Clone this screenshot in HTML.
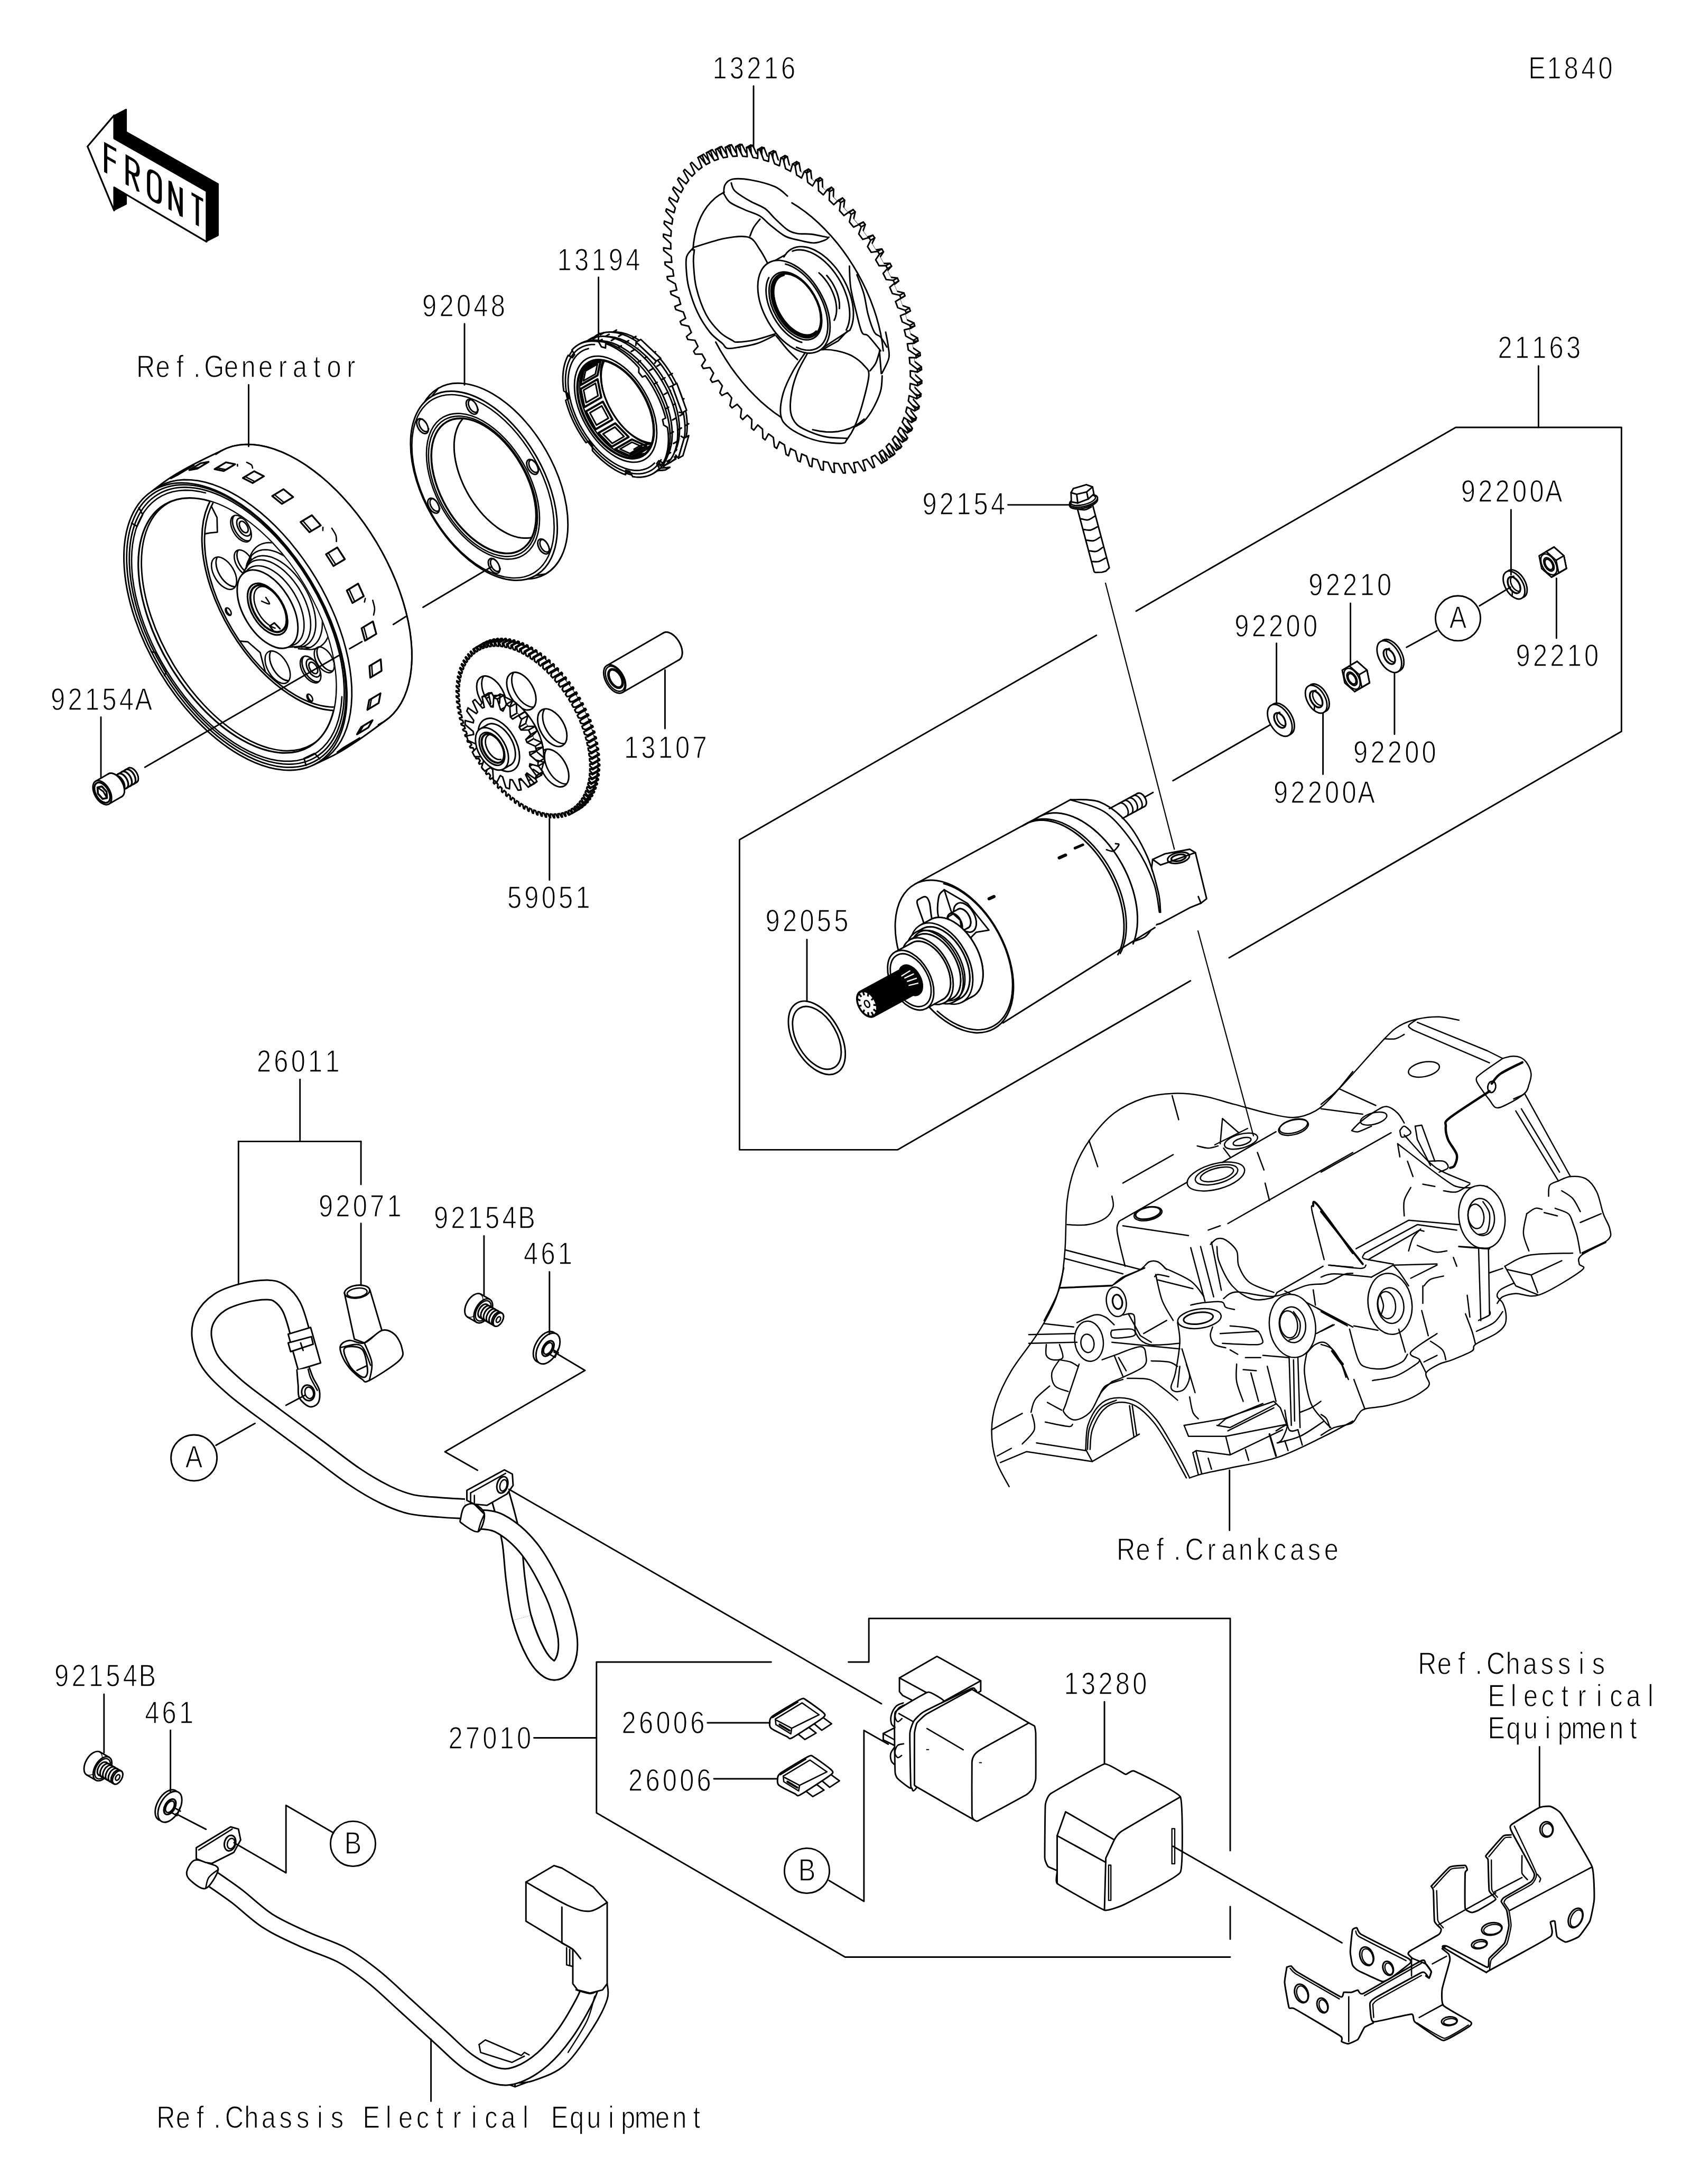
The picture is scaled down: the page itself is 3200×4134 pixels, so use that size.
<!DOCTYPE html>
<html><head><meta charset="utf-8"><title>E1840 Starter Motor</title>
<style>
html,body{margin:0;padding:0;background:#fff}
svg{display:block}
svg text{font-family:"Liberation Sans",sans-serif;font-size:58.5px;fill:#000;stroke:#fff;stroke-width:1.3px;text-anchor:middle}
</style></head><body>
<svg width="3200" height="4134" viewBox="0 0 3200 4134">
<rect width="3200" height="4134" fill="#fff"/>

<g fill="none" stroke="#000" stroke-width="2.9" stroke-linejoin="round" stroke-linecap="round">
<g id="p_arrow"><path d="M216 218.1L237.8 206.6L239.6 206.6L239.6 249.2L413.4 347.6L413.4 446.1L390.9 457.6L390.9 361.8L216 262Z" fill="#000" stroke-width="1"/><path d="M216 354.7L239.6 368.9L239.6 386.7L216 398.6Z" fill="#000" stroke-width="1"/><path d="M165.6 277.2L216 218.1L216 262L390.9 361.8L390.9 457.6L216 354.7L216 398.6Z" fill="#fff" stroke-width="3.2"/><path d="M0 57V0L20 0M0 25L19 25" transform="matrix(1 0.571 0 0.95 200 273)" stroke-width="6" stroke-linecap="butt" stroke-linejoin="miter"/><path d="M0 57V0H11Q21 0 21 14Q21 28 11 28H0M10 28L21 57" transform="matrix(1 0.571 0 0.95 240.6 296.4)" stroke-width="6" stroke-linecap="butt" stroke-linejoin="miter"/><path d="M11 0Q22 0 22 14V43Q22 57 11 57Q0 57 0 43V14Q0 0 11 0Z" transform="matrix(1 0.571 0 0.95 281.2 319.8)" stroke-width="6" stroke-linecap="butt" stroke-linejoin="miter"/><path d="M0 57V0L21 57V0" transform="matrix(1 0.571 0 0.95 321.8 343.2)" stroke-width="6" stroke-linecap="butt" stroke-linejoin="miter"/><path d="M0 0H22M11 0V57" transform="matrix(1 0.571 0 0.95 362.4 366.6)" stroke-width="6" stroke-linecap="butt" stroke-linejoin="miter"/></g>
<g id="p_gear"><path d="M1659.9 859.1L1663.2 857.3L1675.8 872.4L1678.9 870.4L1671.3 852L1674.4 849.7L1677.4 847.4L1690.6 861.5L1693.3 859L1684.7 840.8L1687.4 838L1690.1 835.2L1703.8 848.1L1706.2 845.2L1696.5 827.4L1698.9 824.2L1701.2 820.8L1715.3 832.5L1717.3 829.1L1706.7 811.9L1708.7 808.2L1710.6 804.4L1724.9 814.7L1726.6 810.9L1715.2 794.4L1716.8 790.3L1718.3 786.2L1732.7 795L1734.1 790.8L1721.8 775.2L1723 770.7L1724.1 766.1L1738.6 773.4L1739.5 768.9L1726.6 754.2L1727.4 749.4L1728.1 744.6L1742.4 750.2L1742.9 745.4L1729.5 731.8L1729.9 726.7L1730.1 721.6L1744.2 725.6L1744.3 720.5L1730.4 708.2L1730.4 702.8L1730.2 697.4L1743.9 699.7L1743.6 694.4L1729.5 683.4L1729 677.9L1728.4 672.3L1741.6 672.9L1740.9 667.4L1726.6 657.8L1725.7 652.1L1724.7 646.4L1737.3 645.3L1736.2 639.7L1721.8 631.6L1720.5 625.7L1719.1 619.9L1731 617.1L1729.5 611.4L1715.1 604.9L1713.4 599L1711.6 593.1L1722.7 588.6L1720.8 582.9L1706.6 578L1704.5 572.1L1702.4 566.2L1712.6 560.1L1710.3 554.4L1696.4 551.2L1694 545.3L1691.4 539.5L1700.7 531.8L1698.1 526.2L1684.6 524.7L1681.8 518.9L1678.9 513.1L1687.1 503.9L1684.2 498.4L1671.2 498.6L1668.1 492.9L1664.9 487.3L1671.9 476.7L1668.7 471.3L1656.4 473.2L1653 467.8L1649.5 462.3L1655.3 450.3L1651.8 445.2L1640.3 448.8L1636.6 443.6L1632.8 438.4L1637.4 425.1L1633.7 420.2L1623 425.5L1619.1 420.5L1615.1 415.6L1618.4 401.2L1614.5 396.7L1604.7 403.5L1600.6 398.9L1596.4 394.3L1598.4 378.9L1594.3 374.7L1585.5 383.1L1581.2 378.8L1576.9 374.6L1577.6 358.3L1573.3 354.4L1565.7 364.4L1561.2 360.5L1556.8 356.7L1556.1 339.7L1551.8 336.2L1545.3 347.5L1540.8 344L1536.2 340.7L1534.2 323L1529.8 320L1524.6 332.6L1520 329.6L1515.4 326.7L1512.1 308.6L1507.6 306L1503.6 319.9L1499 317.4L1494.4 315L1489.9 296.6L1485.4 294.4L1482.7 309.4L1478.1 307.3L1473.6 305.5L1467.7 286.9L1463.4 285.3L1462 301.2L1457.5 299.7L1453 298.3L1445.9 279.8L1441.6 278.7L1441.6 295.4L1437.2 294.4L1432.8 293.6L1424.6 275.3L1420.5 274.7L1421.7 292.1L1417.5 291.6L1413.2 291.4L1404 273.4L1400 273.3L1402.6 291.2L1398.5 291.3L1394.4 291.6L1384.2 274.1L1380.4 274.6L1384.3 292.8L1380.4 293.5L1376.6 294.3L1365.5 277.5L1361.9 278.4L1367 296.9L1363.4 298.1L1359.8 299.5L1347.9 283.4L1344.5 284.9L1350.9 303.4L1347.5 305.2L1344.2 307.1L1331.6 291.9L1328.6 293.9L1336.1 312.3" fill="#fff"/><path d="M1655.5 861.7L1663.2 857.3M1668.1 876.9L1675.8 872.4M1671.2 874.9L1678.9 870.4M1663.6 856.4L1671.3 852M1669.7 851.8L1677.4 847.4M1682.9 865.9L1690.6 861.5M1685.6 863.4L1693.3 859M1677 845.2L1684.7 840.8M1682.4 839.6L1690.1 835.2M1696.1 852.5L1703.8 848.1M1698.5 849.6L1706.2 845.2M1688.8 831.8L1696.5 827.4M1693.5 825.3L1701.2 820.8M1707.5 836.9L1715.3 832.5M1709.6 833.5L1717.3 829.1M1699 816.3L1706.7 811.9M1702.9 808.9L1710.6 804.4M1717.2 819.2L1724.9 814.7M1718.9 815.4L1726.6 810.9M1707.4 798.9L1715.2 794.4M1710.6 790.6L1718.3 786.2M1725 799.4L1732.7 795M1726.3 795.2L1734.1 790.8M1714.1 779.6L1721.8 775.2M1716.4 770.6L1724.1 766.1M1730.8 777.8L1738.6 773.4M1731.8 773.3L1739.5 768.9M1718.9 758.7L1726.6 754.2M1720.4 749L1728.1 744.6M1734.7 754.7L1742.4 750.2M1735.2 749.8L1742.9 745.4M1721.8 736.3L1729.5 731.8M1722.4 726L1730.1 721.6M1736.5 730L1744.2 725.6M1736.6 725L1744.3 720.5M1722.7 712.6L1730.4 708.2M1722.5 701.8L1730.2 697.4M1736.2 704.2L1743.9 699.7M1735.9 698.9L1743.6 694.4M1721.7 687.9L1729.5 683.4M1720.7 676.7L1728.4 672.3M1733.9 677.3L1741.6 672.9M1733.2 671.9L1740.9 667.4M1718.8 662.3L1726.6 657.8M1717 650.8L1724.7 646.4M1729.6 649.7L1737.3 645.3M1728.5 644.1L1736.2 639.7M1714 636L1721.8 631.6M1711.3 624.3L1719.1 619.9M1723.3 621.5L1731 617.1M1721.8 615.9L1729.5 611.4M1707.4 609.3L1715.1 604.9M1703.9 597.5L1711.6 593.1M1715 593.1L1722.7 588.6M1713.1 587.4L1720.8 582.9M1698.9 582.5L1706.6 578M1694.6 570.7L1702.4 566.2M1704.9 564.6L1712.6 560.1M1702.6 558.9L1710.3 554.4M1688.7 555.7L1696.4 551.2M1683.7 543.9L1691.4 539.5M1692.9 536.2L1700.7 531.8M1690.4 530.6L1698.1 526.2M1676.9 529.1L1684.6 524.7M1671.2 517.5L1678.9 513.1M1679.4 508.3L1687.1 503.9M1676.4 502.8L1684.2 498.4M1663.5 503L1671.2 498.6M1657.1 491.8L1664.9 487.3M1664.2 481.1L1671.9 476.7M1661 475.7L1668.7 471.3M1648.7 477.6L1656.4 473.2M1641.7 466.8L1649.5 462.3M1647.6 454.8L1655.3 450.3M1644.1 449.6L1651.8 445.2M1632.6 453.2L1640.3 448.8M1625.1 442.8L1632.8 438.4M1629.7 429.6L1637.4 425.1M1626 424.7L1633.7 420.2M1615.3 429.9L1623 425.5M1607.4 420.1L1615.1 415.6M1610.7 405.7L1618.4 401.2M1606.8 401.1L1614.5 396.7M1597 408L1604.7 403.5M1588.7 398.8L1596.4 394.3M1590.7 383.4L1598.4 378.9M1586.6 379.1L1594.3 374.7M1577.8 387.5L1585.5 383.1M1569.2 379.1L1576.9 374.6M1569.9 362.8L1577.6 358.3M1565.6 358.9L1573.3 354.4M1558 368.8L1565.7 364.4M1549.1 361.1L1556.8 356.7M1548.4 344.1L1556.1 339.7M1544.1 340.6L1551.8 336.2M1537.6 351.9L1545.3 347.5M1528.5 345.1L1536.2 340.7M1526.5 327.5L1534.2 323M1522.1 324.4L1529.8 320M1516.8 337L1524.6 332.6M1507.6 331.2L1515.4 326.7M1504.4 313.1L1512.1 308.6M1499.9 310.5L1507.6 306M1495.9 324.3L1503.6 319.9M1486.7 319.4L1494.4 315M1482.1 301L1489.9 296.6M1477.7 298.9L1485.4 294.4M1475 313.8L1482.7 309.4M1465.8 309.9L1473.6 305.5M1460 291.4L1467.7 286.9M1455.6 289.8L1463.4 285.3M1454.3 305.6L1462 301.2M1445.2 302.8L1453 298.3M1438.2 284.3L1445.9 279.8M1433.9 283.2L1441.6 278.7M1433.9 299.8L1441.6 295.4M1425.1 298.1L1432.8 293.6M1416.9 279.7L1424.6 275.3M1412.7 279.1L1420.5 274.7M1414 296.5L1421.7 292.1M1405.5 295.8L1413.2 291.4M1396.3 277.8L1404 273.4M1392.3 277.8L1400 273.3M1394.9 295.6L1402.6 291.2M1386.7 296L1394.4 291.6M1376.5 278.5L1384.2 274.1M1372.7 279L1380.4 274.6M1376.6 297.2L1384.3 292.8M1368.8 298.7L1376.6 294.3M1357.8 281.9L1365.5 277.5M1354.1 282.9L1361.9 278.4M1359.3 301.3L1367 296.9M1352.1 303.9L1359.8 299.5M1340.2 287.8L1347.9 283.4M1336.8 289.3L1344.5 284.9M1343.2 307.9L1350.9 303.4M1336.5 311.5L1344.2 307.1M1323.9 296.3L1331.6 291.9M1320.8 298.3L1328.6 293.9M1328.4 316.8L1336.1 312.3"/><g stroke="none"><ellipse cx="1503.7" cy="582.2" rx="319.5" ry="187.9" transform="rotate(60.1 1503.7 582.2)" fill="#fff"/></g><g stroke="none"><ellipse cx="1501.1" cy="583.7" rx="319.5" ry="187.9" transform="rotate(60.1 1501.1 583.7)" fill="#fff"/></g><g stroke="none"><ellipse cx="1498.5" cy="585.1" rx="319.5" ry="187.9" transform="rotate(60.1 1498.5 585.1)" fill="#fff"/></g><g stroke="none"><ellipse cx="1496" cy="586.6" rx="319.5" ry="187.9" transform="rotate(60.1 1496 586.6)" fill="#fff"/></g><path d="M1399.2 769.9L1403.3 774.4L1401.3 789.8L1405.4 794.1L1414.2 785.7L1418.5 789.9L1422.8 794.1L1422.1 810.4L1426.4 814.3L1434 804.4L1438.5 808.3L1442.9 812.1L1443.6 829.1L1447.9 832.6L1454.4 821.3L1459 824.7L1463.5 828.1L1465.5 845.7L1469.9 848.8L1475.2 836.2L1479.8 839.2L1484.4 842L1487.6 860.1L1492.1 862.7L1496.1 848.9L1500.7 851.4L1505.3 853.8L1509.9 872.2L1514.3 874.3L1517 859.4L1521.6 861.4L1526.2 863.3L1532 881.8L1536.4 883.4L1537.7 867.6L1542.3 869.1L1546.8 870.4L1553.8 888.9L1558.1 890L1558.1 873.4L1562.5 874.3L1566.9 875.1L1575.1 893.5L1579.3 894.1L1578 876.7L1582.3 877.1L1586.5 877.4L1595.7 895.4L1599.7 895.4L1597.1 877.6L1601.2 877.4L1605.3 877.2L1615.5 894.7L1619.3 894.2L1615.4 876L1619.3 875.3L1623.2 874.5L1634.2 891.3L1637.9 890.3L1632.7 871.9L1636.3 870.6L1639.9 869.3L1651.8 885.4L1655.2 883.9L1648.8 865.3L1652.2 863.6L1655.5 861.7L1668.1 876.9L1671.2 874.9L1663.6 856.4L1666.7 854.2L1669.7 851.8L1682.9 865.9L1685.6 863.4L1677 845.2L1679.7 842.5L1682.4 839.6L1696.1 852.5L1698.5 849.6L1688.8 831.8L1691.2 828.6L1693.5 825.3L1707.5 836.9L1709.6 833.5L1699 816.3L1701 812.6L1702.9 808.9L1717.2 819.2L1718.9 815.4L1707.4 798.9L1709.1 794.8L1710.6 790.6L1725 799.4L1726.3 795.2L1714.1 779.6L1715.3 775.1L1716.4 770.6L1730.8 777.8L1731.8 773.3L1718.9 758.7L1719.7 753.9L1720.4 749L1734.7 754.7L1735.2 749.8L1721.8 736.3L1722.1 731.2L1722.4 726L1736.5 730L1736.6 725L1722.7 712.6L1722.7 707.3L1722.5 701.8L1736.2 704.2L1735.9 698.9L1721.7 687.9L1721.3 682.3L1720.7 676.7L1733.9 677.3L1733.2 671.9L1718.8 662.3L1718 656.5L1717 650.8L1729.6 649.7L1728.5 644.1L1714 636L1712.7 630.2L1711.3 624.3L1723.3 621.5L1721.8 615.9L1707.4 609.3L1705.7 603.4L1703.9 597.5L1715 593.1L1713.1 587.4L1698.9 582.5L1696.8 576.6L1694.6 570.7L1704.9 564.6L1702.6 558.9L1688.7 555.7L1686.3 549.8L1683.7 543.9L1692.9 536.2L1690.4 530.6L1676.9 529.1L1674.1 523.3L1671.2 517.5L1679.4 508.3L1676.4 502.8L1663.5 503L1660.4 497.4L1657.1 491.8L1664.2 481.1L1661 475.7L1648.7 477.6L1645.2 472.2L1641.7 466.8L1647.6 454.8L1644.1 449.6L1632.6 453.2L1628.9 448L1625.1 442.8L1629.7 429.6L1626 424.7L1615.3 429.9L1611.3 425L1607.4 420.1L1610.7 405.7L1606.8 401.1L1597 408L1592.8 403.3L1588.7 398.8L1590.7 383.4L1586.6 379.1L1577.8 387.5L1573.5 383.3L1569.2 379.1L1569.9 362.8L1565.6 358.9L1558 368.8L1553.5 364.9L1549.1 361.1L1548.4 344.1L1544.1 340.6L1537.6 351.9L1533 348.5L1528.5 345.1L1526.5 327.5L1522.1 324.4L1516.8 337L1512.2 334L1507.6 331.2L1504.4 313.1L1499.9 310.5L1495.9 324.3L1491.3 321.8L1486.7 319.4L1482.1 301L1477.7 298.9L1475 313.8L1470.4 311.8L1465.8 309.9L1460 291.4L1455.6 289.8L1454.3 305.6L1449.7 304.1L1445.2 302.8L1438.2 284.3L1433.9 283.2L1433.9 299.8L1429.5 298.9L1425.1 298.1L1416.9 279.7L1412.7 279.1L1414 296.5L1409.7 296.1L1405.5 295.8L1396.3 277.8L1392.3 277.8L1394.9 295.6L1390.8 295.8L1386.7 296L1376.5 278.5L1372.7 279L1376.6 297.2L1372.7 297.9L1368.8 298.7L1357.8 281.9L1354.1 282.9L1359.3 301.3L1355.7 302.6L1352.1 303.9L1340.2 287.8L1336.8 289.3L1343.2 307.9L1339.8 309.6L1336.5 311.5L1323.9 296.3L1320.8 298.3L1328.4 316.8L1325.3 319L1322.3 321.4L1309.1 307.3L1306.4 309.8L1315 328L1312.3 330.7L1309.6 333.6L1295.9 320.7L1293.5 323.6L1303.2 341.4L1300.8 344.6L1298.5 347.9L1284.5 336.3L1282.4 339.7L1293 356.9L1291 360.6L1289.1 364.3L1274.8 354L1273.1 357.8L1284.6 374.3L1282.9 378.4L1281.4 382.6L1267 373.8L1265.7 378L1277.9 393.6L1276.7 398.1L1275.6 402.6L1261.2 395.4L1260.2 399.9L1273.1 414.5L1272.3 419.3L1271.6 424.2L1257.3 418.5L1256.8 423.4L1270.2 436.9L1269.9 442L1269.6 447.2L1255.5 443.2L1255.4 448.2L1269.3 460.6L1269.3 465.9L1269.5 471.4L1255.8 469L1256.1 474.3L1270.3 485.3L1270.7 490.9L1271.3 496.5L1258.1 495.9L1258.8 501.3L1273.2 510.9L1274 516.7L1275 522.4L1262.4 523.5L1263.5 529.1L1278 537.2L1279.3 543L1280.7 548.9L1268.7 551.7L1270.2 557.3L1284.6 563.9L1286.3 569.8L1288.1 575.7L1277 580.1L1278.9 585.8L1293.1 590.7L1295.2 596.6L1297.4 602.5L1287.1 608.6L1289.4 614.3L1303.3 617.5L1305.7 623.4L1308.3 629.3L1299.1 637L1301.6 642.6L1315.1 644.1L1317.9 649.9L1320.8 655.7L1312.6 664.9L1315.6 670.4L1328.5 670.2L1331.6 675.8L1334.9 681.4L1327.8 692.1L1331 697.5L1343.3 695.6L1346.8 701L1350.3 706.4L1344.4 718.4L1347.9 723.6L1359.4 720L1363.1 725.2L1366.9 730.4L1362.3 743.6L1366 748.5L1376.7 743.3L1380.7 748.2L1384.6 753.1L1381.3 767.5L1385.2 772.1L1395 765.2Z" fill="#fff"/><path d="M1370.5 363.7L1361.4 368.9L1352.9 375.2L1345.2 382.6L1338.1 390.9L1331.8 400.2L1326.3 410.4L1321.6 421.5L1317.7 433.4L1314.7 446.1L1312.6 459.4L1311.3 473.4"/><path d="M1354.4 647.5L1363.2 663.5L1372.7 679.1L1382.7 694.3L1393.4 708.9L1404.5 722.9L1416.1 736.2L1428.1 748.8L1440.4 760.6L1453 771.4L1465.8 781.4L1478.7 790.3"/><path d="M1671.4 664.1L1669.5 648.4L1666.7 632.4L1663 616.2L1658.5 599.8L1653.1 583.4L1647 567L1640 550.7L1632.3 534.6L1623.8 518.7L1614.7 503.2L1605 488.2L1594.7 473.7L1583.9 459.7L1572.6 446.4L1560.9 433.9L1548.9 422.1L1536.6 411.2L1524.1 401.1L1511.4 392.1L1498.6 384"/><path d="M1537.9 813.3L1550.5 816L1562.9 817.5L1574.8 817.7L1586.3 816.7L1597.3 814.4L1607.8 811L1617.6 806.3L1626.8 800.4L1635.2 793.3"/><path d="M1369.6 366.4C1370 363.7 1369.2 354.4 1371.9 349.9C1374.7 345.4 1378.2 340.8 1386.1 339.2C1394 337.7 1405.8 338.1 1419.2 340.4C1432.6 342.8 1454.7 348.3 1466.5 353.4C1478.4 358.6 1486.3 368.2 1490.2 371.2"/><path d="M1369.6 366.4C1371.5 369.2 1374.7 377.9 1381.4 383C1388.1 388.1 1400.3 392.9 1409.8 397.2C1419.2 401.5 1430.3 404.3 1438.2 409C1446 413.8 1449.2 419.3 1457.1 425.6C1465 431.9 1476 441.9 1485.5 446.9C1494.9 451.8 1504.8 453 1513.9 455.2C1522.9 457.3 1532 460 1539.9 459.9C1547.8 459.8 1556.4 456.3 1561.2 454.4C1566 452.6 1567.5 449.7 1568.7 448.8"/><path d="M1383.8 346.3C1384.9 348.9 1384.9 356 1390.9 361.7C1396.8 367.4 1409.8 375.1 1419.2 380.6C1428.7 386.2 1439.7 389.3 1447.6 394.8C1455.5 400.4 1459.5 407.1 1466.5 413.8C1473.6 420.5 1483.1 430.3 1490.2 435C1497.3 439.8 1501.6 440.8 1509.1 442.1C1516.6 443.5 1525.7 442.1 1535.1 443.3C1544.6 444.5 1560.8 448.3 1565.9 449.2"/><path d="M1438.2 414.9C1436.2 417.5 1429.5 425 1426.3 430.3C1423.2 435.6 1420.4 444.1 1419.2 446.9"/><path d="M1312.8 468.2C1322.6 465.3 1354.6 454.3 1371.9 451.1C1389.3 448 1405.8 445.6 1416.9 449.2C1427.9 452.9 1432.1 464.4 1438.2 472.9C1444.3 481.4 1451 495.6 1453.5 500.1"/><path d="M1312.8 468.2C1310.6 470.9 1302.1 478 1299.8 484.7C1297.4 491.4 1298 498.5 1298.6 508.4C1299.2 518.2 1299.8 530.1 1303.3 543.9C1306.9 557.7 1313.2 577 1319.9 591.2C1326.6 605.4 1335.7 619.2 1343.5 629C1351.4 638.9 1361.7 645.2 1367.2 650.3C1372.7 655.4 1371.1 658.2 1376.7 659.3C1382.2 660.5 1390.9 658.6 1400.3 657C1409.8 655.4 1422.4 653.6 1433.4 649.9C1444.5 646.1 1461 637.1 1466.5 634.5"/><path d="M1314 472.9C1313.7 476.8 1311.7 484.7 1312.3 496.5C1312.9 508.4 1313.5 527.3 1317.5 543.9C1321.5 560.4 1329 581.7 1336.4 595.9C1343.9 610.1 1354.2 620.9 1362.5 629C1370.7 637.1 1380.6 641.3 1386.1 644.4C1391.6 647.5 1388.1 647.8 1395.6 647.5C1403.1 647.3 1419.2 645.4 1431.1 642.8C1442.9 640.2 1460.6 633.9 1466.5 632.1"/><path d="M1468.9 635.7C1472.5 640 1483.5 654.2 1490.2 661.7C1496.9 669.2 1506 677.5 1509.1 680.6"/><path d="M1524.6 666.4C1520.7 672.4 1508.1 688.9 1501 701.9C1493.9 714.9 1486 730.7 1482 744.5C1478.1 758.3 1476.1 774.5 1477.3 784.7C1478.5 795 1482 799.3 1489.1 806C1496.2 812.7 1509.2 820 1519.9 824.9C1530.5 829.9 1540.8 833.2 1553 835.6C1565.2 837.9 1584.9 839.7 1593.2 839.1C1601.5 838.5 1598.7 837.2 1602.7 832C1606.6 826.9 1612.1 819 1616.9 808.4C1621.6 797.7 1626.5 784.3 1631.1 768.2C1635.6 752 1643.3 724 1644.1 711.4C1644.9 698.8 1641.1 698.8 1635.8 692.5C1630.5 686.2 1620.8 678.3 1612.1 673.5C1603.5 668.8 1592.8 666.1 1583.8 664.1C1574.7 662.1 1567.6 661.3 1557.7 661.7C1547.9 662.1 1530.1 665.7 1524.6 666.4"/><path d="M1529.3 666.4C1526.2 672.4 1515.6 689.7 1510.4 701.9C1505.3 714.1 1501 726.8 1498.6 739.8C1496.2 752.8 1494.7 769.3 1496.2 780C1497.8 790.6 1501.8 797.3 1508.1 803.6C1514.4 810 1524.6 813.9 1534.1 817.8C1543.5 821.8 1553.4 825.3 1564.8 827.3C1576.3 829.3 1596.4 829.3 1602.7 829.7"/><path d="M1607.4 503.6C1607.8 510.3 1607.6 529.3 1609.8 543.9C1611.9 558.4 1616.9 577 1620.4 591.2C1624 605.4 1627.3 621.6 1631.1 629C1634.8 636.4 1637 629.9 1642.9 635.7C1648.8 641.5 1662.6 659.3 1666.5 664.1"/><path d="M1621.6 520.2C1623.8 526.1 1631.1 543.1 1634.6 555.7C1638.2 568.3 1639.5 583.7 1642.9 595.9C1646.2 608.1 1650.8 622 1654.7 629C1658.7 636 1662.6 633.4 1666.5 638.1C1670.5 642.7 1676.4 653.8 1678.4 657"/><path d="M1676 628.6C1676.8 632.9 1679.8 646.3 1680.7 654.6C1681.7 662.9 1683.9 669.6 1681.9 678.3C1680 686.9 1671.1 701.9 1668.9 706.7"/><path d="M1664.2 664.1L1667.7 707.1"/><path d="M1664.2 666.4C1663 670 1660 681.8 1657.1 687.7C1654.1 693.6 1648.2 699.6 1646.4 701.9"/><path d="M1669.4 711.4C1668.9 716.1 1669.4 729.5 1666.5 739.8C1663.7 750 1657.5 763.4 1652.4 772.9C1647.2 782.4 1641.3 790.8 1635.8 796.5C1630.3 802.3 1622 805.4 1619.2 807.2"/><path d="M1558.9 660.5L1586.1 645.2L1603.9 626.2"/><path d="M1608.2 624.9L1610.2 620.9L1611.8 616.5L1613.1 611.8L1614.1 606.9L1614.7 601.7L1615 596.3L1615 590.7L1614.6 585L1613.9 579.1L1612.9 573L1611.5 566.9L1609.8 560.7L1607.8 554.5L1605.5 548.4L1603 542.2L1600.1 536.1L1597 530.1L1593.6 524.3L1590 518.5L1586.2 513L1582.2 507.7L1578 502.6L1573.6 497.7L1569.1 493.2L1564.5 488.9L1559.8 485L1555.1 481.4L1550.3 478.2L1545.4 475.4L1540.6 472.9L1535.8 470.9L1531.1 469.2L1526.4 468L1521.8 467.2L1517.3 466.9L1513 466.9L1508.9 467.4L1504.9 468.4L1501.1 469.7L1497.5 471.5L1494.2 473.7L1491.1 476.3L1488.3 479.3L1485.8 482.6L1483.5 486.3"/><path d="M1601.4 624.5L1603.3 620.5L1604.9 616.2L1606.2 611.7L1607.1 606.8L1607.7 601.8L1608 596.5L1607.9 591L1607.5 585.3L1606.7 579.5L1605.7 573.6L1604.3 567.6L1602.6 561.5L1600.5 555.5L1598.2 549.4L1595.6 543.4L1592.7 537.5L1589.6 531.7L1586.2 526L1582.6 520.5L1578.8 515.1L1574.8 510L1570.6 505.1L1566.3 500.5L1561.9 496.2L1557.3 492.2L1552.7 488.5L1548 485.2L1543.3 482.3L1538.6 479.7L1533.9 477.5L1529.2 475.8L1524.6 474.4L1520.1 473.5L1515.7 473L1511.4 472.9L1507.3 473.3L1503.4 474.1L1499.6 475.3"/><path d="M1445.4 505L1485.8 482.6"/><path d="M1558 657.7L1608.2 624.9"/><ellipse cx="1502.4" cy="580.6" rx="96" ry="56.4" transform="rotate(60.1 1502.4 580.6)" fill="#fff"/><path d="M1507.3 657.3L1511.8 659.2L1516.2 660.8L1520.6 661.9L1524.9 662.6L1529.1 662.9L1533.1 662.9L1537 662.3L1540.7 661.4L1544.3 660.1L1547.6 658.4L1550.7 656.3L1553.6 653.9L1556.2 651L1558.5 647.8L1560.6 644.3L1562.3 640.5L1563.8 636.3L1565 631.9L1565.8 627.3L1566.3 622.4L1566.6 617.3L1566.5 612L1566 606.5L1565.3 600.9L1564.3 595.3L1562.9 589.5L1561.2 583.7L1559.3 577.9L1557.1 572.1L1554.5 566.4L1551.8 560.7L1548.8 555.1L1545.5 549.6L1542.1 544.3L1538.4 539.2L1534.6 534.3L1530.6 529.6L1526.5 525.2L1522.2 521L1517.9 517.2L1513.4 513.6L1508.9 510.4L1504.4 507.5L1499.9 505L1495.4 502.9L1490.9 501.2L1486.5 499.8"/><ellipse cx="1505.2" cy="579" rx="70" ry="41.2" transform="rotate(60.1 1505.2 579)"/><ellipse cx="1506.6" cy="578.2" rx="66" ry="38.8" transform="rotate(60.1 1506.6 578.2)" stroke-width="4"/><path d="M1482.7 520.4L1480.1 521.1L1477.7 522.1L1475.5 523.4L1473.4 525L1471.5 526.8L1469.8 528.8L1468.2 531.1L1466.9 533.7L1465.7 536.4L1464.8 539.3L1464 542.4L1463.5 545.7L1463.2 549.1L1463.1 552.7L1463.2 556.4L1463.6 560.2L1464.1 564.1L1464.9 568L1465.9 572L1467.1 576L1468.5 580.1L1470.1 584.1L1471.8 588.1L1473.8 592L1475.9 595.8L1478.2 599.6L1480.6 603.3L1483.1 606.8L1485.8 610.2L1488.6 613.4L1491.4 616.5L1494.4 619.3L1497.4 622L1500.5 624.4L1503.6 626.6L1506.7 628.6L1509.9 630.3L1513 631.8L1516.1 633L1519.2 633.9L1522.2 634.6L1525.1 634.9L1528 635L1530.7 634.8L1533.4 634.4L1535.9 633.6L1538.3 632.6L1540.5 631.3L1542.6 629.8L1544.5 628" stroke-width="5"/><path d="M1455 525.5L1453.4 528.7L1452.1 532.2L1451.1 535.9L1450.3 539.8L1449.9 544L1449.6 548.3L1449.7 552.8L1450 557.4L1450.6 562.1L1451.5 566.9L1452.6 571.8L1454 576.7L1455.6 581.6L1457.5 586.5L1459.6 591.4L1461.9 596.2L1464.4 601L1467.2 605.6L1470.1 610.1L1473.2 614.5L1476.4 618.7L1479.8 622.7L1483.3 626.4L1486.9 630L1490.6 633.3L1494.4 636.3L1498.2 639L1502 641.4L1505.9 643.6L1509.7 645.4L1513.5 646.9L1517.2 648"/><path d="M1578.6 606.2L1579.9 603.5L1580.9 600.6L1581.8 597.5L1582.4 594.3L1582.9 590.9L1583.1 587.3L1583.1 583.6L1582.8 579.8L1582.3 575.9L1581.7 571.9L1580.8 567.9L1579.7 563.8L1578.3 559.7L1576.8 555.7L1575.1 551.6L1573.2 547.6L1571.2 543.6L1568.9 539.8L1566.6 536L1564 532.3L1561.4 528.8L1558.6 525.5L1555.8 522.3L1552.8 519.3L1549.8 516.5"/><path d="M1588.4 584.1L1588.6 580.7L1588.6 577.1L1588.4 573.4L1587.9 569.7L1587.2 565.8L1586.3 561.9L1585.2 558L1583.9 554L1582.4 550.1L1580.7 546.2L1578.8 542.3L1576.8 538.5L1574.6 534.8L1572.2 531.2L1569.7 527.8L1567.1 524.5L1564.4 521.3"/></g>
<g id="p_clutch"><ellipse cx="1204.8" cy="751.5" rx="135" ry="78.3" transform="rotate(60 1204.8 751.5)" fill="#fff"/><ellipse cx="1197.9" cy="755.5" rx="139" ry="80.6" transform="rotate(60 1197.9 755.5)" fill="#fff"/><ellipse cx="1191" cy="759.5" rx="134" ry="77.7" transform="rotate(60 1191 759.5)" fill="#fff"/><ellipse cx="1184.1" cy="763.5" rx="139" ry="80.6" transform="rotate(60 1184.1 763.5)" fill="#fff"/><ellipse cx="1177.1" cy="767.5" rx="134" ry="77.7" transform="rotate(60 1177.1 767.5)" fill="#fff"/><ellipse cx="1171.1" cy="771" rx="137" ry="79.5" transform="rotate(60 1171.1 771)" fill="#fff"/><path d="M1213.2 869.6L1206.3 873.6M1249.4 878.4L1242.4 882.4M1279 868.8L1272.1 872.8M1297.9 842L1291 846M1303.2 802.1L1296.3 806.1M1294.2 754.8L1287.3 758.8M1272.2 707L1265.3 711M1240.4 665.7L1233.4 669.7M1203.3 636.9L1196.4 640.9M1166.6 624.8L1159.6 628.8M1135.3 631.1L1128.4 635.1M1114.2 655L1107.3 659M1224.8 880.3L1217.9 884.3M1258.4 879.9L1251.5 883.9M1283.1 861.3L1276.2 865.3M1295.4 827.4L1288.5 831.4M1293.6 782.9L1286.6 786.9M1277.7 734.5L1270.8 738.5M1250.3 689.1L1243.4 693.1M1215.2 653.4L1208.3 657.4M1177.6 632.6L1170.7 636.6M1143 629.6L1136.1 633.6M1116.4 645L1109.4 649M1101.6 676.5L1094.7 680.5M1199.3 877.6L1192.4 881.6M1235.5 886.4L1228.6 890.4M1265.2 876.8L1258.3 880.8M1284.1 850L1277.1 854M1289.4 810.1L1282.4 814.1M1280.4 762.8L1273.4 766.8M1258.3 715L1251.4 719M1226.5 673.7L1219.6 677.7M1189.5 644.9L1182.6 648.9M1152.7 632.8L1145.8 636.8M1121.5 639.1L1114.6 643.1M1100.4 663L1093.5 667M1211 888.3L1204.1 892.3M1244.5 887.9L1237.6 891.9M1269.3 869.3L1262.3 873.3M1281.6 835.4L1274.6 839.4M1279.7 790.9L1272.8 794.9M1263.9 742.5L1257 746.5M1236.4 697.1L1229.5 701.1M1201.4 661.4L1194.5 665.4M1163.8 640.6L1156.9 644.6M1129.2 637.6L1122.2 641.6M1102.5 653L1095.6 657M1087.7 684.5L1080.8 688.5M1185.4 883.9L1179.3 887.4M1221 892.6L1214.9 896.1M1250.3 883.1L1244.2 886.6M1268.9 856.7L1262.8 860.2M1274.1 817.4L1268 820.9M1265.2 770.7L1259.2 774.2M1243.5 723.7L1237.4 727.2M1212.1 682.9L1206.1 686.4M1175.7 654.6L1169.6 658.1M1139.4 642.6L1133.3 646.1M1108.6 648.9L1102.6 652.4M1087.8 672.4L1081.8 675.9" stroke-width="3"/><path d="M1203.2 653.6L1203.9 647.5L1241.7 683.4L1238.9 687.6" fill="#fff"/><path d="M1203.9 647.5L1212.6 642.5L1250.4 678.4L1241.7 683.4Z" fill="#fff"/><path d="M1267.7 732L1272.1 730.4L1290.7 781.6L1285.3 780.4" fill="#fff"/><path d="M1272.1 730.4L1280.8 725.4L1299.3 776.6L1290.7 781.6Z" fill="#fff"/><path d="M1289.1 825.8L1294.7 829.6L1283.7 867.4L1278.7 861.5" fill="#fff"/><path d="M1294.7 829.6L1303.4 824.6L1292.4 862.4L1283.7 867.4Z" fill="#fff"/><path d="M1255.4 882.4L1259.2 889.5L1224.7 892.6L1222.8 885.4" fill="#fff"/><path d="M1259.2 889.5L1267.8 884.5L1233.3 887.6L1224.7 892.6Z" fill="#fff"/><path d="M1142.8 646.3L1136.1 644.8L1129.6 644L1123.3 643.7L1117.2 644.1L1111.3 645.1L1105.8 646.8L1100.5 649L1095.5 651.9L1090.9 655.3L1086.7 659.3L1082.9 663.9L1079.5 669L1076.6 674.6L1074.1 680.7L1072 687.2L1070.4 694.1L1069.3 701.5L1068.7 709.1L1068.5 717.1L1068.9 725.3L1069.7 733.8L1071 742.5L1072.8 751.3L1075.1 760.2L1077.8 769.2L1081 778.1L1084.5 787.1L1088.5 796L1092.9 804.8L1097.6 813.4L1102.7 821.8L1108.1 830L1113.8 837.9L1119.8 845.5L1126 852.7L1132.4 859.5L1139 865.9L1145.8 871.9L1152.6 877.4L1159.5 882.3L1166.5 886.7L1173.5 890.6L1180.4 893.9L1187.3 896.6L1194.1 898.7L1200.8 900.2L1207.3 901L1213.6 901.3L1219.7 900.9L1225.6 899.9L1231.2 898.2L1236.4 896L1241.4 893.1L1246 889.7L1250.2 885.7L1254 881.1L1257.4 876L1260.4 870.4L1262.9 864.3L1264.9 857.8" stroke-width="2.8"/><path d="M1132.7 646.8L1127.6 646.1L1122.7 645.8L1117.9 645.8L1113.2 646.2L1108.7 647L1104.3 648.1L1100.2 649.6L1096.2 651.5L1092.4 653.7L1088.8 656.3L1085.4 659.2L1082.3 662.4L1082.3 662.4L1087.3 671.4L1083.1 677.1L1075.3 672.4L1075.3 672.4L1073 676.7L1071.1 681.4L1069.4 686.3L1068 691.5L1066.8 696.9L1066 702.5L1065.4 708.4L1065.1 714.4L1065.1 720.6L1065.4 727L1066 733.5L1066.9 740.1L1066.9 740.1L1074.1 744.6L1076.2 754.8L1070.4 757.7L1070.4 757.7L1072.3 764.6L1074.5 771.5L1076.9 778.5L1079.5 785.4L1082.4 792.3L1085.6 799.1L1089 805.9L1092.6 812.5L1096.4 819.1L1100.4 825.5L1104.6 831.8L1108.9 837.9L1108.9 837.9L1114.3 835.2L1121.2 844L1121 852.9L1121 852.9L1125.9 858.3L1130.9 863.4L1136 868.3L1141.2 872.9L1146.4 877.2L1151.7 881.3L1157.1 885L1162.4 888.4L1167.8 891.5L1173.2 894.2L1178.5 896.6L1183.8 898.6L1183.8 898.6L1184.1 890.3L1191.9 892.5L1197.3 902.2L1197.3 902.2L1202.4 902.9L1207.3 903.2L1212.1 903.2L1216.8 902.8L1221.3 902L1225.7 900.9L1229.8 899.4L1233.8 897.5L1237.6 895.3L1241.2 892.7L1244.6 889.8L1247.7 886.6L1247.7 886.6L1242.7 877.6L1246.9 871.9L1254.7 876.6L1254.7 876.6L1257 872.3L1258.9 867.6L1260.6 862.7L1262 857.5L1263.2 852.1L1264 846.5L1264.6 840.6L1264.9 834.6L1264.9 828.4L1264.6 822L1264 815.5L1263.1 808.9L1263.1 808.9L1255.9 804.4L1253.8 794.2L1259.6 791.3L1259.6 791.3L1257.7 784.4L1255.5 777.5L1253.1 770.5L1250.5 763.6L1247.6 756.7L1244.4 749.9L1241 743.1L1237.4 736.5L1233.6 729.9L1229.6 723.5L1225.4 717.2L1221.1 711.1L1221.1 711.1L1215.7 713.8L1208.8 705L1209 696.1L1209 696.1L1204.1 690.7L1199.1 685.6L1194 680.7L1188.8 676.1L1183.6 671.8L1178.3 667.7L1172.9 664L1167.6 660.6L1162.2 657.5L1156.8 654.8L1151.5 652.4L1146.2 650.4L1146.2 650.4L1145.9 658.7L1138.1 656.5L1132.7 646.8Z" fill="#fff"/><path d="M1125.1 652.2L1119.1 652.2L1113.5 652.9L1108 654.2L1102.9 656L1098 658.5L1093.5 661.4L1089.3 665L1085.5 669.1L1082 673.7L1079 678.7L1076.4 684.3L1074.2 690.3L1072.5 696.7L1071.2 703.5L1070.4 710.6L1070 718L1070.1 725.7L1070.7 733.7L1071.7 741.8L1073.2 750.1L1075.1 758.6L1077.5 767.1L1080.3 775.6L1083.5 784.1L1087.1 792.6L1091.1 801L1095.4 809.3L1100.1 817.4L1105.1 825.3L1110.3 832.9L1115.9 840.3L1121.7 847.3L1127.7 854L1133.9 860.3L1140.2 866.2L1146.7 871.6L1153.2 876.6L1159.8 881L1166.4 885L1173.1 888.4L1179.6 891.2L1186.2 893.5L1192.6 895.2L1198.8 896.3L1204.9 896.8L1210.9 896.8L1216.5 896.1L1222 894.8L1227.1 893L1232 890.5L1236.5 887.6L1240.7 884L1244.5 879.9L1248 875.3L1251 870.3" stroke-width="2.8"/><path d="M1113.5 659.8L1108.5 661.3L1103.8 663.3L1099.3 665.9L1095.2 669L1091.4 672.6L1088 676.7L1084.9 681.3L1082.2 686.3L1080 691.8L1078.1 697.7L1076.7 703.9L1075.7 710.5L1075.1 717.4L1075 724.6L1075.3 732L1076.1 739.6L1077.3 747.5L1078.9 755.4L1080.9 763.4L1083.3 771.5L1086.2 779.6L1089.4 787.7L1093 795.7L1096.9 803.6L1101.2 811.3L1105.8 818.9L1110.7 826.3L1115.8 833.4L1121.2 840.2L1126.8 846.7L1132.6 852.9L1138.5 858.7L1144.6 864L1150.7 868.9L1156.9 873.4L1163.2 877.4L1169.5 880.9L1175.8 883.8L1182 886.3L1188.1 888.2L1194.1 889.5L1200 890.3L1205.7 890.5L1211.2 890.1L1216.5 889.2L1221.5 887.7L1226.2 885.7L1230.7 883.1L1234.8 880L1238.6 876.4" stroke-width="2.8"/><ellipse cx="1165" cy="774.5" rx="110" ry="63.8" transform="rotate(60 1165 774.5)" stroke-width="2.8"/><ellipse cx="1165" cy="774.5" rx="102" ry="59.2" transform="rotate(60 1165 774.5)" fill="#fff" stroke-width="4.5"/><clipPath id="clclip"><ellipse cx="1165" cy="774.5" rx="100.5" ry="58.3" transform="rotate(60 1165 774.5)"/></clipPath><g clip-path="url(#clclip)"><ellipse cx="1208.3" cy="749.5" rx="101" ry="58.6" transform="rotate(60 1208.3 749.5)" stroke-width="3.2"/><ellipse cx="1205.7" cy="751" rx="96" ry="55.7" transform="rotate(60 1205.7 751)" stroke-width="2.8"/><path d="M1150.1 682.1L1145.3 681L1140.6 680.4L1136.1 680.3L1131.7 680.5L1127.5 681.3L1123.5 682.4L1119.8 684.1L1116.2 686.1L1112.9 688.6L1109.9 691.4L1107.2 694.7L1104.8 698.4L1102.6 702.4L1100.8 706.7L1099.4 711.4L1098.2 716.4L1097.4 721.6L1097 727.1L1096.9 732.8L1097.1 738.7L1097.7 744.8L1098.7 751L1100 757.3L1101.6 763.7L1103.5 770.1L1105.8 776.5L1108.3 783L1111.2 789.3L1114.3 795.6L1117.7 801.8L1121.4 807.8L1125.3 813.7L1129.3 819.3L1133.6 824.8L1138.1 829.9L1142.7 834.8L1147.4 839.4L1152.2 843.7L1157.1 847.6L1162.1 851.2L1167.1 854.3L1172 857.1L1177 859.5L1182 861.4L1186.8 862.9L1191.6 864L1196.3 864.6L1200.8 864.7L1205.2 864.5L1209.4 863.7L1213.4 862.6L1217.2 860.9L1220.7 858.9L1224 856.4L1227 853.6L1229.7 850.3L1232.2 846.6L1234.3 842.6L1236.1 838.3L1237.6 833.6" stroke-width="2.8"/><path d="M1124.3 681.8L1107.1 696.4L1139.1 677.9L1156.4 663.3Z" stroke-width="4"/><path d="M1126.2 680.3L1114.4 690.3L1137 677.3L1148.8 667.3Z" stroke-width="3"/><path d="M1104.4 701.4L1098.6 728.9L1130.7 710.4L1136.4 682.9Z" stroke-width="4"/><path d="M1108 702.2L1104 721L1126.6 708L1130.5 689.2Z" stroke-width="3"/><path d="M1098.8 736.2L1105.8 770.7L1137.8 752.2L1130.8 717.7Z" stroke-width="4"/><path d="M1104.4 738.5L1109.2 762.1L1131.7 749.1L1126.9 725.5Z" stroke-width="3"/><path d="M1108.8 778.8L1127 812.7L1159 794.2L1140.8 760.3Z" stroke-width="4"/><path d="M1116.3 781.4L1128.8 804.6L1151.3 791.6L1138.8 768.4Z" stroke-width="3"/><path d="M1132.1 819.7L1157.6 845.7L1189.6 827.2L1164.2 801.2Z" stroke-width="4"/><path d="M1141.1 821.4L1158.5 839.2L1181 826.2L1163.6 808.4Z" stroke-width="3"/><path d="M1163.8 850.2L1191 862.5L1223 844L1195.8 831.7Z" stroke-width="4"/><path d="M1173.4 850L1191.9 858.4L1214.5 845.4L1195.9 837Z" stroke-width="3"/><path d="M1196.9 863.5L1219.8 859.5L1251.8 841L1228.9 845Z" stroke-width="4"/><path d="M1206.1 860.7L1221.8 858L1244.3 845L1228.6 847.7Z" stroke-width="3"/><path d="M1191 689.1C1193.8 691.9 1202.3 699.7 1207.7 705.9C1213.1 712.2 1219.1 720.5 1223.4 726.6C1227.8 732.7 1232 739.9 1233.8 742.5"/><path d="M1246 766.8C1246.4 769.5 1247.9 776.8 1248.2 783.1C1248.5 789.3 1248 797.5 1247.9 804.5C1247.8 811.4 1247.4 821.4 1247.3 824.8"/><path d="M1241.1 842.4C1239.2 842.1 1234.5 840.8 1230 840.9C1225.5 841 1219 841.3 1214 842.9C1208.9 844.5 1202.1 849.2 1199.8 850.4"/></g></g>
<g id="p_ring"><ellipse cx="930.9" cy="910.7" rx="203" ry="117.7" transform="rotate(60 930.9 910.7)" fill="#fff"/><path d="M1013.4 1089.4L1032.4 1086.5"/><path d="M817.4 749.9L829.4 734.9"/><ellipse cx="915.8" cy="919.5" rx="196" ry="113.7" transform="rotate(60 915.8 919.5)" fill="#fff"/><ellipse cx="914" cy="920.5" rx="190" ry="110.2" transform="rotate(60 914 920.5)" stroke-width="2.6"/><ellipse cx="914" cy="920.5" rx="151" ry="87.6" transform="rotate(60 914 920.5)" stroke-width="2.6"/><ellipse cx="914" cy="920.5" rx="145.5" ry="84.4" transform="rotate(60 914 920.5)" stroke-width="2.6"/><ellipse cx="915.4" cy="919.7" rx="140" ry="81.2" transform="rotate(60 915.4 919.7)" fill="#fff" stroke-width="3.6"/><clipPath id="ringclip"><ellipse cx="915.4" cy="919.7" rx="139" ry="80.6" transform="rotate(60 915.4 919.7)"/></clipPath><g clip-path="url(#ringclip)"><path d="M928.8 780L922.5 778.6L916.3 777.8L910.4 777.6L904.6 777.9L899.1 778.9L893.8 780.5L888.9 782.7L884.2 785.4L879.9 788.7L876 792.5L872.4 796.9L869.2 801.7L866.5 807.1L864.2 812.9L862.3 819.1L860.8 825.7L859.9 832.6L859.3 839.9L859.3 847.5L859.7 855.3L860.6 863.4L861.9 871.6L863.7 879.9L865.9 888.3L868.5 896.8L871.6 905.3L875.1 913.8L878.9 922.1L883.2 930.4L887.7 938.5L892.6 946.4L897.8 954L903.3 961.4L909 968.5L914.9 975.2L921 981.5L927.3 987.4L933.7 992.9L940.2 997.9L946.7 1002.4L953.3 1006.4L959.9 1009.9L966.4 1012.8L972.9 1015.1L979.3 1016.9L985.5 1018L991.6 1018.6L997.5 1018.6L1003.2 1017.9L1008.6 1016.7L1013.8 1014.9L1018.6 1012.5L1023.1 1009.6L1027.3 1006.1L1031.1 1002L1034.5 997.5L1037.5 992.4" stroke-width="3"/></g><ellipse cx="1028.5" cy="1034.4" rx="15.5" ry="9" transform="rotate(60 1028.5 1034.4)" fill="#fff"/><path d="M1028.6 1021.4L1027.9 1021.2L1027.3 1021.1L1026.7 1021.1L1026.2 1021.2L1025.6 1021.3L1025.1 1021.4L1024.6 1021.6L1024.2 1021.9L1023.7 1022.2L1023.4 1022.6L1023 1023L1022.7 1023.5L1022.4 1024L1022.2 1024.6L1022 1025.2L1021.9 1025.9L1021.8 1026.5L1021.7 1027.3L1021.7 1028L1021.8 1028.8L1021.8 1029.6L1022 1030.4L1022.1 1031.2L1022.4 1032L1022.6 1032.9L1022.9 1033.7L1023.3 1034.5L1023.6 1035.3L1024.1 1036.2L1024.5 1037L1025 1037.7L1025.5 1038.5L1026 1039.2L1026.6 1039.9L1027.2 1040.6L1027.8 1041.2L1028.4 1041.8L1029 1042.3L1029.7 1042.8L1030.3 1043.3L1031 1043.7L1031.6 1044L1032.2 1044.3L1032.9 1044.5L1033.5 1044.7L1034.1 1044.8L1034.7 1044.9L1035.3 1044.9L1035.9 1044.8L1036.4 1044.7L1036.9 1044.5L1037.4 1044.3L1037.8 1044L1038.2 1043.6L1038.6 1043.2L1039 1042.8L1039.3 1042.3L1039.5 1041.8L1039.7 1041.2L1039.9 1040.6L1040 1039.9L1040.1 1039.2" stroke-width="2.8"/><ellipse cx="1007.6" cy="883.8" rx="15.5" ry="9" transform="rotate(60 1007.6 883.8)" fill="#fff"/><path d="M1007.7 870.7L1007 870.6L1006.4 870.5L1005.9 870.5L1005.3 870.5L1004.7 870.6L1004.2 870.8L1003.7 871L1003.3 871.3L1002.9 871.6L1002.5 872L1002.1 872.4L1001.8 872.9L1001.5 873.4L1001.3 874L1001.1 874.6L1001 875.2L1000.9 875.9L1000.8 876.6L1000.8 877.4L1000.9 878.1L1000.9 878.9L1001.1 879.7L1001.2 880.6L1001.5 881.4L1001.7 882.2L1002 883.1L1002.4 883.9L1002.7 884.7L1003.2 885.5L1003.6 886.3L1004.1 887.1L1004.6 887.9L1005.1 888.6L1005.7 889.3L1006.3 889.9L1006.9 890.6L1007.5 891.1L1008.1 891.7L1008.8 892.2L1009.4 892.6L1010.1 893L1010.7 893.4L1011.4 893.7L1012 893.9L1012.6 894.1L1013.2 894.2L1013.8 894.2L1014.4 894.2L1015 894.2L1015.5 894.1L1016 893.9L1016.5 893.6L1016.9 893.4L1017.4 893L1017.7 892.6L1018.1 892.2L1018.4 891.7L1018.6 891.1L1018.8 890.6L1019 889.9L1019.1 889.3L1019.2 888.6" stroke-width="2.8"/><ellipse cx="893.1" cy="769.9" rx="15.5" ry="9" transform="rotate(60 893.1 769.9)" fill="#fff"/><path d="M893.2 756.8L892.6 756.7L892 756.6L891.4 756.6L890.8 756.6L890.3 756.7L889.8 756.9L889.3 757.1L888.8 757.3L888.4 757.7L888 758L887.7 758.5L887.3 759L887.1 759.5L886.8 760L886.7 760.7L886.5 761.3L886.4 762L886.4 762.7L886.4 763.5L886.4 764.2L886.5 765L886.6 765.8L886.8 766.6L887 767.5L887.3 768.3L887.6 769.1L887.9 770L888.3 770.8L888.7 771.6L889.2 772.4L889.6 773.2L890.1 773.9L890.7 774.7L891.2 775.4L891.8 776L892.4 776.6L893 777.2L893.7 777.8L894.3 778.3L895 778.7L895.6 779.1L896.3 779.4L896.9 779.7L897.5 780L898.2 780.1L898.8 780.3L899.4 780.3L900 780.3L900.5 780.3L901.1 780.1L901.6 780L902 779.7L902.5 779.4L902.9 779.1L903.3 778.7L903.6 778.3L903.9 777.8L904.2 777.2L904.4 776.6L904.5 776L904.7 775.3L904.8 774.6" stroke-width="2.8"/><ellipse cx="799.5" cy="806.6" rx="15.5" ry="9" transform="rotate(60 799.5 806.6)" fill="#fff"/><path d="M799.7 793.5L799 793.4L798.4 793.3L797.8 793.3L797.3 793.3L796.7 793.4L796.2 793.6L795.7 793.8L795.3 794.1L794.8 794.4L794.4 794.8L794.1 795.2L793.8 795.7L793.5 796.2L793.3 796.8L793.1 797.4L793 798L792.9 798.7L792.8 799.4L792.8 800.2L792.8 800.9L792.9 801.7L793.1 802.5L793.2 803.3L793.5 804.2L793.7 805L794 805.8L794.4 806.7L794.7 807.5L795.1 808.3L795.6 809.1L796.1 809.9L796.6 810.6L797.1 811.4L797.7 812.1L798.3 812.7L798.9 813.4L799.5 813.9L800.1 814.5L800.8 815L801.4 815.4L802 815.8L802.7 816.2L803.3 816.4L804 816.7L804.6 816.8L805.2 817L805.8 817L806.4 817L807 817L807.5 816.8L808 816.7L808.5 816.4L808.9 816.1L809.3 815.8L809.7 815.4L810 815L810.3 814.5L810.6 813.9L810.8 813.3L811 812.7L811.1 812.1L811.2 811.4" stroke-width="2.8"/><ellipse cx="820.4" cy="957.2" rx="15.5" ry="9" transform="rotate(60 820.4 957.2)" fill="#fff"/><path d="M820.5 944.1L819.9 944L819.3 943.9L818.7 943.9L818.2 943.9L817.6 944L817.1 944.2L816.6 944.4L816.2 944.7L815.7 945L815.3 945.4L815 945.8L814.7 946.3L814.4 946.8L814.2 947.4L814 948L813.9 948.6L813.8 949.3L813.7 950L813.7 950.8L813.7 951.6L813.8 952.3L814 953.2L814.1 954L814.3 954.8L814.6 955.6L814.9 956.5L815.2 957.3L815.6 958.1L816 958.9L816.5 959.7L817 960.5L817.5 961.3L818 962L818.6 962.7L819.2 963.4L819.8 964L820.4 964.6L821 965.1L821.6 965.6L822.3 966L822.9 966.4L823.6 966.8L824.2 967.1L824.9 967.3L825.5 967.5L826.1 967.6L826.7 967.6L827.3 967.6L827.9 967.6L828.4 967.5L828.9 967.3L829.4 967.1L829.8 966.8L830.2 966.4L830.6 966L830.9 965.6L831.2 965.1L831.5 964.6L831.7 964L831.9 963.3L832 962.7L832.1 962" stroke-width="2.8"/><ellipse cx="934.9" cy="1071.1" rx="15.5" ry="9" transform="rotate(60 934.9 1071.1)" fill="#fff"/><path d="M935 1058.1L934.4 1057.9L933.8 1057.9L933.2 1057.8L932.6 1057.9L932.1 1058L931.6 1058.1L931.1 1058.3L930.6 1058.6L930.2 1058.9L929.8 1059.3L929.4 1059.7L929.1 1060.2L928.9 1060.7L928.6 1061.3L928.4 1061.9L928.3 1062.6L928.2 1063.2L928.2 1064L928.2 1064.7L928.2 1065.5L928.3 1066.3L928.4 1067.1L928.6 1067.9L928.8 1068.7L929.1 1069.6L929.4 1070.4L929.7 1071.2L930.1 1072.1L930.5 1072.9L930.9 1073.7L931.4 1074.4L931.9 1075.2L932.5 1075.9L933 1076.6L933.6 1077.3L934.2 1077.9L934.8 1078.5L935.5 1079L936.1 1079.5L936.7 1080L937.4 1080.4L938 1080.7L938.7 1081L939.3 1081.2L940 1081.4L940.6 1081.5L941.2 1081.6L941.7 1081.6L942.3 1081.5L942.8 1081.4L943.3 1081.2L943.8 1081L944.3 1080.7L944.7 1080.4L945.1 1080L945.4 1079.5L945.7 1079L945.9 1078.5L946.2 1077.9L946.3 1077.3L946.5 1076.6L946.5 1075.9" stroke-width="2.8"/></g>
<g id="p_fly"><ellipse cx="569.8" cy="1111.3" rx="299" ry="165.9" transform="rotate(59 569.8 1111.3)" fill="#fff"/><g stroke="none"><path d="M290.5 928L280.9 934.6L272.1 942.5L264.1 951.5L257 961.7L250.8 973L245.6 985.3L241.4 998.6L238.1 1012.8L235.9 1027.8L234.7 1043.7L234.5 1060.2L235.4 1077.3L237.2 1095L240.1 1113.1L244 1131.5L248.8 1150.2L254.7 1169.1L261.4 1188.1L269.1 1207.1L277.6 1225.9L286.9 1244.6L297 1263L307.8 1281L319.3 1298.5L331.4 1315.5L344.1 1331.9L357.2 1347.6L370.8 1362.4L384.8 1376.4L399 1389.5L413.5 1401.6L428.1 1412.6L442.8 1422.6L457.5 1431.4L472.2 1439L486.8 1445.3L501.1 1450.4L515.2 1454.2L528.9 1456.7L542.2 1457.9L555.1 1457.7L567.4 1456.3L579.1 1453.5L590.2 1449.4L600.5 1444L723.8 1367.6L733.3 1361L742.1 1353.2L750 1344.2L757 1334.1L763.1 1322.9L768.3 1310.7L772.5 1297.5L775.8 1283.4L778 1268.4L779.2 1252.7L779.4 1236.3L778.5 1219.3L776.7 1201.8L773.8 1183.8L770 1165.4L765.1 1146.9L759.4 1128.1L752.7 1109.2L745.1 1090.4L736.6 1071.7L727.3 1053.1L717.3 1034.8L706.6 1017L695.2 999.5L683.1 982.6L670.6 966.4L657.5 950.8L644 936.1L630.1 922.1L616 909.2L601.6 897.1L587.1 886.2L572.5 876.3L557.8 867.6L543.3 860L528.8 853.7L514.6 848.7L500.6 844.9L487 842.4L473.7 841.3L461 841.4L448.7 842.9L437.1 845.6L426.1 849.7L415.8 855Z" fill="#fff"/></g><path d="M716.1 1371.7L726.4 1366L735.8 1359L744.4 1350.8L752.2 1341.4L759 1330.8L764.9 1319.2L769.8 1306.5L773.7 1292.8L776.6 1278.3L778.5 1262.9L779.4 1246.7L779.2 1229.9L777.9 1212.5L775.7 1194.6L772.4 1176.2L768 1157.6L762.7 1138.7L756.5 1119.7L749.3 1100.6L741.2 1081.6L732.3 1062.8L722.5 1044.1L712 1025.9L700.8 1008L689 990.6L676.5 973.9L663.5 957.8L650 942.5L636.2 928.1L622 914.5L607.6 902L592.9 890.5L578.2 880L563.4 870.8L548.6 862.7L534 855.9L519.5 850.3L505.3 846L491.4 843.1L477.9 841.5L464.8 841.2L452.3 842.3L440.3 844.7L429 848.5L418.4 853.5L408.6 859.9"/><path d="M285.6 931.2C291.8 926.6 309.3 912.6 322.7 904C336.1 895.3 349.7 887.7 366.1 879.1C382.4 870.4 411.7 856.7 420.9 852.2"/><path d="M595.4 1446.9C602.3 1443.5 622.9 1434.6 636.9 1426.8C650.8 1419.1 663.9 1410.6 679.2 1400.2C694.5 1389.8 720.4 1370.4 728.7 1364.5"/><path d="M601.9 1443.9L612.2 1438.1L621.7 1431L630.4 1422.7L638.3 1413.2L645.2 1402.6L651.1 1390.8L656.1 1378L660.1 1364.2L663 1349.5L664.9 1333.9L665.8 1317.6L665.6 1300.6L664.3 1283L662 1264.9L658.7 1246.4L654.3 1227.6L649 1208.5L642.6 1189.3L635.4 1170L627.2 1150.8L618.2 1131.8L608.4 1113L597.7 1094.5L586.4 1076.5L574.4 1059L561.8 1042.1L548.7 1025.8L535.1 1010.4L521.1 995.8L506.8 982.1L492.2 969.4L477.4 957.8L462.5 947.2L447.6 937.9L432.7 929.7L417.9 922.8L403.3 917.2L388.9 912.9L374.9 909.9L361.2 908.3L348 908L335.4 909.1L323.3 911.6L311.9 915.4L301.2 920.5L291.2 926.9" stroke-width="2.8"/><path d="M373.4 887.1L358.2 889.8L379.7 876.9L394.8 874.2Z" fill="#fff" stroke-width="3.4"/><path d="M377.6 884.5L362.5 887.2" stroke-width="2.6"/><path d="M423.5 891.5L406.1 888L427.6 875.1L444.9 878.7Z" fill="#fff" stroke-width="3.4"/><path d="M427.8 889L410.4 885.4" stroke-width="2.6"/><path d="M478.1 914.3L459.6 904.7L481.1 891.9L499.5 901.4Z" fill="#fff" stroke-width="3.4"/><path d="M482.4 911.7L463.9 902.2" stroke-width="2.6"/><path d="M533.4 953.8L515.1 938.9L536.5 926L554.8 940.9Z" fill="#fff" stroke-width="3.4"/><path d="M537.6 951.2L519.4 936.3" stroke-width="2.6"/><path d="M585.6 1007.4L568.7 988.2L590.2 975.3L607 994.5Z" fill="#fff" stroke-width="3.4"/><path d="M589.8 1004.8L573 985.6" stroke-width="2.6"/><path d="M631.1 1071.4L616.9 1049.1L638.3 1036.3L652.6 1058.5Z" fill="#fff" stroke-width="3.4"/><path d="M635.4 1068.8L621.2 1046.6" stroke-width="2.6"/><path d="M667 1141.4L656.3 1117.7L677.7 1104.8L688.4 1128.5Z" fill="#fff" stroke-width="3.4"/><path d="M671.3 1138.8L660.6 1115.1" stroke-width="2.6"/><path d="M690.7 1212.8L684.2 1189.1L705.7 1176.3L712.1 1199.9Z" fill="#fff" stroke-width="3.4"/><path d="M694.9 1210.2L688.5 1186.6" stroke-width="2.6"/><path d="M700.6 1282.7L699.1 1260.8L720.5 1248L722.1 1269.8Z" fill="#fff" stroke-width="3.4"/><path d="M704.9 1280.1L703.4 1258.3" stroke-width="2.6"/><path d="M695.2 1343.6L698.6 1325.2L720 1312.4L716.6 1330.8Z" fill="#fff" stroke-width="3.4"/><path d="M699.4 1341.1L702.9 1322.7" stroke-width="2.6"/><path d="M675.5 1390L683.6 1376.2L705 1363.3L697 1377.1Z" fill="#fff" stroke-width="3.4"/><path d="M679.8 1387.4L687.9 1373.6" stroke-width="2.6"/><path d="M336.4 899.2L323.3 905.9L354.2 887.4L367.2 880.6Z" fill="#fff" stroke-width="2.6"/><path d="M638 1423.8L649.8 1415.1L680.7 1396.6L668.8 1405.3Z" fill="#fff" stroke-width="2.6"/><path d="M478 886C477.7 885 477.7 881.8 475.9 880C474 878.1 468.3 875.9 466.8 875.1" stroke-width="2.6"/><path d="M449.5 882.2L449.3 879.1" stroke-width="2.6"/><path d="M636.6 1025C636.5 1023.1 637.1 1017.6 635.6 1013.4C634.2 1009.2 629.2 1002.2 627.9 999.9" stroke-width="2.6"/><path d="M610.9 1004.1L611.1 998" stroke-width="2.6"/><path d="M707 1164.2C707.3 1162.1 709.2 1156.2 708.9 1151.5C708.6 1146.9 705.9 1138.7 705.3 1136.2" stroke-width="2.6"/><path d="M689.7 1139.6L691.3 1132.8" stroke-width="2.6"/><ellipse cx="445.5" cy="1186" rx="301" ry="167.1" transform="rotate(59 445.5 1186)" fill="#fff"/><ellipse cx="447.2" cy="1185" rx="296" ry="164.3" transform="rotate(59 447.2 1185)" stroke-width="2.8"/><ellipse cx="448.1" cy="1184.5" rx="290" ry="161" transform="rotate(59 448.1 1184.5)" stroke-width="2.8"/><path d="M389 933L375.7 930.1L362.9 928.3L350.4 927.9L338.5 928.7L327 930.7L316.2 934.1L306.1 938.6L296.6 944.4L287.9 951.4L280 959.5L272.9 968.7L266.7 979.1L261.3 990.4L256.9 1002.7L253.5 1015.9L251 1029.9L249.5 1044.7L249 1060.1L249.4 1076.2L250.8 1092.9L253.3 1109.9L256.6 1127.4L261 1145.1L266.2 1163.1L272.4 1181.1L279.4 1199.1L287.3 1217.1L295.9 1234.9L305.3 1252.5L315.5 1269.7L326.2 1286.5L337.6 1302.8L349.5 1318.6L361.9 1333.6L374.8 1347.9L388 1361.4L401.5 1374.1L415.2 1385.8L429.1 1396.4L443.1 1406.1L457.1 1414.6L471.1 1422L484.9 1428.3L498.6 1433.3L512 1437.1L525.1 1439.6L537.8 1440.9L550.1 1440.9L561.9 1439.7L573.1 1437.1L583.7 1433.4L593.6 1428.3L602.8 1422.1L611.2 1414.7L618.8 1406.2L625.6 1396.6L631.5 1385.9L636.5 1374.2L640.6 1361.6L643.7 1348.1L645.8 1333.8L647 1318.8" stroke-width="2.6"/><ellipse cx="448.9" cy="1183.9" rx="267" ry="148.2" transform="rotate(59 448.9 1183.9)" fill="#fff" stroke-width="3.2"/><clipPath id="flyclip"><ellipse cx="448.9" cy="1183.9" rx="266" ry="147.6" transform="rotate(59 448.9 1183.9)"/></clipPath><g clip-path="url(#flyclip)"><ellipse cx="454.1" cy="1180.8" rx="266" ry="147.6" transform="rotate(59 454.1 1180.8)" stroke-width="2.8"/><ellipse cx="552.5" cy="1125.2" rx="243" ry="134.9" transform="rotate(59 552.5 1125.2)" fill="#fff" stroke-width="3"/><ellipse cx="552.5" cy="1125.2" rx="236" ry="131" transform="rotate(59 552.5 1125.2)" stroke-width="2.8"/><ellipse cx="424" cy="1085" rx="34" ry="18.9" transform="rotate(59 424 1085)" fill="#fff" stroke-width="2.6"/><clipPath id="h238_190"><ellipse cx="424" cy="1085" rx="34" ry="18.9" transform="rotate(59 424 1085)"/></clipPath><g clip-path="url(#h238_190)"><ellipse cx="432.6" cy="1079.8" rx="34" ry="18.9" transform="rotate(59 432.6 1079.8)" stroke-width="2.8"/></g><ellipse cx="525.4" cy="1262.9" rx="34" ry="18.9" transform="rotate(59 525.4 1262.9)" fill="#fff" stroke-width="2.6"/><clipPath id="h301_199"><ellipse cx="525.4" cy="1262.9" rx="34" ry="18.9" transform="rotate(59 525.4 1262.9)"/></clipPath><g clip-path="url(#h301_199)"><ellipse cx="534" cy="1257.7" rx="34" ry="18.9" transform="rotate(59 534 1257.7)" stroke-width="2.8"/></g><ellipse cx="462.2" cy="1065.3" rx="27" ry="15" transform="rotate(59 462.2 1065.3)" fill="#fff" stroke-width="2.6"/><clipPath id="h220_129"><ellipse cx="462.2" cy="1065.3" rx="27" ry="15" transform="rotate(59 462.2 1065.3)"/></clipPath><g clip-path="url(#h220_129)"><ellipse cx="467.3" cy="1062.2" rx="27" ry="15" transform="rotate(59 467.3 1062.2)" stroke-width="2.8"/></g><ellipse cx="613.6" cy="1248.9" rx="27" ry="15" transform="rotate(59 613.6 1248.9)" fill="#fff" stroke-width="2.6"/><clipPath id="h351_139"><ellipse cx="613.6" cy="1248.9" rx="27" ry="15" transform="rotate(59 613.6 1248.9)"/></clipPath><g clip-path="url(#h351_139)"><ellipse cx="618.7" cy="1245.8" rx="27" ry="15" transform="rotate(59 618.7 1245.8)" stroke-width="2.8"/></g><ellipse cx="456.1" cy="1000.6" rx="28" ry="15.5" transform="rotate(59 456.1 1000.6)" fill="#fff" stroke-width="2.6"/><clipPath id="h192_160"><ellipse cx="456.1" cy="1000.6" rx="28" ry="15.5" transform="rotate(59 456.1 1000.6)"/></clipPath><g clip-path="url(#h192_160)"><ellipse cx="459.5" cy="998.5" rx="28" ry="15.5" transform="rotate(59 459.5 998.5)" stroke-width="2.8"/><ellipse cx="461.3" cy="997.5" rx="19" ry="10.5" transform="rotate(59 461.3 997.5)" stroke-width="2.8"/><ellipse cx="461.3" cy="997.5" rx="12" ry="6.7" transform="rotate(59 461.3 997.5)" stroke-width="2.8"/></g><ellipse cx="587.7" cy="1267.3" rx="28" ry="15.5" transform="rotate(59 587.7 1267.3)" fill="#fff" stroke-width="2.6"/><clipPath id="h331_160"><ellipse cx="587.7" cy="1267.3" rx="28" ry="15.5" transform="rotate(59 587.7 1267.3)"/></clipPath><g clip-path="url(#h331_160)"><ellipse cx="591.1" cy="1265.3" rx="28" ry="15.5" transform="rotate(59 591.1 1265.3)" stroke-width="2.8"/><ellipse cx="592.9" cy="1264.3" rx="19" ry="10.5" transform="rotate(59 592.9 1264.3)" stroke-width="2.8"/><ellipse cx="592.9" cy="1264.3" rx="12" ry="6.7" transform="rotate(59 592.9 1264.3)" stroke-width="2.8"/></g><ellipse cx="432" cy="1157.7" rx="8" ry="4.4" transform="rotate(59 432 1157.7)" fill="#fff" stroke-width="2.6"/><clipPath id="h261_219"><ellipse cx="432" cy="1157.7" rx="8" ry="4.4" transform="rotate(59 432 1157.7)"/></clipPath><g clip-path="url(#h261_219)"><ellipse cx="433.7" cy="1156.7" rx="8" ry="4.4" transform="rotate(59 433.7 1156.7)" stroke-width="2.8"/></g><ellipse cx="586.2" cy="1321" rx="8" ry="4.4" transform="rotate(59 586.2 1321)" fill="#fff" stroke-width="2.6"/><clipPath id="h325_226"><ellipse cx="586.2" cy="1321" rx="8" ry="4.4" transform="rotate(59 586.2 1321)"/></clipPath><g clip-path="url(#h325_226)"><ellipse cx="587.9" cy="1319.9" rx="8" ry="4.4" transform="rotate(59 587.9 1319.9)" stroke-width="2.8"/></g><path d="M399.9 958.2L410.7 979.6L411.3 1007.3L398 1008.6L387.4 1010.5" stroke-width="2.8"/><path d="M453.6 1213.5L468.8 1214.8L492.4 1235.3L497.5 1255.3L502.2 1271.9" stroke-width="2.8"/><g stroke="none"><path d="M590.7 1223.6L594 1221.4L597 1218.6L599.8 1215.5L602.2 1212L604.4 1208.1L606.2 1203.8L607.6 1199.3L608.8 1194.3L609.5 1189.1L610 1183.7L610 1178L609.7 1172.1L609.1 1166L608.1 1159.7L606.7 1153.3L605.1 1146.9L603.1 1140.3L600.7 1133.8L598.1 1127.2L595.1 1120.7L591.9 1114.2L588.4 1107.9L584.7 1101.7L580.7 1095.6L576.5 1089.7L572.2 1084.1L567.6 1078.7L562.9 1073.5L558.1 1068.7L553.2 1064.2L548.2 1060L543.1 1056.2L538 1052.8L533 1049.7L527.9 1047.1L522.9 1044.9L517.9 1043.1L513 1041.8L508.3 1041L503.7 1040.6L499.3 1040.6L495 1041.1L491 1042.1L487.1 1043.5L483.6 1045.4L464 1082.7L461.4 1084.6L459 1086.7L456.8 1089.2L454.9 1091.9L453.2 1095L451.8 1098.4L450.7 1102L449.8 1105.9L449.2 1110L448.8 1114.3L448.8 1118.8L449 1123.4L449.5 1128.2L450.3 1133.2L451.4 1138.2L452.7 1143.3L454.3 1148.4L456.1 1153.6L458.2 1158.8L460.5 1163.9L463 1169L465.8 1174L468.7 1178.9L471.9 1183.7L475.2 1188.3L478.6 1192.8L482.2 1197L485.9 1201.1L489.7 1204.9L493.6 1208.5L497.5 1211.8L501.5 1214.8L505.5 1217.5L509.5 1219.9L513.5 1221.9L517.5 1223.7L521.4 1225.1L525.2 1226.1L529 1226.8L532.6 1227.1L536.1 1227.1L539.5 1226.7L542.7 1225.9L545.7 1224.8L548.5 1223.3Z" fill="#fff"/></g><path d="M570.7 1227.5L575.9 1228.6L581 1229.3L585.9 1229.5L590.6 1229.2L595 1228.4L599.3 1227.1L603.3 1225.3L607 1223.1L610.5 1220.3L613.6 1217.2L616.4 1213.6L618.8 1209.5L620.9 1205.1L622.7 1200.3L624.1 1195.1L625.1 1189.6L625.7 1183.8L625.9 1177.8L625.8 1171.5L625.2 1165L624.3 1158.3L623 1151.4L621.4 1144.5L619.3 1137.4L616.9 1130.3L614.2 1123.3L611.2 1116.2L607.8 1109.2L604.1 1102.3L600.2 1095.5L596 1088.9L591.5 1082.4L586.9 1076.2L582 1070.3L577 1064.6L571.8 1059.3L566.6 1054.2L561.2 1049.6L555.7 1045.3L550.2 1041.5L544.7 1038.1L539.2 1035.1L533.8 1032.5L528.4 1030.5L523.1 1028.9L518 1027.8L512.9 1027.2L508.1 1027.1L503.4 1027.5L499 1028.4L494.7 1029.8L490.8 1031.7L487.1 1034L483.7 1036.8L480.7 1040.1L477.9 1043.8L475.6 1047.9L473.5 1052.4L471.8 1057.3L470.5 1062.5L469.6 1068" stroke-width="2.6"/><path d="M564.8 1227.9L569.5 1228.4L574 1228.4L578.3 1228L582.5 1227.1L586.4 1225.8L590.1 1224L593.5 1221.7L596.6 1219.1L599.4 1216L602 1212.4L604.2 1208.5L606 1204.3L607.5 1199.6L608.7 1194.7L609.5 1189.4L609.9 1183.9L610 1178.1L609.7 1172.2L609.1 1166L608.1 1159.6L606.7 1153.2L605 1146.6L603 1140L600.6 1133.4L597.9 1126.7L594.9 1120.1L591.6 1113.6L588 1107.2L584.2 1100.9L580.2 1094.8L575.9 1088.9L571.4 1083.2L566.8 1077.7L562 1072.6L557.1 1067.8L552.1 1063.2L547 1059.1L541.9 1055.3L536.7 1051.9L531.6 1049L526.5 1046.4L521.4 1044.3L516.4 1042.7L511.5 1041.5L506.8 1040.8L502.2 1040.5L497.7 1040.7L493.5 1041.4L489.5 1042.6L485.7 1044.2L482.2 1046.2L478.9 1048.7L476 1051.7L473.3 1055L471 1058.7L469 1062.9L467.3 1067.3L466 1072.2" stroke-width="2.6"/><path d="M561.1 1225.3L565.2 1225.3L569.2 1224.8L572.9 1223.9L576.5 1222.6L579.8 1220.9L582.8 1218.7L585.7 1216.2L588.2 1213.3L590.5 1210L592.4 1206.4L594.1 1202.4L595.4 1198.2L596.4 1193.6L597.1 1188.8L597.5 1183.7L597.5 1178.4L597.2 1172.9L596.6 1167.2L595.7 1161.4L594.4 1155.5L592.8 1149.5L590.9 1143.4L588.7 1137.3L586.3 1131.3L583.5 1125.2L580.5 1119.2L577.2 1113.4L573.7 1107.6L570 1102L566.1 1096.6L562 1091.4L557.8 1086.4L553.4 1081.7L548.9 1077.2L544.4 1073.1L539.7 1069.3L535 1065.8L530.3 1062.7L525.6 1059.9L520.9 1057.6L516.3 1055.6L511.7 1054L507.2 1052.9L502.8 1052.2L498.6 1051.9L494.5 1052L490.6 1052.6L486.9 1053.6L483.4 1055L480.1 1056.8L477.1 1059L474.3 1061.6L471.8 1064.6L469.6 1067.9L467.7 1071.6L466.1 1075.6" stroke-width="2.6"/><path d="M557.8 1225.7L561.6 1225.2L565.2 1224.2L568.6 1222.8L571.7 1221L574.6 1218.8L577.3 1216.3L579.6 1213.4L581.7 1210.1L583.5 1206.5L585 1202.5L586.2 1198.3L587.1 1193.8L587.7 1189L587.9 1184L587.8 1178.8L587.4 1173.4L586.7 1167.9L585.6 1162.2L584.3 1156.4L582.6 1150.6L580.6 1144.7L578.4 1138.8L575.9 1133L573.1 1127.2L570 1121.4L566.8 1115.8L563.3 1110.3L559.6 1105L555.7 1099.8L551.7 1094.9L547.5 1090.2L543.2 1085.8L538.9 1081.6L534.4 1077.8L529.9 1074.3L525.3 1071.1L520.7 1068.3L516.2 1065.9L511.7 1063.8L507.2 1062.2L502.8 1060.9L498.6 1060.1L494.4 1059.7L490.4 1059.7L486.6 1060.1L482.9 1060.9L479.5 1062.1L476.2 1063.7L473.2 1065.8L470.5 1068.2L468 1071L465.8 1074.1L463.9 1077.6" stroke-width="2.6"/><path d="M552.2 1221.9L555.4 1221L558.4 1219.6L561.2 1218L563.8 1215.9L566.1 1213.5L568.2 1210.8L570.1 1207.8L571.7 1204.5L573 1200.9L574 1197L574.8 1192.9L575.3 1188.6L575.4 1184L575.3 1179.3L574.9 1174.4L574.2 1169.4L573.3 1164.2L572 1159L570.5 1153.7L568.7 1148.4L566.7 1143.1L564.4 1137.8L561.8 1132.5L559.1 1127.3L556.1 1122.2L553 1117.3L549.6 1112.4L546.2 1107.8L542.5 1103.3L538.7 1099.1L534.9 1095L530.9 1091.3L526.9 1087.8L522.8 1084.6L518.6 1081.7L514.5 1079.1L510.4 1076.9L506.3 1075L502.3 1073.5L498.3 1072.3L494.4 1071.5L490.6 1071L487 1071L483.5 1071.3L480.2 1072L477 1073L474 1074.4L471.3 1076.2L468.8 1078.3L466.5 1080.7L464.4 1083.5" stroke-width="2.6"/><path d="M457.9 1087.9L469.1 1069.6L475.8 1051.9" stroke-width="2.6"/><path d="M544.9 1225.1L566.8 1223.6L586.2 1225.9" stroke-width="2.6"/><ellipse cx="506.3" cy="1153" rx="82" ry="45.5" transform="rotate(59 506.3 1153)" fill="#fff" stroke-width="3"/><ellipse cx="506.3" cy="1153" rx="54" ry="30" transform="rotate(59 506.3 1153)" stroke-width="3.2"/><ellipse cx="508" cy="1152" rx="49" ry="27.2" transform="rotate(59 508 1152)" stroke-width="4"/><path d="M502.2 1111L500.2 1110.5L498.2 1110.3L496.3 1110.2L494.5 1110.3L492.7 1110.6L491.1 1111.1L489.5 1111.8L488 1112.7L486.7 1113.8L485.4 1115L484.3 1116.4L483.4 1118L482.5 1119.7L481.9 1121.6L481.3 1123.6L480.9 1125.7L480.7 1128L480.6 1130.3L480.6 1132.8L480.8 1135.3L481.1 1138L481.6 1140.6L482.3 1143.3L483.1 1146.1L484 1148.9L485 1151.6L486.2 1154.4L487.5 1157.2L488.9 1159.9L490.5 1162.5L492.1 1165.1L493.8 1167.7L495.6 1170.1L497.5 1172.4L499.5 1174.7L501.5 1176.8L503.6 1178.8L505.7 1180.6L507.8 1182.3L509.9 1183.8L512.1 1185.2L514.2 1186.4L516.4 1187.4L518.5 1188.2L520.6 1188.9" stroke-width="2.6"/><path d="M518.2 1195.4L510.5 1185.1L519.2 1179.1L529.9 1190.1" stroke-width="3"/><path d="M495 1137.9C496.3 1138.4 500.4 1140.5 502.9 1141.3C505.4 1142.1 510.1 1144.3 510.1 1142.5C510.2 1140.8 504.2 1132.7 503 1130.8" stroke-width="2.6"/></g><path d="M262.9 961L270 974.1L259.3 996.3L248.9 990.1" stroke-width="2.8"/><path d="M286 1233.6L295.8 1235.7L315.1 1270.1L311.3 1278.7" stroke-width="2.8"/><path d="M579 1448.9L575.5 1435.6L595.3 1426.1L605 1436.4" stroke-width="2.8"/></g>
<g id="p_idler"><path d="M1083.4 1529.5L1084.8 1528.9L1089.4 1535.1L1090.7 1534.5L1088.2 1527.4L1089.6 1526.8L1090.9 1526.1L1095.6 1532L1096.8 1531.3L1094.1 1524.2L1095.3 1523.4L1096.5 1522.6L1101.5 1528.3L1102.6 1527.5L1099.6 1520.4L1100.7 1519.5L1101.8 1518.5L1106.9 1523.9L1108 1522.9L1104.6 1515.9L1105.7 1514.9L1106.7 1513.8L1112 1518.8L1112.9 1517.8L1109.3 1510.9L1110.2 1509.7L1111.2 1508.5L1116.5 1513.2L1117.4 1512L1113.5 1505.2L1114.3 1503.9L1115.2 1502.6L1120.6 1506.9L1121.4 1505.6L1117.2 1499L1118 1497.6L1118.7 1496.1L1124.2 1500.1L1124.8 1498.7L1120.5 1492.3L1121.1 1490.8L1121.7 1489.2L1127.3 1492.8L1127.8 1491.2L1123.2 1485.1L1123.8 1483.4L1124.3 1481.7L1129.8 1484.9L1130.3 1483.3L1125.5 1477.3L1125.9 1475.6L1126.3 1473.8L1131.9 1476.6L1132.2 1474.8L1127.2 1469.2L1127.6 1467.3L1127.8 1465.5L1133.3 1467.8L1133.6 1466L1128.5 1460.6L1128.7 1458.7L1128.8 1456.7L1134.3 1458.6L1134.4 1456.7L1129.2 1451.7L1129.2 1449.7L1129.3 1447.7L1134.7 1449.1L1134.7 1447.1L1129.3 1442.4L1129.3 1440.4L1129.2 1438.3L1134.5 1439.2L1134.4 1437.2L1129 1432.9L1128.8 1430.8L1128.6 1428.6L1133.8 1429.1L1133.6 1427L1128.1 1423.1L1127.8 1420.9L1127.5 1418.7L1132.5 1418.7L1132.2 1416.6L1126.7 1413.1L1126.3 1410.9L1125.9 1408.6L1130.7 1408.2L1130.3 1406.1L1124.7 1402.9L1124.2 1400.6L1123.7 1398.4L1128.4 1397.5L1127.8 1395.3L1122.3 1392.6L1121.7 1390.3L1121.1 1388.1L1125.5 1386.7L1124.9 1384.5L1119.4 1382.2L1118.6 1379.9L1117.9 1377.7L1122.1 1375.8L1121.4 1373.7L1115.9 1371.8L1115.1 1369.5L1114.3 1367.3L1118.2 1365L1117.4 1362.8L1112 1361.4L1111.1 1359.2L1110.2 1356.9L1113.8 1354.2L1112.9 1352L1107.7 1351.1L1106.6 1348.8L1105.6 1346.6L1109 1343.4L1108 1341.3L1102.9 1340.9L1101.7 1338.6L1100.6 1336.4L1103.7 1332.9L1102.6 1330.8L1097.6 1330.8L1096.4 1328.6L1095.2 1326.4L1098 1322.4L1096.8 1320.4L1092 1320.9L1090.7 1318.7L1089.4 1316.6L1091.9 1312.2L1090.7 1310.2L1086.1 1311.2L1084.7 1309.1L1083.3 1307L1085.5 1302.3L1084.1 1300.4L1079.7 1301.8L1078.3 1299.7L1076.8 1297.7L1078.7 1292.7L1077.3 1290.8L1073.1 1292.7L1071.6 1290.7L1070.1 1288.8L1071.5 1283.4L1070.1 1281.6L1066.2 1283.9L1064.6 1282.1L1063 1280.2L1064.1 1274.6L1062.6 1272.8L1059 1275.6L1057.3 1273.8L1055.7 1272L1056.5 1266.1L1054.9 1264.5L1051.5 1267.6L1049.9 1266L1048.2 1264.3L1048.6 1258.1L1047 1256.6L1043.9 1260.2L1042.2 1258.6L1040.5 1257L1040.6 1250.7L1038.9 1249.2L1036.1 1253.2L1034.4 1251.7L1032.7 1250.3L1032.4 1243.7L1030.7 1242.4L1028.2 1246.7L1026.5 1245.4L1024.7 1244L1024 1237.3L1022.4 1236.1L1020.2 1240.8L1018.4 1239.6L1016.7 1238.4L1015.6 1231.5L1013.9 1230.4L1012.1 1235.4L1010.4 1234.3L1008.6 1233.3L1007.2 1226.3L1005.5 1225.3L1004 1230.7L1002.3 1229.7L1000.5 1228.8L998.7 1221.7L997 1220.9L995.9 1226.6L994.2 1225.7L992.4 1224.9L990.3 1217.8L988.6 1217.1L987.9 1223.1L986.1 1222.4L984.4 1221.7L982 1214.6L980.3 1214L979.9 1220.2L978.2 1219.7L976.4 1219.2L973.7 1212L972.1 1211.6L972 1218L970.3 1217.6L968.6 1217.3L965.6 1210.2L964 1209.9L964.3 1216.5L962.6 1216.2L961 1216L957.6 1209L956.1 1208.9L956.8 1215.6L955.1 1215.5L953.5 1215.5L949.9 1208.6L948.4 1208.6L949.4 1215.5L947.8 1215.5L946.3 1215.6L942.4 1208.9L940.9 1209L942.3 1216L940.8 1216.2L939.3 1216.4L935.1 1209.8L933.7 1210.1L935.5 1217.2L934 1217.5L932.6 1217.9L928.2 1211.5L926.8 1211.9L928.9 1219L927.5 1219.5L926.2 1220.1L921.6 1213.9L920.3 1214.5L922.7 1221.6L921.4 1222.2L920.1 1222.9L915.3 1217L914.1 1217.7L916.9 1224.8L915.7 1225.6L914.4 1226.4L909.5 1220.7L908.4 1221.5L911.4 1228.6" fill="#fff" stroke-width="3.2"/><g stroke="none"><ellipse cx="1005.5" cy="1374.5" rx="175" ry="102.4" transform="rotate(60 1005.5 1374.5)" fill="#fff"/></g><g stroke="none"><ellipse cx="1002.2" cy="1376.4" rx="175" ry="102.4" transform="rotate(60 1002.2 1376.4)" fill="#fff"/></g><g stroke="none"><ellipse cx="999" cy="1378.2" rx="175" ry="102.4" transform="rotate(60 999 1378.2)" fill="#fff"/></g><g stroke="none"><ellipse cx="995.7" cy="1380.1" rx="175" ry="102.4" transform="rotate(60 995.7 1380.1)" fill="#fff"/></g><g stroke="none"><ellipse cx="992.5" cy="1382" rx="175" ry="102.4" transform="rotate(60 992.5 1382)" fill="#fff"/></g><path d="M1076.4 1542.6L1089.4 1535.1M1077.7 1542L1090.7 1534.5M1082.6 1539.5L1095.6 1532M1083.8 1538.8L1096.8 1531.3M1088.5 1535.8L1101.5 1528.3M1089.6 1535L1102.6 1527.5M1094 1531.4L1106.9 1523.9M1095 1530.4L1108 1522.9M1099 1526.3L1112 1518.8M1099.9 1525.3L1112.9 1517.8M1103.5 1520.7L1116.5 1513.2M1104.4 1519.5L1117.4 1512M1107.6 1514.4L1120.6 1506.9M1108.4 1513.1L1121.4 1505.6M1111.2 1507.6L1124.2 1500.1M1111.9 1506.2L1124.8 1498.7M1114.3 1500.3L1127.3 1492.8M1114.8 1498.7L1127.8 1491.2M1116.8 1492.4L1129.8 1484.9M1117.3 1490.8L1130.3 1483.3M1118.9 1484.1L1131.9 1476.6M1119.2 1482.3L1132.2 1474.8M1120.4 1475.3L1133.3 1467.8M1120.6 1473.5L1133.6 1466M1121.3 1466.1L1134.3 1458.6M1121.4 1464.2L1134.4 1456.7M1121.7 1456.6L1134.7 1449.1M1121.7 1454.6L1134.7 1447.1M1121.5 1446.7L1134.5 1439.2M1121.4 1444.7L1134.4 1437.2M1120.8 1436.6L1133.8 1429.1M1120.6 1434.5L1133.6 1427M1119.5 1426.2L1132.5 1418.7M1119.2 1424.1L1132.2 1416.6M1117.7 1415.7L1130.7 1408.2M1117.3 1413.6L1130.3 1406.1M1115.4 1405L1128.4 1397.5M1114.8 1402.8L1127.8 1395.3M1112.5 1394.2L1125.5 1386.7M1111.9 1392L1124.9 1384.5M1109.1 1383.3L1122.1 1375.8M1108.4 1381.2L1121.4 1373.7M1105.2 1372.5L1118.2 1365M1104.4 1370.3L1117.4 1362.8M1100.9 1361.7L1113.8 1354.2M1099.9 1359.5L1112.9 1352M1096 1350.9L1109 1343.4M1095 1348.8L1108 1341.3M1090.7 1340.4L1103.7 1332.9M1089.6 1338.3L1102.6 1330.8M1085 1329.9L1098 1322.4M1083.9 1327.9L1096.8 1320.4M1079 1319.7L1091.9 1312.2M1077.7 1317.7L1090.7 1310.2M1072.5 1309.8L1085.5 1302.3M1071.2 1307.9L1084.1 1300.4M1065.7 1300.2L1078.7 1292.7M1064.3 1298.3L1077.3 1290.8M1058.6 1290.9L1071.5 1283.4M1057.1 1289.1L1070.1 1281.6M1051.2 1282.1L1064.1 1274.6M1049.6 1280.3L1062.6 1272.8M1043.5 1273.6L1056.5 1266.1M1041.9 1272L1054.9 1264.5M1035.6 1265.6L1048.6 1258.1M1034 1264.1L1047 1256.6M1027.6 1258.2L1040.6 1250.7M1025.9 1256.7L1038.9 1249.2M1019.4 1251.2L1032.4 1243.7M1017.7 1249.9L1030.7 1242.4M1011 1244.8L1024 1237.3M1009.4 1243.6L1022.4 1236.1M1002.6 1239L1015.6 1231.5M1001 1237.9L1013.9 1230.4M994.2 1233.8L1007.2 1226.3M992.5 1232.8L1005.5 1225.3M985.7 1229.2L998.7 1221.7M984.1 1228.4L997 1220.9M977.3 1225.3L990.3 1217.8M975.6 1224.6L988.6 1217.1M969 1222.1L982 1214.6M967.3 1221.5L980.3 1214M960.7 1219.5L973.7 1212M959.1 1219.1L972.1 1211.6M952.6 1217.7L965.6 1210.2M951 1217.4L964 1209.9M944.6 1216.5L957.6 1209M943.1 1216.4L956.1 1208.9M936.9 1216.1L949.9 1208.6M935.4 1216.1L948.4 1208.6M929.4 1216.4L942.4 1208.9M927.9 1216.5L940.9 1209M922.1 1217.3L935.1 1209.8M920.7 1217.6L933.7 1210.1M915.2 1219L928.2 1211.5M913.9 1219.4L926.8 1211.9M908.6 1221.4L921.6 1213.9M907.3 1222L920.3 1214.5M902.4 1224.5L915.3 1217M901.2 1225.2L914.1 1217.7M896.5 1228.2L909.5 1220.7M895.4 1229L908.4 1221.5" stroke-width="3.2"/><path d="M1076.6 1534.3L1077.9 1533.6L1082.6 1539.5L1083.8 1538.8L1081.1 1531.7L1082.3 1530.9L1083.6 1530.1L1088.5 1535.8L1089.6 1535L1086.6 1527.9L1087.7 1527L1088.9 1526L1094 1531.4L1095 1530.4L1091.6 1523.4L1092.7 1522.4L1093.7 1521.3L1099 1526.3L1099.9 1525.3L1096.3 1518.4L1097.2 1517.2L1098.2 1516L1103.5 1520.7L1104.4 1519.5L1100.5 1512.7L1101.3 1511.4L1102.2 1510.1L1107.6 1514.4L1108.4 1513.1L1104.2 1506.5L1105 1505.1L1105.7 1503.6L1111.2 1507.6L1111.9 1506.2L1107.5 1499.8L1108.1 1498.3L1108.8 1496.7L1114.3 1500.3L1114.8 1498.7L1110.2 1492.6L1110.8 1490.9L1111.3 1489.2L1116.8 1492.4L1117.3 1490.8L1112.5 1484.8L1112.9 1483.1L1113.3 1481.3L1118.9 1484.1L1119.2 1482.3L1114.2 1476.7L1114.6 1474.8L1114.9 1473L1120.4 1475.3L1120.6 1473.5L1115.5 1468.1L1115.7 1466.2L1115.8 1464.2L1121.3 1466.1L1121.4 1464.2L1116.2 1459.2L1116.3 1457.2L1116.3 1455.2L1121.7 1456.6L1121.7 1454.6L1116.3 1449.9L1116.3 1447.9L1116.3 1445.8L1121.5 1446.7L1121.4 1444.7L1116 1440.4L1115.8 1438.3L1115.7 1436.1L1120.8 1436.6L1120.6 1434.5L1115.1 1430.6L1114.8 1428.4L1114.5 1426.2L1119.5 1426.2L1119.2 1424.1L1113.7 1420.6L1113.3 1418.4L1112.9 1416.1L1117.7 1415.7L1117.3 1413.6L1111.7 1410.4L1111.3 1408.1L1110.7 1405.9L1115.4 1405L1114.8 1402.8L1109.3 1400.1L1108.7 1397.8L1108.1 1395.6L1112.5 1394.2L1111.9 1392L1106.4 1389.7L1105.6 1387.4L1104.9 1385.2L1109.1 1383.3L1108.4 1381.2L1102.9 1379.3L1102.1 1377L1101.3 1374.8L1105.2 1372.5L1104.4 1370.3L1099 1368.9L1098.1 1366.7L1097.2 1364.4L1100.9 1361.7L1099.9 1359.5L1094.7 1358.6L1093.6 1356.3L1092.6 1354.1L1096 1350.9L1095 1348.8L1089.9 1348.4L1088.8 1346.1L1087.6 1343.9L1090.7 1340.4L1089.6 1338.3L1084.7 1338.3L1083.5 1336.1L1082.2 1333.9L1085 1329.9L1083.9 1327.9L1079 1328.4L1077.8 1326.2L1076.5 1324.1L1079 1319.7L1077.7 1317.7L1073.1 1318.7L1071.7 1316.6L1070.3 1314.5L1072.5 1309.8L1071.2 1307.9L1066.7 1309.3L1065.3 1307.2L1063.9 1305.2L1065.7 1300.2L1064.3 1298.3L1060.1 1300.2L1058.6 1298.2L1057.1 1296.3L1058.6 1290.9L1057.1 1289.1L1053.2 1291.4L1051.6 1289.6L1050 1287.7L1051.2 1282.1L1049.6 1280.3L1046 1283.1L1044.4 1281.3L1042.7 1279.5L1043.5 1273.6L1041.9 1272L1038.5 1275.1L1036.9 1273.5L1035.2 1271.8L1035.6 1265.6L1034 1264.1L1030.9 1267.7L1029.2 1266.1L1027.5 1264.5L1027.6 1258.2L1025.9 1256.7L1023.1 1260.7L1021.4 1259.2L1019.7 1257.8L1019.4 1251.2L1017.7 1249.9L1015.2 1254.2L1013.5 1252.9L1011.7 1251.5L1011 1244.8L1009.4 1243.6L1007.2 1248.3L1005.5 1247.1L1003.7 1245.9L1002.6 1239L1001 1237.9L999.1 1242.9L997.4 1241.8L995.6 1240.8L994.2 1233.8L992.5 1232.8L991 1238.2L989.3 1237.2L987.5 1236.3L985.7 1229.2L984.1 1228.4L982.9 1234.1L981.2 1233.2L979.4 1232.4L977.3 1225.3L975.6 1224.6L974.9 1230.6L973.1 1229.9L971.4 1229.2L969 1222.1L967.3 1221.5L966.9 1227.7L965.2 1227.2L963.4 1226.7L960.7 1219.5L959.1 1219.1L959 1225.5L957.3 1225.1L955.6 1224.8L952.6 1217.7L951 1217.4L951.3 1224L949.6 1223.7L948 1223.5L944.6 1216.5L943.1 1216.4L943.8 1223.1L942.1 1223L940.5 1223L936.9 1216.1L935.4 1216.1L936.4 1223L934.8 1223L933.3 1223.1L929.4 1216.4L927.9 1216.5L929.3 1223.5L927.8 1223.7L926.3 1223.9L922.1 1217.3L920.7 1217.6L922.5 1224.7L921 1225L919.6 1225.4L915.2 1219L913.9 1219.4L916 1226.5L914.6 1227L913.2 1227.6L908.6 1221.4L907.3 1222L909.7 1229.1L908.4 1229.7L907.1 1230.4L902.4 1224.5L901.2 1225.2L903.9 1232.3L902.7 1233.1L901.4 1233.9L896.5 1228.2L895.4 1229L898.4 1236.1L897.3 1237L896.1 1238L891 1232.6L890 1233.6L893.4 1240.6L892.3 1241.6L891.3 1242.7L886 1237.7L885.1 1238.7L888.7 1245.6L887.8 1246.8L886.8 1248L881.5 1243.3L880.6 1244.5L884.5 1251.3L883.7 1252.6L882.8 1253.9L877.4 1249.6L876.6 1250.9L880.8 1257.5L880 1258.9L879.3 1260.4L873.8 1256.4L873.1 1257.8L877.5 1264.2L876.9 1265.7L876.2 1267.3L870.7 1263.7L870.2 1265.3L874.8 1271.4L874.2 1273.1L873.7 1274.8L868.2 1271.6L867.7 1273.2L872.5 1279.2L872.1 1280.9L871.7 1282.7L866.1 1279.9L865.8 1281.7L870.8 1287.3L870.4 1289.2L870.1 1291L864.6 1288.7L864.4 1290.5L869.5 1295.9L869.3 1297.8L869.2 1299.8L863.7 1297.9L863.6 1299.8L868.8 1304.8L868.7 1306.8L868.7 1308.8L863.3 1307.4L863.3 1309.4L868.7 1314.1L868.7 1316.1L868.7 1318.2L863.5 1317.3L863.6 1319.3L869 1323.6L869.2 1325.7L869.3 1327.9L864.2 1327.4L864.4 1329.5L869.9 1333.4L870.2 1335.6L870.5 1337.8L865.5 1337.8L865.8 1339.9L871.3 1343.4L871.7 1345.6L872.1 1347.9L867.3 1348.3L867.7 1350.4L873.3 1353.6L873.7 1355.9L874.3 1358.1L869.6 1359L870.2 1361.2L875.7 1363.9L876.3 1366.2L876.9 1368.4L872.5 1369.8L873.1 1372L878.6 1374.3L879.4 1376.6L880.1 1378.8L875.9 1380.7L876.6 1382.8L882.1 1384.7L882.9 1387L883.7 1389.2L879.8 1391.5L880.6 1393.7L886 1395.1L886.9 1397.3L887.8 1399.6L884.1 1402.3L885.1 1404.5L890.3 1405.4L891.4 1407.7L892.4 1409.9L889 1413.1L890 1415.2L895.1 1415.6L896.2 1417.9L897.4 1420.1L894.3 1423.6L895.4 1425.7L900.3 1425.7L901.5 1427.9L902.8 1430.1L900 1434.1L901.1 1436.1L906 1435.6L907.2 1437.8L908.5 1439.9L906 1444.3L907.3 1446.3L911.9 1445.3L913.3 1447.4L914.7 1449.5L912.5 1454.2L913.8 1456.1L918.3 1454.7L919.7 1456.8L921.1 1458.8L919.3 1463.8L920.7 1465.7L924.9 1463.8L926.4 1465.8L927.9 1467.7L926.4 1473.1L927.9 1474.9L931.8 1472.6L933.4 1474.4L935 1476.3L933.8 1481.9L935.4 1483.7L939 1480.9L940.6 1482.7L942.3 1484.5L941.5 1490.4L943.1 1492L946.5 1488.9L948.1 1490.5L949.8 1492.2L949.4 1498.4L951 1499.9L954.1 1496.3L955.8 1497.9L957.5 1499.5L957.4 1505.8L959.1 1507.3L961.9 1503.3L963.6 1504.8L965.3 1506.2L965.6 1512.8L967.3 1514.1L969.8 1509.8L971.5 1511.1L973.3 1512.5L974 1519.2L975.6 1520.4L977.8 1515.7L979.5 1516.9L981.3 1518.1L982.4 1525L984 1526.1L985.9 1521.1L987.6 1522.2L989.4 1523.2L990.8 1530.2L992.5 1531.2L994 1525.8L995.7 1526.8L997.5 1527.7L999.3 1534.8L1000.9 1535.6L1002.1 1529.9L1003.8 1530.8L1005.6 1531.6L1007.7 1538.7L1009.4 1539.4L1010.1 1533.4L1011.9 1534.1L1013.6 1534.8L1016 1541.9L1017.7 1542.5L1018.1 1536.3L1019.8 1536.8L1021.6 1537.3L1024.3 1544.5L1025.9 1544.9L1026 1538.5L1027.7 1538.9L1029.4 1539.2L1032.4 1546.3L1034 1546.6L1033.7 1540L1035.4 1540.3L1037 1540.5L1040.4 1547.5L1041.9 1547.6L1041.2 1540.9L1042.9 1541L1044.5 1541L1048.1 1547.9L1049.6 1547.9L1048.6 1541L1050.2 1541L1051.7 1540.9L1055.6 1547.6L1057.1 1547.5L1055.7 1540.5L1057.2 1540.3L1058.7 1540.1L1062.9 1546.7L1064.3 1546.4L1062.5 1539.3L1064 1539L1065.4 1538.6L1069.8 1545L1071.1 1544.6L1069 1537.5L1070.4 1537L1071.8 1536.4L1076.4 1542.6L1077.7 1542L1075.3 1534.9Z" fill="#fff" stroke-width="3.2"/><ellipse cx="986.6" cy="1308.2" rx="39" ry="22.8" transform="rotate(60 986.6 1308.2)" fill="#fff"/><clipPath id="ih0"><ellipse cx="986.6" cy="1308.2" rx="39" ry="22.8" transform="rotate(60 986.6 1308.2)"/></clipPath><g clip-path="url(#ih0)"><ellipse cx="996.1" cy="1302.7" rx="39" ry="22.8" transform="rotate(60 996.1 1302.7)" stroke-width="2.8"/></g><ellipse cx="1045.1" cy="1377.4" rx="39" ry="22.8" transform="rotate(60 1045.1 1377.4)" fill="#fff"/><clipPath id="ih1"><ellipse cx="1045.1" cy="1377.4" rx="39" ry="22.8" transform="rotate(60 1045.1 1377.4)"/></clipPath><g clip-path="url(#ih1)"><ellipse cx="1054.6" cy="1371.9" rx="39" ry="22.8" transform="rotate(60 1054.6 1371.9)" stroke-width="2.8"/></g><ellipse cx="1048.7" cy="1453.7" rx="39" ry="22.8" transform="rotate(60 1048.7 1453.7)" fill="#fff"/><clipPath id="ih2"><ellipse cx="1048.7" cy="1453.7" rx="39" ry="22.8" transform="rotate(60 1048.7 1453.7)"/></clipPath><g clip-path="url(#ih2)"><ellipse cx="1058.2" cy="1448.2" rx="39" ry="22.8" transform="rotate(60 1058.2 1448.2)" stroke-width="2.8"/></g><ellipse cx="929.8" cy="1315.3" rx="39" ry="22.8" transform="rotate(60 929.8 1315.3)" fill="#fff"/><clipPath id="ih3"><ellipse cx="929.8" cy="1315.3" rx="39" ry="22.8" transform="rotate(60 929.8 1315.3)"/></clipPath><g clip-path="url(#ih3)"><ellipse cx="939.3" cy="1309.8" rx="39" ry="22.8" transform="rotate(60 939.3 1309.8)" stroke-width="2.8"/></g><ellipse cx="966.5" cy="1397" rx="88" ry="51.5" transform="rotate(60 966.5 1397)" fill="#fff"/><path d="M995.8 1467.5L997.5 1466.8L1011.7 1482.9L1016 1479.4L1006.8 1459.4L1008 1457.8L1009.1 1456.2L1024.8 1467.1L1027.1 1461.1L1014.1 1443.5L1014.5 1441.2L1014.9 1438.8L1030.3 1443.2L1030.3 1435.4L1015 1422.3L1014.7 1419.5L1014.2 1416.7L1027.4 1414.1L1025.1 1405.5L1009.4 1398.5L1008.3 1395.6L1007.2 1392.7L1016.6 1383.3L1012.3 1374.9L998.1 1374.8L996.4 1372.1L994.6 1369.5L999.1 1354.5L993.3 1347.3L982.3 1354.2L980.2 1352L978 1350L977.1 1331.2L970.4 1326.1L963.9 1339.1L961.7 1337.7L959.4 1336.5L953.1 1316.2L946.5 1313.8L945.3 1331.3L943.2 1331L941 1330.7L930.2 1311.3L924.3 1311.9L928.6 1331.9" fill="#fff"/><g stroke="none"><ellipse cx="961.3" cy="1400" rx="77" ry="45" transform="rotate(60 961.3 1400)" fill="#fff"/></g><g stroke="none"><ellipse cx="958.3" cy="1401.8" rx="77" ry="45" transform="rotate(60 958.3 1401.8)" fill="#fff"/></g><g stroke="none"><ellipse cx="955.3" cy="1403.5" rx="77" ry="45" transform="rotate(60 955.3 1403.5)" fill="#fff"/></g><g stroke="none"><ellipse cx="952.2" cy="1405.2" rx="77" ry="45" transform="rotate(60 952.2 1405.2)" fill="#fff"/></g><g stroke="none"><ellipse cx="949.2" cy="1407" rx="77" ry="45" transform="rotate(60 949.2 1407)" fill="#fff"/></g><path d="M985.4 1473.8L997.5 1466.8M999.5 1489.9L1011.7 1482.9M1003.9 1486.4L1016 1479.4M994.7 1466.4L1006.8 1459.4M997 1463.2L1009.1 1456.2M1012.7 1474.1L1024.8 1467.1M1015 1468.1L1027.1 1461.1M1002 1450.5L1014.1 1443.5M1002.8 1445.8L1014.9 1438.8M1018.1 1450.2L1030.3 1443.2M1018.2 1442.4L1030.3 1435.4M1002.9 1429.3L1015 1422.3M1002.1 1423.7L1014.2 1416.7M1015.3 1421.1L1027.4 1414.1M1013 1412.5L1025.1 1405.5M997.3 1405.5L1009.4 1398.5M995.1 1399.7L1007.2 1392.7M1004.5 1390.3L1016.6 1383.3M1000.2 1381.9L1012.3 1374.9M985.9 1381.8L998.1 1374.8M982.5 1376.5L994.6 1369.5M987 1361.5L999.1 1354.5M981.2 1354.3L993.3 1347.3M970.1 1361.2L982.3 1354.2M965.9 1357L978 1350M964.9 1338.2L977.1 1331.2M958.3 1333.1L970.4 1326.1M951.8 1346.1L963.9 1339.1M947.3 1343.5L959.4 1336.5M941 1323.2L953.1 1316.2M934.3 1320.8L946.5 1313.8M933.2 1338.3L945.3 1331.3M928.9 1337.7L941 1330.7M918 1318.3L930.2 1311.3M912.2 1318.9L924.3 1311.9M916.5 1338.9L928.6 1331.9"/><path d="M983.7 1474.5L985.4 1473.8L999.5 1489.9L1003.9 1486.4L994.7 1466.4L995.9 1464.8L997 1463.2L1012.7 1474.1L1015 1468.1L1002 1450.5L1002.4 1448.2L1002.8 1445.8L1018.1 1450.2L1018.2 1442.4L1002.9 1429.3L1002.5 1426.5L1002.1 1423.7L1015.3 1421.1L1013 1412.5L997.3 1405.5L996.2 1402.6L995.1 1399.7L1004.5 1390.3L1000.2 1381.9L985.9 1381.8L984.2 1379.1L982.5 1376.5L987 1361.5L981.2 1354.3L970.1 1361.2L968 1359L965.9 1357L964.9 1338.2L958.3 1333.1L951.8 1346.1L949.6 1344.7L947.3 1343.5L941 1323.2L934.3 1320.8L933.2 1338.3L931 1338L928.9 1337.7L918 1318.3L912.2 1318.9L916.5 1338.9L914.7 1339.5L913 1340.2L898.8 1324.1L894.5 1327.6L903.7 1347.6L902.5 1349.2L901.4 1350.8L885.7 1339.9L883.4 1345.9L896.4 1363.5L896 1365.8L895.6 1368.2L880.3 1363.8L880.2 1371.6L895.5 1384.7L895.9 1387.5L896.3 1390.3L883.1 1392.9L885.4 1401.5L901.1 1408.5L902.2 1411.4L903.3 1414.3L893.9 1423.7L898.2 1432.1L912.5 1432.2L914.2 1434.9L915.9 1437.5L911.4 1452.5L917.2 1459.7L928.3 1452.8L930.4 1455L932.5 1457L933.5 1475.8L940.1 1480.9L946.6 1467.9L948.8 1469.3L951.1 1470.5L957.4 1490.8L964.1 1493.2L965.2 1475.7L967.4 1476L969.5 1476.3L980.4 1495.7L986.2 1495.1L981.9 1475.1Z" fill="#fff"/><ellipse cx="944" cy="1410" rx="55" ry="32.2" transform="rotate(60 944 1410)" fill="#fff"/><g stroke="none"><path d="M966 1448.1L967.5 1447.1L968.9 1445.9L970.2 1444.6L971.3 1443.1L972.3 1441.4L973.2 1439.6L973.9 1437.6L974.5 1435.5L974.9 1433.3L975.2 1430.9L975.3 1428.5L975.3 1425.9L975.1 1423.3L974.8 1420.6L974.3 1417.9L973.7 1415.1L972.9 1412.3L972 1409.5L971 1406.7L969.8 1403.9L968.5 1401.2L967 1398.5L965.5 1395.8L963.9 1393.2L962.1 1390.7L960.3 1388.3L958.4 1386L956.4 1383.8L954.4 1381.7L952.3 1379.8L950.2 1378L948 1376.4L945.8 1374.9L943.7 1373.6L941.5 1372.5L939.3 1371.6L937.2 1370.9L935 1370.3L933 1370L931 1369.8L929 1369.8L927.1 1370.1L925.3 1370.5L923.6 1371.1L922 1371.9L909 1379.4L907.5 1380.4L906.1 1381.6L904.9 1382.9L903.7 1384.4L902.7 1386.1L901.8 1387.9L901.1 1389.9L900.5 1392L900.1 1394.2L899.8 1396.6L899.7 1399L899.7 1401.6L899.9 1404.2L900.2 1406.9L900.7 1409.6L901.3 1412.4L902.1 1415.2L903 1418L904.1 1420.8L905.2 1423.6L906.5 1426.3L908 1429L909.5 1431.7L911.1 1434.3L912.9 1436.8L914.7 1439.2L916.6 1441.5L918.6 1443.7L920.6 1445.8L922.7 1447.7L924.8 1449.5L927 1451.1L929.2 1452.6L931.4 1453.9L933.5 1455L935.7 1455.9L937.9 1456.6L940 1457.2L942 1457.5L944.1 1457.7L946 1457.7L947.9 1457.4L949.7 1457L951.4 1456.4L953 1455.6Z" fill="#fff"/></g><path d="M966 1448.1L953 1455.6"/><path d="M922 1371.9L909 1379.4"/><path d="M966 1448.1L967.5 1447.1L968.9 1445.9L970.2 1444.6L971.3 1443.1L972.3 1441.4L973.2 1439.6L973.9 1437.6L974.5 1435.5L974.9 1433.3L975.2 1430.9L975.3 1428.5L975.3 1425.9L975.1 1423.3L974.8 1420.6L974.3 1417.9L973.7 1415.1L972.9 1412.3L972 1409.5L971 1406.7L969.8 1403.9L968.5 1401.2L967 1398.5L965.5 1395.8L963.9 1393.2L962.1 1390.7L960.3 1388.3L958.4 1386L956.4 1383.8L954.4 1381.7L952.3 1379.8L950.2 1378L948 1376.4L945.8 1374.9L943.7 1373.6L941.5 1372.5L939.3 1371.6L937.2 1370.9L935 1370.3L933 1370L931 1369.8L929 1369.8L927.1 1370.1L925.3 1370.5L923.6 1371.1L922 1371.9"/><ellipse cx="931" cy="1417.5" rx="44" ry="25.7" transform="rotate(60 931 1417.5)" fill="#fff"/><ellipse cx="931" cy="1417.5" rx="34" ry="19.9" transform="rotate(60 931 1417.5)" stroke-width="3"/><ellipse cx="932.7" cy="1416.5" rx="30" ry="17.5" transform="rotate(60 932.7 1416.5)" stroke-width="4"/><path d="M929.4 1390.2L928.2 1390.3L927.1 1390.4L926 1390.7L925 1391L924 1391.5L923.1 1392.1L922.3 1392.8L921.6 1393.6L920.9 1394.5L920.3 1395.6L919.8 1396.7L919.4 1397.8L919 1399.1L918.8 1400.5L918.6 1401.9L918.6 1403.3L918.6 1404.9L918.7 1406.4L918.9 1408L919.2 1409.7L919.6 1411.3L920.1 1413L920.7 1414.7L921.3 1416.4L922 1418L922.8 1419.7L923.7 1421.3L924.6 1422.8L925.6 1424.4L926.7 1425.9L927.8 1427.3L929 1428.6L930.1 1429.9L931.4 1431.1L932.6 1432.2L933.9 1433.3L935.2 1434.2L936.5 1435L937.8 1435.8L939.1 1436.4L940.4 1436.9L941.7 1437.3L942.9 1437.6L944.2 1437.7L945.3 1437.8L946.5 1437.7L947.6 1437.5" stroke-width="2.8"/></g>
<g id="p_small"><ellipse cx="1270.2" cy="1223.5" rx="29.5" ry="17.1" transform="rotate(60 1270.2 1223.5)" fill="#fff"/><g stroke="none"><path d="M1148.5 1259.8L1147.5 1260.4L1146.5 1261.2L1145.7 1262.1L1144.9 1263.1L1144.3 1264.2L1143.7 1265.4L1143.2 1266.8L1142.8 1268.2L1142.6 1269.7L1142.4 1271.2L1142.3 1272.9L1142.3 1274.6L1142.4 1276.3L1142.7 1278.1L1143 1279.9L1143.4 1281.8L1143.9 1283.7L1144.5 1285.5L1145.3 1287.4L1146 1289.3L1146.9 1291.1L1147.9 1293L1148.9 1294.7L1150 1296.5L1151.2 1298.2L1152.4 1299.8L1153.7 1301.3L1155 1302.8L1156.3 1304.2L1157.7 1305.5L1159.2 1306.7L1160.6 1307.8L1162.1 1308.8L1163.5 1309.6L1165 1310.4L1166.4 1311L1167.9 1311.5L1169.3 1311.9L1170.6 1312.1L1172 1312.2L1173.3 1312.2L1174.5 1312.1L1175.7 1311.8L1176.9 1311.4L1178 1310.8L1284.9 1249.1L1285.9 1248.4L1286.8 1247.7L1287.7 1246.8L1288.4 1245.7L1289.1 1244.6L1289.7 1243.4L1290.1 1242.1L1290.5 1240.7L1290.8 1239.2L1291 1237.6L1291.1 1236L1291 1234.3L1290.9 1232.5L1290.7 1230.7L1290.4 1228.9L1289.9 1227.1L1289.4 1225.2L1288.8 1223.3L1288.1 1221.4L1287.3 1219.6L1286.4 1217.7L1285.5 1215.9L1284.4 1214.1L1283.3 1212.4L1282.2 1210.7L1281 1209.1L1279.7 1207.5L1278.4 1206L1277 1204.7L1275.6 1203.4L1274.2 1202.2L1272.7 1201.1L1271.3 1200.1L1269.8 1199.2L1268.4 1198.5L1266.9 1197.9L1265.5 1197.4L1264.1 1197L1262.7 1196.7L1261.4 1196.6L1260.1 1196.6L1258.8 1196.8L1257.6 1197.1L1256.5 1197.5L1255.4 1198Z" fill="#fff"/></g><path d="M1284.1 1249.5L1285.2 1248.9L1286.2 1248.2L1287.1 1247.4L1287.9 1246.5L1288.6 1245.4L1289.3 1244.3L1289.8 1243L1290.3 1241.6L1290.6 1240.2L1290.9 1238.6L1291 1237L1291.1 1235.3L1291 1233.6L1290.8 1231.8L1290.6 1230L1290.2 1228.1L1289.7 1226.2L1289.2 1224.4L1288.5 1222.5L1287.7 1220.6L1286.9 1218.7L1286 1216.8L1285 1215L1283.9 1213.2L1282.7 1211.5L1281.5 1209.8L1280.3 1208.2L1279 1206.7L1277.6 1205.3L1276.2 1203.9L1274.8 1202.7L1273.3 1201.5L1271.9 1200.5L1270.4 1199.5L1268.9 1198.7L1267.4 1198.1L1266 1197.5L1264.6 1197.1L1263.2 1196.8L1261.8 1196.6L1260.5 1196.6L1259.2 1196.7L1257.9 1197L1256.8 1197.3L1255.7 1197.9L1254.6 1198.5"/><path d="M1178 1310.8L1284.9 1249.1"/><path d="M1148.5 1259.8L1255.4 1198"/><ellipse cx="1163.2" cy="1285.3" rx="29.5" ry="17.1" transform="rotate(60 1163.2 1285.3)" fill="#fff"/><ellipse cx="1164.1" cy="1284.8" rx="26" ry="15.1" transform="rotate(60 1164.1 1284.8)" stroke-width="2.6"/><ellipse cx="1164.9" cy="1284.3" rx="19" ry="11" transform="rotate(60 1164.9 1284.3)" stroke-width="5"/><ellipse cx="250.7" cy="1467.4" rx="15.6" ry="9" transform="rotate(60 250.7 1467.4)" fill="#fff"/><g stroke="none"><path d="M209.9 1472.9L209.4 1473.2L208.9 1473.7L208.5 1474.1L208.1 1474.7L207.7 1475.3L207.4 1475.9L207.2 1476.6L207 1477.3L206.8 1478.1L206.7 1479L206.7 1479.8L206.7 1480.7L206.8 1481.6L206.9 1482.6L207.1 1483.6L207.3 1484.5L207.6 1485.5L207.9 1486.5L208.3 1487.5L208.7 1488.5L209.1 1489.5L209.6 1490.4L210.2 1491.4L210.8 1492.3L211.4 1493.2L212 1494.1L212.7 1494.9L213.4 1495.7L214.1 1496.4L214.9 1497.1L215.6 1497.7L216.4 1498.3L217.1 1498.8L217.9 1499.3L218.7 1499.7L219.5 1500L220.2 1500.3L221 1500.5L221.7 1500.6L222.4 1500.6L223.1 1500.6L223.7 1500.6L224.4 1500.4L225 1500.2L225.5 1499.9L258.5 1480.9L259 1480.6L259.5 1480.1L259.9 1479.7L260.3 1479.1L260.7 1478.5L261 1477.9L261.2 1477.2L261.4 1476.5L261.6 1475.7L261.7 1474.8L261.7 1474L261.7 1473.1L261.6 1472.2L261.5 1471.2L261.3 1470.2L261.1 1469.3L260.8 1468.3L260.5 1467.3L260.1 1466.3L259.7 1465.3L259.3 1464.3L258.8 1463.4L258.2 1462.4L257.6 1461.5L257 1460.6L256.4 1459.7L255.7 1458.9L255 1458.1L254.3 1457.4L253.5 1456.7L252.8 1456.1L252 1455.5L251.3 1455L250.5 1454.5L249.7 1454.1L249 1453.8L248.2 1453.5L247.4 1453.3L246.7 1453.2L246 1453.2L245.3 1453.2L244.7 1453.2L244 1453.4L243.4 1453.6L242.9 1453.9Z" fill="#fff"/></g><path d="M258 1481.1L258.6 1480.8L259.1 1480.5L259.6 1480L260 1479.5L260.4 1479L260.8 1478.4L261.1 1477.7L261.3 1477L261.5 1476.2L261.6 1475.4L261.7 1474.5L261.7 1473.6L261.7 1472.7L261.6 1471.8L261.5 1470.8L261.3 1469.8L261 1468.8L260.7 1467.8L260.4 1466.8L260 1465.8L259.5 1464.8L259 1463.8L258.5 1462.9L257.9 1461.9L257.3 1461L256.7 1460.1L256 1459.3L255.3 1458.5L254.6 1457.7L253.9 1457L253.1 1456.3L252.3 1455.7L251.6 1455.2L250.8 1454.7L250 1454.3L249.2 1453.9L248.5 1453.6L247.7 1453.4L247 1453.3L246.2 1453.2L245.5 1453.2L244.8 1453.2L244.2 1453.3L243.6 1453.5L243 1453.8L242.5 1454.1"/><path d="M225.5 1499.9L258.5 1480.9"/><path d="M209.9 1472.9L242.9 1453.9"/><ellipse cx="217.7" cy="1486.4" rx="15.6" ry="9" transform="rotate(60 217.7 1486.4)" fill="#fff"/><path d="M231.8 1496.3L232.3 1496L232.9 1495.6L233.4 1495.2L233.8 1494.8L234.3 1494.2L234.6 1493.7L234.9 1493L235.2 1492.3L235.4 1491.6L235.6 1490.8L235.7 1490L235.7 1489.1L235.7 1488.2L235.7 1487.2L235.5 1486.3L235.4 1485.3L235.2 1484.3L234.9 1483.3L234.6 1482.3L234.2 1481.3L233.8 1480.3L233.3 1479.3L232.8 1478.4L232.2 1477.4L231.6 1476.5L231 1475.6L230.4 1474.7L229.7 1473.9L229 1473.1L228.2 1472.4L227.5 1471.7L226.7 1471L226 1470.5L225.2 1469.9L224.4 1469.5L223.6 1469.1L222.9 1468.8L222.1 1468.5L221.3 1468.3L220.6 1468.2L219.9 1468.2L219.2 1468.2L218.5 1468.3L217.9 1468.4L217.3 1468.7L216.7 1469L216.2 1469.3" stroke-width="3.4"/><path d="M238.7 1492.3L239.3 1492L239.8 1491.6L240.3 1491.2L240.8 1490.8L241.2 1490.2L241.6 1489.7L241.9 1489L242.1 1488.3L242.3 1487.6L242.5 1486.8L242.6 1486L242.7 1485.1L242.7 1484.2L242.6 1483.2L242.5 1482.3L242.3 1481.3L242.1 1480.3L241.8 1479.3L241.5 1478.3L241.1 1477.3L240.7 1476.3L240.2 1475.3L239.7 1474.4L239.2 1473.4L238.6 1472.5L238 1471.6L237.3 1470.7L236.6 1469.9L235.9 1469.1L235.2 1468.4L234.4 1467.7L233.7 1467L232.9 1466.5L232.1 1465.9L231.3 1465.5L230.6 1465.1L229.8 1464.8L229 1464.5L228.3 1464.3L227.5 1464.2L226.8 1464.2L226.1 1464.2L225.5 1464.3L224.8 1464.4L224.2 1464.7L223.7 1465L223.2 1465.3" stroke-width="3.4"/><path d="M245.6 1488.3L246.2 1488L246.7 1487.6L247.2 1487.2L247.7 1486.8L248.1 1486.2L248.5 1485.7L248.8 1485L249.1 1484.3L249.3 1483.6L249.4 1482.8L249.5 1482L249.6 1481.1L249.6 1480.2L249.5 1479.2L249.4 1478.3L249.2 1477.3L249 1476.3L248.7 1475.3L248.4 1474.3L248 1473.3L247.6 1472.3L247.1 1471.3L246.6 1470.4L246.1 1469.4L245.5 1468.5L244.9 1467.6L244.2 1466.7L243.5 1465.9L242.8 1465.1L242.1 1464.4L241.4 1463.7L240.6 1463L239.8 1462.5L239.1 1461.9L238.3 1461.5L237.5 1461.1L236.7 1460.8L236 1460.5L235.2 1460.3L234.5 1460.2L233.8 1460.2L233.1 1460.2L232.4 1460.3L231.8 1460.4L231.2 1460.7L230.6 1461L230.1 1461.3" stroke-width="3.4"/><path d="M252.5 1484.3L253.1 1484L253.7 1483.6L254.2 1483.2L254.6 1482.8L255 1482.2L255.4 1481.7L255.7 1481L256 1480.3L256.2 1479.6L256.4 1478.8L256.5 1478L256.5 1477.1L256.5 1476.2L256.4 1475.2L256.3 1474.3L256.2 1473.3L255.9 1472.3L255.7 1471.3L255.3 1470.3L255 1469.3L254.5 1468.3L254.1 1467.3L253.6 1466.4L253 1465.4L252.4 1464.5L251.8 1463.6L251.2 1462.7L250.5 1461.9L249.8 1461.1L249 1460.4L248.3 1459.7L247.5 1459L246.8 1458.5L246 1457.9L245.2 1457.5L244.4 1457.1L243.6 1456.8L242.9 1456.5L242.1 1456.3L241.4 1456.2L240.7 1456.2L240 1456.2L239.3 1456.3L238.7 1456.4L238.1 1456.7L237.5 1457L237 1457.3" stroke-width="3.4"/><ellipse cx="217.7" cy="1486.4" rx="25" ry="14.5" transform="rotate(60 217.7 1486.4)" fill="#fff"/><g stroke="none"><path d="M181 1478.7L180.2 1479.3L179.4 1480L178.7 1480.7L178 1481.6L177.5 1482.5L177 1483.6L176.6 1484.7L176.2 1485.9L176 1487.1L175.9 1488.5L175.8 1489.9L175.8 1491.3L175.9 1492.8L176.1 1494.3L176.4 1495.9L176.7 1497.4L177.2 1499L177.7 1500.6L178.3 1502.2L179 1503.8L179.7 1505.3L180.5 1506.9L181.4 1508.4L182.3 1509.9L183.3 1511.3L184.3 1512.7L185.4 1514L186.5 1515.2L187.7 1516.4L188.9 1517.5L190.1 1518.5L191.3 1519.4L192.5 1520.3L193.8 1521L195 1521.6L196.2 1522.2L197.4 1522.6L198.6 1522.9L199.8 1523.1L201 1523.2L202.1 1523.2L203.1 1523.1L204.1 1522.8L205.1 1522.5L206 1522.1L230.2 1508.1L231.1 1507.5L231.9 1506.8L232.6 1506.1L233.2 1505.2L233.8 1504.3L234.3 1503.2L234.7 1502.1L235 1500.9L235.2 1499.7L235.4 1498.3L235.5 1496.9L235.4 1495.5L235.3 1494L235.1 1492.5L234.9 1490.9L234.5 1489.4L234.1 1487.8L233.6 1486.2L233 1484.6L232.3 1483L231.5 1481.5L230.7 1479.9L229.9 1478.4L228.9 1476.9L227.9 1475.5L226.9 1474.1L225.8 1472.8L224.7 1471.6L223.6 1470.4L222.4 1469.3L221.2 1468.3L219.9 1467.4L218.7 1466.5L217.5 1465.8L216.2 1465.2L215 1464.6L213.8 1464.2L212.6 1463.9L211.4 1463.7L210.3 1463.6L209.2 1463.6L208.1 1463.7L207.1 1464L206.2 1464.3L205.2 1464.7Z" fill="#fff"/></g><path d="M229.6 1508.4L230.5 1507.9L231.3 1507.3L232.1 1506.6L232.8 1505.8L233.4 1504.9L234 1503.9L234.4 1502.9L234.8 1501.7L235.1 1500.5L235.3 1499.2L235.4 1497.8L235.5 1496.4L235.4 1494.9L235.3 1493.4L235 1491.9L234.7 1490.3L234.3 1488.7L233.9 1487.1L233.3 1485.5L232.7 1483.9L231.9 1482.3L231.2 1480.7L230.3 1479.2L229.4 1477.6L228.4 1476.2L227.4 1474.8L226.3 1473.4L225.2 1472.1L224.1 1470.9L222.9 1469.8L221.7 1468.7L220.4 1467.7L219.2 1466.8L218 1466.1L216.7 1465.4L215.5 1464.8L214.2 1464.3L213 1464L211.8 1463.7L210.7 1463.6L209.5 1463.6L208.4 1463.7L207.4 1463.9L206.4 1464.2L205.5 1464.6L204.6 1465.2"/><path d="M206 1522.1L230.2 1508.1"/><path d="M181 1478.7L205.2 1464.7"/><ellipse cx="193.5" cy="1500.4" rx="25" ry="14.5" transform="rotate(60 193.5 1500.4)" fill="#fff"/><ellipse cx="193.5" cy="1500.4" rx="21" ry="12.2" transform="rotate(60 193.5 1500.4)" stroke-width="3.4"/><path d="M202.5 1510.4L201.6 1498.5L192.7 1488.5L184.5 1490.4L185.4 1502.3L194.3 1512.3Z" stroke-width="3.6"/><path d="M202.5 1510.4L195.5 1498.2L184.5 1490.4" stroke-width="3"/><ellipse cx="897.2" cy="2471.3" rx="25" ry="14.5" transform="rotate(120 897.2 2471.3)" fill="#fff"/><g stroke="none"><path d="M884.7 2493L885.6 2493.4L886.5 2493.7L887.6 2494L888.6 2494.1L889.7 2494.1L890.9 2494L892 2493.8L893.2 2493.5L894.4 2493.1L895.7 2492.5L896.9 2491.9L898.1 2491.2L899.4 2490.3L900.6 2489.4L901.8 2488.4L903 2487.3L904.1 2486.1L905.3 2484.9L906.3 2483.6L907.4 2482.2L908.4 2480.8L909.3 2479.3L910.2 2477.8L911 2476.2L911.7 2474.7L912.4 2473.1L913 2471.5L913.5 2469.9L913.9 2468.3L914.3 2466.8L914.6 2465.2L914.8 2463.7L914.9 2462.2L914.9 2460.8L914.8 2459.4L914.7 2458L914.4 2456.8L914.1 2455.6L913.7 2454.5L913.2 2453.4L912.7 2452.5L912 2451.6L911.3 2450.9L910.5 2450.2L909.7 2449.6L927 2459.6L926.1 2459.2L925.1 2458.9L924.1 2458.6L923.1 2458.5L922 2458.5L920.8 2458.6L919.6 2458.8L918.4 2459.1L917.2 2459.5L916 2460.1L914.8 2460.7L913.5 2461.4L912.3 2462.3L911.1 2463.2L909.9 2464.2L908.7 2465.3L907.5 2466.5L906.4 2467.7L905.3 2469L904.3 2470.4L903.3 2471.8L902.4 2473.3L901.5 2474.8L900.7 2476.4L900 2477.9L899.3 2479.5L898.7 2481.1L898.2 2482.7L897.7 2484.3L897.4 2485.8L897.1 2487.4L896.9 2488.9L896.8 2490.4L896.8 2491.8L896.9 2493.2L897 2494.6L897.2 2495.8L897.6 2497L898 2498.1L898.5 2499.2L899 2500.1L899.7 2501L900.4 2501.7L901.2 2502.4L902 2503Z" fill="#fff"/></g><path d="M884.7 2493L902 2503"/><path d="M909.7 2449.6L927 2459.6"/><ellipse cx="914.5" cy="2481.3" rx="25" ry="14.5" transform="rotate(120 914.5 2481.3)" fill="#fff"/><ellipse cx="914.5" cy="2481.3" rx="21" ry="12.2" transform="rotate(120 914.5 2481.3)" stroke-width="2.6"/><ellipse cx="914.5" cy="2481.3" rx="14" ry="8.1" transform="rotate(120 914.5 2481.3)" fill="#fff" stroke-width="3"/><ellipse cx="919.7" cy="2484.3" rx="14" ry="8.1" transform="rotate(120 919.7 2484.3)" fill="#fff" stroke-width="3"/><ellipse cx="924.9" cy="2487.3" rx="14" ry="8.1" transform="rotate(120 924.9 2487.3)" fill="#fff" stroke-width="3"/><ellipse cx="930.1" cy="2490.3" rx="14" ry="8.1" transform="rotate(120 930.1 2490.3)" fill="#fff" stroke-width="3"/><ellipse cx="935.3" cy="2493.3" rx="14" ry="8.1" transform="rotate(120 935.3 2493.3)" fill="#fff" stroke-width="3"/><ellipse cx="940.5" cy="2496.3" rx="14" ry="8.1" transform="rotate(120 940.5 2496.3)" fill="#fff" stroke-width="3"/><path d="M907.5 2493.4L936.1 2509.9"/><path d="M921.5 2469.2L950.1 2485.7"/><ellipse cx="943.1" cy="2497.8" rx="14" ry="8.1" transform="rotate(120 943.1 2497.8)" fill="#fff"/><ellipse cx="943.1" cy="2497.8" rx="6" ry="3.5" transform="rotate(120 943.1 2497.8)" stroke-width="2.6"/><ellipse cx="176.7" cy="3338" rx="25" ry="14.5" transform="rotate(120 176.7 3338)" fill="#fff"/><g stroke="none"><path d="M164.2 3359.7L165.1 3360.1L166 3360.4L167.1 3360.7L168.1 3360.8L169.2 3360.8L170.4 3360.7L171.5 3360.5L172.7 3360.2L173.9 3359.8L175.2 3359.2L176.4 3358.6L177.6 3357.9L178.9 3357L180.1 3356.1L181.3 3355.1L182.5 3354L183.6 3352.8L184.8 3351.6L185.8 3350.3L186.9 3348.9L187.9 3347.5L188.8 3346L189.7 3344.5L190.5 3342.9L191.2 3341.4L191.9 3339.8L192.5 3338.2L193 3336.6L193.4 3335L193.8 3333.5L194.1 3331.9L194.3 3330.4L194.4 3328.9L194.4 3327.5L194.3 3326.1L194.2 3324.7L193.9 3323.5L193.6 3322.3L193.2 3321.2L192.7 3320.1L192.2 3319.2L191.5 3318.3L190.8 3317.6L190 3316.9L189.2 3316.3L206.5 3326.3L205.6 3325.9L204.6 3325.6L203.6 3325.3L202.6 3325.2L201.5 3325.2L200.3 3325.3L199.1 3325.5L197.9 3325.8L196.7 3326.2L195.5 3326.8L194.3 3327.4L193 3328.1L191.8 3329L190.6 3329.9L189.4 3330.9L188.2 3332L187 3333.2L185.9 3334.4L184.8 3335.7L183.8 3337.1L182.8 3338.5L181.9 3340L181 3341.5L180.2 3343.1L179.5 3344.6L178.8 3346.2L178.2 3347.8L177.7 3349.4L177.2 3351L176.9 3352.5L176.6 3354.1L176.4 3355.6L176.3 3357.1L176.3 3358.5L176.4 3359.9L176.5 3361.3L176.7 3362.5L177.1 3363.7L177.5 3364.8L178 3365.9L178.5 3366.8L179.2 3367.7L179.9 3368.4L180.7 3369.1L181.5 3369.7Z" fill="#fff"/></g><path d="M164.2 3359.7L181.5 3369.7"/><path d="M189.2 3316.3L206.5 3326.3"/><ellipse cx="194" cy="3348" rx="25" ry="14.5" transform="rotate(120 194 3348)" fill="#fff"/><ellipse cx="194" cy="3348" rx="21" ry="12.2" transform="rotate(120 194 3348)" stroke-width="2.6"/><ellipse cx="194" cy="3348" rx="14" ry="8.1" transform="rotate(120 194 3348)" fill="#fff" stroke-width="3"/><ellipse cx="199.2" cy="3351" rx="14" ry="8.1" transform="rotate(120 199.2 3351)" fill="#fff" stroke-width="3"/><ellipse cx="204.4" cy="3354" rx="14" ry="8.1" transform="rotate(120 204.4 3354)" fill="#fff" stroke-width="3"/><ellipse cx="209.6" cy="3357" rx="14" ry="8.1" transform="rotate(120 209.6 3357)" fill="#fff" stroke-width="3"/><ellipse cx="214.8" cy="3360" rx="14" ry="8.1" transform="rotate(120 214.8 3360)" fill="#fff" stroke-width="3"/><ellipse cx="220" cy="3363" rx="14" ry="8.1" transform="rotate(120 220 3363)" fill="#fff" stroke-width="3"/><path d="M187 3360.1L215.6 3376.6"/><path d="M201 3335.9L229.6 3352.4"/><ellipse cx="222.6" cy="3364.5" rx="14" ry="8.1" transform="rotate(120 222.6 3364.5)" fill="#fff"/><ellipse cx="222.6" cy="3364.5" rx="6" ry="3.5" transform="rotate(120 222.6 3364.5)" stroke-width="2.6"/><ellipse cx="1031.8" cy="2549.5" rx="32" ry="18.6" transform="rotate(120 1031.8 2549.5)" fill="#fff"/><ellipse cx="1037" cy="2552.5" rx="32" ry="18.6" transform="rotate(120 1037 2552.5)" fill="#fff"/><ellipse cx="1037" cy="2552.5" rx="16" ry="9.3" transform="rotate(120 1037 2552.5)" stroke-width="3.4"/><ellipse cx="1037" cy="2552.5" rx="12" ry="7" transform="rotate(120 1037 2552.5)" stroke-width="2.8"/><path d="M1040 2563.4L1050.4 2569.4L1055.9 2554.5" stroke-width="2.8"/><path d="M1046.3 2554.7L1056.7 2560.7" stroke-width="2.8"/><ellipse cx="316.3" cy="3417" rx="32" ry="18.6" transform="rotate(120 316.3 3417)" fill="#fff"/><ellipse cx="321.5" cy="3420" rx="32" ry="18.6" transform="rotate(120 321.5 3420)" fill="#fff"/><ellipse cx="321.5" cy="3420" rx="16" ry="9.3" transform="rotate(120 321.5 3420)" stroke-width="3.4"/><ellipse cx="321.5" cy="3420" rx="12" ry="7" transform="rotate(120 321.5 3420)" stroke-width="2.8"/><path d="M324.5 3430.9L334.9 3436.9L340.4 3422" stroke-width="2.8"/><path d="M330.8 3422.2L341.2 3428.2" stroke-width="2.8"/><ellipse cx="2426.2" cy="1361.1" rx="33" ry="19.1" transform="rotate(60 2426.2 1361.1)" fill="#fff"/><ellipse cx="2421.9" cy="1363.6" rx="33" ry="19.1" transform="rotate(60 2421.9 1363.6)" fill="#fff"/><ellipse cx="2421.9" cy="1363.6" rx="15.5" ry="9" transform="rotate(60 2421.9 1363.6)" fill="#fff" stroke-width="3.4"/><path d="M2422.1 1348.3L2421.4 1348.3L2420.8 1348.4L2420.3 1348.5L2419.7 1348.7L2419.2 1349L2418.8 1349.3L2418.3 1349.7L2417.9 1350.1L2417.6 1350.6L2417.2 1351.1L2417 1351.7L2416.7 1352.3L2416.6 1353L2416.4 1353.7L2416.3 1354.4L2416.3 1355.2L2416.3 1356L2416.4 1356.8L2416.5 1357.7L2416.6 1358.6L2416.8 1359.4L2417.1 1360.3L2417.4 1361.2L2417.7 1362.1L2418.1 1363L2418.5 1363.9L2419 1364.7L2419.4 1365.6L2420 1366.4L2420.5 1367.2L2421.1 1368L2421.7 1368.7L2422.3 1369.4L2423 1370.1L2423.6 1370.7L2424.3 1371.2L2425 1371.8L2425.7 1372.2L2426.4 1372.6L2427.1 1373L2427.8 1373.3L2428.4 1373.5L2429.1 1373.7L2429.8 1373.8L2430.4 1373.9" stroke-width="2.6"/><ellipse cx="2495" cy="1321" rx="29" ry="16.8" transform="rotate(60 2495 1321)" fill="#fff"/><ellipse cx="2490.7" cy="1323.5" rx="29" ry="16.8" transform="rotate(60 2490.7 1323.5)" fill="#fff"/><ellipse cx="2490.7" cy="1323.5" rx="17" ry="9.9" transform="rotate(60 2490.7 1323.5)" fill="#fff" stroke-width="3.4"/><path d="M2490.4 1306.8L2489.7 1306.9L2489.1 1306.9L2488.4 1307.1L2487.8 1307.3L2487.3 1307.6L2486.8 1307.9L2486.3 1308.3L2485.8 1308.8L2485.4 1309.3L2485.1 1309.9L2484.8 1310.6L2484.5 1311.3L2484.3 1312L2484.2 1312.8L2484.1 1313.6L2484 1314.5L2484.1 1315.4L2484.1 1316.3L2484.2 1317.2L2484.4 1318.2L2484.6 1319.2L2484.9 1320.1L2485.2 1321.1L2485.6 1322.1L2486 1323.1L2486.5 1324.1L2487 1325L2487.5 1326L2488.1 1326.9L2488.7 1327.8L2489.4 1328.6L2490 1329.4L2490.7 1330.2L2491.4 1330.9L2492.2 1331.6L2492.9 1332.2L2493.7 1332.8L2494.4 1333.3L2495.2 1333.8L2496 1334.2L2496.7 1334.5L2497.5 1334.8L2498.2 1335L2498.9 1335.1L2499.6 1335.2" stroke-width="2.6"/><path d="M2487.6 1335.1L2487.1 1344.8" stroke-width="2.6"/><path d="M2591.7 1292.6L2586.8 1268.5L2568.3 1252.1L2554.8 1260L2559.7 1284.1L2578.1 1300.5Z" fill="#fff"/><path d="M2577 1301.1L2591.7 1292.6"/><path d="M2572.1 1277L2586.8 1268.5"/><path d="M2553.6 1260.6L2568.3 1252.1"/><path d="M2563.4 1309L2578.1 1300.5"/><g stroke="none"><path d="M2563.4 1309L2577 1301.1L2572.1 1277L2553.6 1260.6L2568.3 1252.1L2586.8 1268.5L2591.7 1292.6L2578.1 1300.5Z" fill="#fff"/></g><path d="M2577 1301.1L2591.7 1292.6"/><path d="M2572.1 1277L2586.8 1268.5"/><path d="M2553.6 1260.6L2568.3 1252.1"/><path d="M2563.4 1309L2578.1 1300.5"/><path d="M2578.1 1300.5L2591.7 1292.6L2586.8 1268.5L2568.3 1252.1"/><path d="M2577 1301.1L2572.1 1277L2553.6 1260.6L2540 1268.5L2544.9 1292.6L2563.4 1309Z" fill="#fff"/><ellipse cx="2558.5" cy="1284.8" rx="21.6" ry="12.5" transform="rotate(60 2558.5 1284.8)" stroke-width="2.6"/><ellipse cx="2558.5" cy="1284.8" rx="14" ry="8.1" transform="rotate(60 2558.5 1284.8)" stroke-width="2.6"/><ellipse cx="2558.5" cy="1284.8" rx="11" ry="6.4" transform="rotate(60 2558.5 1284.8)" stroke-width="3.2"/><ellipse cx="2633.4" cy="1240.4" rx="33" ry="19.1" transform="rotate(60 2633.4 1240.4)" fill="#fff"/><ellipse cx="2629.1" cy="1242.9" rx="33" ry="19.1" transform="rotate(60 2629.1 1242.9)" fill="#fff"/><ellipse cx="2629.1" cy="1242.9" rx="15.5" ry="9" transform="rotate(60 2629.1 1242.9)" fill="#fff" stroke-width="3.4"/><path d="M2629.3 1227.6L2628.6 1227.6L2628 1227.7L2627.5 1227.8L2626.9 1228L2626.4 1228.3L2626 1228.6L2625.5 1229L2625.1 1229.4L2624.8 1229.9L2624.4 1230.4L2624.2 1231L2623.9 1231.6L2623.8 1232.3L2623.6 1233L2623.5 1233.7L2623.5 1234.5L2623.5 1235.3L2623.6 1236.1L2623.7 1237L2623.8 1237.9L2624 1238.7L2624.3 1239.6L2624.6 1240.5L2624.9 1241.4L2625.3 1242.3L2625.7 1243.2L2626.2 1244L2626.6 1244.9L2627.2 1245.7L2627.7 1246.5L2628.3 1247.3L2628.9 1248L2629.5 1248.7L2630.2 1249.4L2630.8 1250L2631.5 1250.5L2632.2 1251.1L2632.9 1251.5L2633.6 1251.9L2634.3 1252.3L2635 1252.6L2635.6 1252.8L2636.3 1253L2637 1253.1L2637.6 1253.2" stroke-width="2.6"/><ellipse cx="2869.4" cy="1104.9" rx="29" ry="16.8" transform="rotate(60 2869.4 1104.9)" fill="#fff"/><ellipse cx="2865.1" cy="1107.4" rx="29" ry="16.8" transform="rotate(60 2865.1 1107.4)" fill="#fff"/><ellipse cx="2865.1" cy="1107.4" rx="17" ry="9.9" transform="rotate(60 2865.1 1107.4)" fill="#fff" stroke-width="3.4"/><path d="M2864.8 1090.7L2864.1 1090.8L2863.5 1090.8L2862.8 1091L2862.2 1091.2L2861.7 1091.5L2861.2 1091.8L2860.7 1092.2L2860.2 1092.7L2859.8 1093.2L2859.5 1093.8L2859.2 1094.5L2858.9 1095.2L2858.7 1095.9L2858.6 1096.7L2858.5 1097.5L2858.4 1098.4L2858.5 1099.3L2858.5 1100.2L2858.6 1101.1L2858.8 1102.1L2859 1103.1L2859.3 1104L2859.6 1105L2860 1106L2860.4 1107L2860.9 1108L2861.4 1108.9L2861.9 1109.9L2862.5 1110.8L2863.1 1111.7L2863.8 1112.5L2864.4 1113.3L2865.1 1114.1L2865.8 1114.8L2866.6 1115.5L2867.3 1116.1L2868.1 1116.7L2868.8 1117.2L2869.6 1117.7L2870.4 1118.1L2871.1 1118.4L2871.9 1118.7L2872.6 1118.9L2873.3 1119L2874 1119.1" stroke-width="2.6"/><path d="M2862 1119L2861.5 1128.7" stroke-width="2.6"/><path d="M2964.3 1076.1L2959.4 1052L2940.9 1035.6L2927.4 1043.5L2932.3 1067.6L2950.7 1084Z" fill="#fff"/><path d="M2949.6 1084.6L2964.3 1076.1"/><path d="M2944.7 1060.5L2959.4 1052"/><path d="M2926.2 1044.1L2940.9 1035.6"/><path d="M2936 1092.5L2950.7 1084"/><g stroke="none"><path d="M2936 1092.5L2949.6 1084.6L2944.7 1060.5L2926.2 1044.1L2940.9 1035.6L2959.4 1052L2964.3 1076.1L2950.7 1084Z" fill="#fff"/></g><path d="M2949.6 1084.6L2964.3 1076.1"/><path d="M2944.7 1060.5L2959.4 1052"/><path d="M2926.2 1044.1L2940.9 1035.6"/><path d="M2936 1092.5L2950.7 1084"/><path d="M2950.7 1084L2964.3 1076.1L2959.4 1052L2940.9 1035.6"/><path d="M2949.6 1084.6L2944.7 1060.5L2926.2 1044.1L2912.6 1052L2917.5 1076.1L2936 1092.5Z" fill="#fff"/><ellipse cx="2931.1" cy="1068.3" rx="21.6" ry="12.5" transform="rotate(60 2931.1 1068.3)" stroke-width="2.6"/><ellipse cx="2931.1" cy="1068.3" rx="14" ry="8.1" transform="rotate(60 2931.1 1068.3)" stroke-width="2.6"/><ellipse cx="2931.1" cy="1068.3" rx="11" ry="6.4" transform="rotate(60 2931.1 1068.3)" stroke-width="3.2"/><ellipse cx="1545.8" cy="1964.5" rx="76" ry="44.1" transform="rotate(60 1545.8 1964.5)" fill="#fff"/><ellipse cx="1545.8" cy="1964.5" rx="65" ry="37.7" transform="rotate(60 1545.8 1964.5)"/><path d="M2038.5 961.7L2070.5 1082L2072.6 1083.6L2085.4 1083.1L2092.8 1081L2099.2 1074.6L2067.3 954.3Z" fill="#fff"/><path d="M2046 982C2048.1 982.3 2054.5 984.9 2058.8 984.1C2063 983.3 2069.4 978.3 2071.5 977.2"/><path d="M2050.8 1002.2C2053 1002.4 2059.8 1004.1 2064.1 1003.3C2068.4 1002.5 2074.3 998.4 2076.3 997.4"/><path d="M2056.1 1022.4C2058.3 1022.6 2065.2 1024.4 2069.4 1023.5C2073.6 1022.6 2079.2 1018.2 2081.1 1017.1"/><path d="M2062 1042.6C2064.1 1042.8 2070.7 1044.8 2074.7 1043.7C2078.8 1042.6 2084.5 1037.5 2086.5 1036.3"/><path d="M2066.8 1062.9C2068.8 1062.9 2074.8 1063.9 2079 1062.9C2083.2 1061.8 2089.6 1057.5 2091.8 1056.5"/><path d="M2040.7 963.9C2042.8 964 2049.4 965.6 2053.5 964.9C2057.5 964.2 2063.2 960.5 2065.2 959.6"/><ellipse cx="2050.5" cy="951.1" rx="27.1" ry="10.6" transform="rotate(-14 2050.5 951.1)" fill="#fff"/><ellipse cx="2050.5" cy="948.1" rx="27.1" ry="10.6" transform="rotate(-14 2050.5 948.1)" fill="#fff"/><ellipse cx="2049.7" cy="946.8" rx="24" ry="8.5" transform="rotate(-14 2049.7 946.8)" stroke-width="2.6"/><path d="M2027.4 950L2026.8 932.5L2031.1 924.7L2055.8 917.4L2067.5 921.6L2070 935.1L2059.3 944.7L2039.6 952.2Z" fill="#fff"/><path d="M2026.8 932.5L2037.5 935.7L2056.4 931.1L2067.5 921.6"/><path d="M2037.5 935.7L2039.6 952.2"/><path d="M2056.4 931.1L2059.3 944.7"/></g>
<g id="p_motor"><ellipse cx="2159.3" cy="1514.1" rx="14" ry="8.5" transform="rotate(61.5 2159.3 1514.1)" fill="#fff"/><g stroke="none"><path d="M2089.3 1536.2L2088.8 1536.5L2088.3 1536.9L2087.9 1537.3L2087.5 1537.8L2087.2 1538.3L2086.8 1538.9L2086.6 1539.5L2086.4 1540.2L2086.2 1540.9L2086.1 1541.7L2086 1542.5L2086 1543.3L2086 1544.1L2086 1545L2086.2 1545.9L2086.3 1546.8L2086.5 1547.7L2086.8 1548.6L2087.1 1549.5L2087.4 1550.4L2087.8 1551.3L2088.3 1552.1L2088.7 1553L2089.2 1553.8L2089.8 1554.6L2090.3 1555.4L2090.9 1556.2L2091.5 1556.9L2092.2 1557.6L2092.8 1558.2L2093.5 1558.8L2094.2 1559.3L2094.9 1559.8L2095.6 1560.2L2096.3 1560.5L2097 1560.8L2097.7 1561.1L2098.4 1561.3L2099.1 1561.4L2099.7 1561.5L2100.4 1561.5L2101 1561.4L2101.6 1561.3L2102.1 1561.1L2102.7 1560.8L2166 1526.4L2166.5 1526.1L2166.9 1525.8L2167.4 1525.3L2167.8 1524.8L2168.1 1524.3L2168.4 1523.7L2168.7 1523.1L2168.9 1522.4L2169.1 1521.7L2169.2 1521L2169.3 1520.2L2169.3 1519.3L2169.3 1518.5L2169.2 1517.6L2169.1 1516.8L2168.9 1515.9L2168.7 1515L2168.5 1514.1L2168.2 1513.2L2167.8 1512.3L2167.4 1511.4L2167 1510.5L2166.5 1509.6L2166 1508.8L2165.5 1508L2164.9 1507.2L2164.3 1506.5L2163.7 1505.8L2163.1 1505.1L2162.4 1504.5L2161.8 1503.9L2161.1 1503.4L2160.4 1502.9L2159.7 1502.5L2159 1502.1L2158.3 1501.8L2157.6 1501.6L2156.9 1501.4L2156.2 1501.2L2155.6 1501.2L2154.9 1501.2L2154.3 1501.3L2153.7 1501.4L2153.1 1501.6L2152.6 1501.8Z" fill="#fff"/></g><path d="M2165.6 1526.6L2166.1 1526.4L2166.6 1526L2167.1 1525.6L2167.5 1525.2L2167.9 1524.7L2168.2 1524.1L2168.5 1523.5L2168.8 1522.9L2169 1522.2L2169.1 1521.4L2169.3 1520.7L2169.3 1519.9L2169.3 1519L2169.3 1518.2L2169.2 1517.3L2169.1 1516.4L2168.9 1515.5L2168.6 1514.6L2168.3 1513.7L2168 1512.7L2167.6 1511.8L2167.2 1510.9L2166.8 1510.1L2166.3 1509.2L2165.8 1508.4L2165.2 1507.6L2164.6 1506.8L2164 1506.1L2163.4 1505.4L2162.7 1504.7L2162 1504.1L2161.4 1503.6L2160.7 1503.1L2159.9 1502.6L2159.2 1502.2L2158.5 1501.9L2157.8 1501.6L2157.1 1501.4L2156.4 1501.3L2155.8 1501.2L2155.1 1501.2L2154.5 1501.2L2153.9 1501.4L2153.3 1501.5L2152.7 1501.8L2152.2 1502.1"/><path d="M2102.7 1560.8L2166 1526.4"/><path d="M2089.3 1536.2L2152.6 1501.8"/><ellipse cx="2096" cy="1548.5" rx="14" ry="8.5" transform="rotate(61.5 2096 1548.5)" fill="#fff"/><path d="M2130.3 1545.6L2130.9 1545.4L2131.4 1545.2L2131.9 1544.9L2132.4 1544.6L2132.9 1544.2L2133.3 1543.7L2133.7 1543.2L2134 1542.6L2134.3 1542L2134.5 1541.4L2134.7 1540.7L2134.9 1539.9L2135 1539.2L2135 1538.4L2135 1537.5L2135 1536.7L2134.9 1535.8L2134.8 1534.9L2134.6 1534L2134.3 1533.1L2134.1 1532.2L2133.7 1531.3L2133.4 1530.4L2133 1529.5L2132.5 1528.7L2132 1527.8L2131.5 1527L2131 1526.2L2130.4 1525.4L2129.8 1524.7L2129.1 1524L2128.5 1523.4L2127.8 1522.8L2127.1 1522.2L2126.5 1521.7L2125.8 1521.3L2125.1 1520.9L2124.4 1520.5L2123.7 1520.3L2123 1520.1L2122.3 1519.9L2121.6 1519.8L2121 1519.8L2120.3 1519.8L2119.7 1519.9L2119.1 1520.1L2118.6 1520.3L2118.1 1520.6L2117.6 1520.9L2117.1 1521.3" stroke-width="2.8"/><path d="M2139.1 1540.8L2139.6 1540.6L2140.2 1540.4L2140.7 1540.1L2141.2 1539.8L2141.7 1539.4L2142.1 1538.9L2142.5 1538.4L2142.8 1537.9L2143.1 1537.3L2143.3 1536.6L2143.5 1535.9L2143.7 1535.2L2143.8 1534.4L2143.8 1533.6L2143.8 1532.8L2143.8 1531.9L2143.7 1531L2143.6 1530.2L2143.4 1529.3L2143.1 1528.4L2142.8 1527.5L2142.5 1526.6L2142.2 1525.7L2141.7 1524.8L2141.3 1523.9L2140.8 1523.1L2140.3 1522.2L2139.7 1521.4L2139.2 1520.7L2138.6 1519.9L2137.9 1519.3L2137.3 1518.6L2136.6 1518L2135.9 1517.5L2135.2 1517L2134.5 1516.5L2133.8 1516.1L2133.1 1515.8L2132.4 1515.5L2131.8 1515.3L2131.1 1515.1L2130.4 1515L2129.8 1515L2129.1 1515.1L2128.5 1515.2L2127.9 1515.3L2127.4 1515.5L2126.9 1515.8L2126.4 1516.2L2125.9 1516.6" stroke-width="2.8"/><path d="M2147.9 1536L2148.4 1535.9L2149 1535.6L2149.5 1535.4L2150 1535L2150.5 1534.6L2150.9 1534.2L2151.2 1533.7L2151.6 1533.1L2151.9 1532.5L2152.1 1531.8L2152.3 1531.1L2152.5 1530.4L2152.6 1529.6L2152.6 1528.8L2152.6 1528L2152.6 1527.1L2152.5 1526.3L2152.3 1525.4L2152.2 1524.5L2151.9 1523.6L2151.6 1522.7L2151.3 1521.8L2150.9 1520.9L2150.5 1520L2150.1 1519.1L2149.6 1518.3L2149.1 1517.5L2148.5 1516.7L2148 1515.9L2147.3 1515.2L2146.7 1514.5L2146.1 1513.8L2145.4 1513.2L2144.7 1512.7L2144 1512.2L2143.3 1511.7L2142.6 1511.3L2141.9 1511L2141.2 1510.7L2140.5 1510.5L2139.9 1510.4L2139.2 1510.3L2138.5 1510.3L2137.9 1510.3L2137.3 1510.4L2136.7 1510.5L2136.2 1510.8L2135.6 1511.1L2135.1 1511.4L2134.7 1511.8" stroke-width="2.8"/><path d="M2156.6 1531.3L2157.2 1531.1L2157.8 1530.9L2158.3 1530.6L2158.8 1530.2L2159.2 1529.8L2159.7 1529.4L2160 1528.9L2160.4 1528.3L2160.7 1527.7L2160.9 1527.1L2161.1 1526.4L2161.3 1525.6L2161.4 1524.9L2161.4 1524.1L2161.4 1523.2L2161.4 1522.4L2161.3 1521.5L2161.1 1520.6L2160.9 1519.7L2160.7 1518.8L2160.4 1517.9L2160.1 1517L2159.7 1516.1L2159.3 1515.2L2158.9 1514.4L2158.4 1513.5L2157.9 1512.7L2157.3 1511.9L2156.7 1511.1L2156.1 1510.4L2155.5 1509.7L2154.9 1509.1L2154.2 1508.5L2153.5 1507.9L2152.8 1507.4L2152.1 1507L2151.4 1506.6L2150.7 1506.2L2150 1506L2149.3 1505.7L2148.7 1505.6L2148 1505.5L2147.3 1505.5L2146.7 1505.5L2146.1 1505.6L2145.5 1505.8L2145 1506L2144.4 1506.3L2143.9 1506.6L2143.5 1507" stroke-width="2.8"/><path d="M2181.2 1626.7L2204.6 1616.1L2251.5 1607.5L2262.1 1613.9L2283.4 1701.2L2272.7 1709.7L2251.5 1718.2L2196.1 1748L2166.3 1756.6Z" fill="#fff"/><path d="M2262.1 1613.9L2196.1 1637.3L2181.2 1626.7"/><path d="M2272.7 1709.7L2267.6 1697"/><ellipse cx="2230.2" cy="1623.7" rx="21" ry="10" transform="rotate(-12 2230.2 1623.7)" stroke-width="3"/><ellipse cx="2230.2" cy="1623.7" rx="14" ry="6" transform="rotate(-12 2230.2 1623.7)" stroke-width="3.4"/><path d="M2128 1786.4C2134.4 1784.2 2156.7 1780 2166.3 1773.6C2175.9 1767.2 2182.3 1752.3 2185.5 1748"/><g stroke="none"><path d="M1731.6 1673.4L1725.9 1676.9L1720.6 1681.1L1715.8 1685.8L1711.4 1691.2L1707.4 1697.2L1704 1703.7L1701 1710.8L1698.6 1718.3L1696.6 1726.3L1695.2 1734.7L1694.4 1743.4L1694 1752.5L1694.3 1761.9L1695 1771.5L1696.4 1781.3L1698.2 1791.2L1700.6 1801.2L1703.5 1811.3L1706.8 1821.4L1710.7 1831.4L1715 1841.3L1719.8 1851.1L1725 1860.7L1730.6 1870L1736.6 1879L1742.9 1887.7L1749.5 1896L1756.3 1904L1763.5 1911.4L1770.8 1918.4L1778.3 1924.8L1785.9 1930.7L1793.7 1936L1801.5 1940.7L1809.3 1944.7L1817.1 1948.1L1824.8 1950.8L1832.5 1952.9L1840 1954.2L1847.3 1954.9L1854.5 1954.8L1861.4 1954L1868.1 1952.6L1874.4 1950.4L1880.4 1947.6L1898 1936.2L2185.5 1755.7L2196.1 1726.8L2191.8 1688.4L2170.6 1620.3L2132.2 1556.4L2081.1 1518.1L2026 1513.6Z" fill="#fff"/></g><path d="M1731.6 1673.4L2026 1513.6"/><path d="M2026 1513.6C2035.2 1514.3 2063.4 1511 2081.1 1518.1C2098.8 1525.3 2117.3 1539.4 2132.2 1556.4C2147.1 1573.5 2160.6 1598.3 2170.6 1620.3C2180.5 1642.3 2187.6 1670.7 2191.8 1688.4C2196.1 1706.2 2195.4 1720.4 2196.1 1726.8"/><path d="M1898 1936.2L2185.5 1755.7"/><path d="M2115.5 1807L2118.8 1800.2L2121.5 1792.8L2123.7 1784.9L2125.4 1776.6L2126.5 1767.9L2127 1758.8L2127 1749.5L2126.5 1739.8L2125.4 1730L2123.7 1720L2121.5 1709.8L2118.8 1699.6L2115.5 1689.4L2111.8 1679.3L2107.5 1669.2L2102.8 1659.3L2097.7 1649.5L2092.1 1640L2086.2 1630.8L2079.9 1621.9L2073.3 1613.3L2066.4 1605.2L2059.2 1597.6L2051.8 1590.4L2044.3 1583.8L2036.6 1577.7L2028.8 1572.3L2020.9 1567.4L2013 1563.2L2005.1 1559.7L1997.2 1556.9L1989.5 1554.7L1981.8 1553.3L1974.4 1552.6L1967.1 1552.6L1960.1 1553.3L1953.3 1554.8L1946.9 1556.9L1940.8 1559.8L1935.1 1563.3" stroke-width="3"/><path d="M2119.9 1804.7L2123.2 1797.8L2125.9 1790.4L2128.1 1782.5L2129.8 1774.2L2130.9 1765.5L2131.4 1756.4L2131.4 1747.1L2130.9 1737.4L2129.8 1727.6L2128.1 1717.6L2125.9 1707.5L2123.2 1697.3L2119.9 1687.1L2116.1 1676.9L2111.9 1666.8L2107.2 1656.9L2102.1 1647.1L2096.5 1637.6L2090.6 1628.4L2084.3 1619.5L2077.7 1610.9L2070.8 1602.8L2063.6 1595.2L2056.2 1588L2048.7 1581.4L2041 1575.4L2033.2 1569.9L2025.3 1565.1L2017.4 1560.9L2009.5 1557.3L2001.6 1554.5L1993.8 1552.4L1986.2 1550.9L1978.8 1550.2L1971.5 1550.2L1964.5 1551L1957.7 1552.4L1951.3 1554.6L1945.2 1557.4L1939.5 1561" stroke-width="2.8"/><path d="M2144.2 1786.4L2147 1779L2149.2 1771.2L2150.8 1762.9L2152 1754.1L2152.5 1745.1L2152.5 1735.7L2152 1726.1L2150.9 1716.2L2149.2 1706.2L2147 1696.1L2144.3 1685.9L2141 1675.7L2137.3 1665.5L2133 1655.4L2128.3 1645.5L2123.2 1635.7L2117.6 1626.2L2111.7 1617L2105.4 1608.1L2098.8 1599.5L2091.9 1591.4L2084.7 1583.8L2077.4 1576.6L2069.8 1570L2062.1 1563.9L2054.3 1558.5L2046.4 1553.6L2038.5 1549.4L2030.6 1545.9L2022.7 1543.1L2015 1540.9L2007.3 1539.5L1999.9 1538.8L1992.6 1538.8L1985.6 1539.5L1978.8 1540.9L1972.4 1543.1L1966.3 1546L1960.6 1549.5" stroke-width="3"/><path d="M2025.8 1513.9C2037.1 1518.1 2073.3 1524.5 2093.9 1539.4C2114.5 1554.3 2134.4 1581.3 2149.3 1603.3C2164.2 1625.3 2175.9 1650.8 2183.3 1671.4C2190.8 1692 2192.2 1717.5 2194 1726.8" stroke-width="2.8"/><path d="M2034.3 1605.4L2049.2 1599" stroke-width="5"/><path d="M2004.5 1623.7L2016.4 1618.6" stroke-width="6"/><path d="M1871.7 1701.2L1881 1697" stroke-width="6"/><path d="M2093.9 1608.4C2096 1608.8 2102.8 1612.5 2106.7 1610.9C2110.6 1609.4 2116.6 1601.4 2117.3 1599C2118 1596.7 2112 1597.3 2110.9 1596.9" stroke-width="2.8"/><ellipse cx="1806" cy="1810.5" rx="156" ry="95.2" transform="rotate(61.5 1806 1810.5)" fill="#fff"/><path d="M1773.7 1914L1781 1920.2L1788.5 1926L1796 1931.1L1803.6 1935.7L1811.3 1939.6L1818.9 1942.9L1826.5 1945.5L1833.9 1947.5L1841.3 1948.7L1848.5 1949.3L1855.4 1949.2L1862.2 1948.4L1868.6 1946.8L1874.8 1944.7L1880.6 1941.8L1886.1 1938.3L1891.2 1934.1L1895.8 1929.3L1900.1 1924L1903.8 1918L1907.1 1911.6L1909.9 1904.6L1912.2 1897.1L1914 1889.2L1915.2 1880.9L1915.9 1872.3L1916.1 1863.3L1915.8 1854.1L1914.9 1844.7L1913.4 1835.1L1911.5 1825.3L1909 1815.5L1906 1805.7L1902.6 1795.8L1898.6 1786.1L1894.2 1776.4L1889.4 1766.9L1884.2 1757.7L1878.6 1748.6L1872.7 1739.9L1866.4 1731.6L1859.8 1723.6L1853 1716L1845.9 1709L1838.7 1702.4L1831.3 1696.3L1823.8 1690.8L1816.2 1685.9L1808.6 1681.6L1801 1678L1793.4 1675L1785.8 1672.6" stroke-width="2.8"/><path d="M1738.7 1702.3C1740.7 1701.4 1747.4 1696.2 1750.7 1697.3C1754.1 1698.3 1755.8 1699.4 1758.8 1708.3C1761.8 1717.2 1760.1 1740.1 1768.8 1750.5C1777.6 1760.9 1799.7 1766.6 1811.1 1770.6C1822.5 1774.7 1834.5 1772 1837.2 1774.7C1839.9 1777.3 1832.8 1786.1 1827.2 1786.7C1821.5 1787.4 1812.4 1783.2 1803 1778.7C1793.6 1774.2 1779.6 1762.3 1770.9 1759.6C1762.1 1756.9 1757.4 1760.1 1750.7 1762.6C1744 1765.1 1735.3 1772 1730.6 1774.7C1725.9 1777.3 1723.9 1778 1722.6 1778.7" stroke-width="3"/><path d="M1738.7 1702.3C1738.2 1703.6 1734 1702.3 1735.7 1710.3C1737.3 1718.4 1748.2 1743.2 1748.7 1750.5C1749.2 1757.9 1742 1751.9 1738.7 1754.6C1735.3 1757.2 1731.1 1763.1 1728.6 1766.6C1726.1 1770.1 1724.4 1774.2 1723.6 1775.7" stroke-width="3"/><path d="M1786.9 1684.2C1785.3 1686.2 1778.9 1688.5 1776.9 1696.2C1774.9 1704 1773.2 1720.7 1774.9 1730.4C1776.5 1740.1 1778.9 1747.9 1786.9 1754.6C1795 1761.3 1814.8 1767.3 1823.1 1770.6C1831.5 1774 1834.9 1774 1837.2 1774.7" stroke-width="3"/><path d="M1786.9 1684.2L1803 1734.4" stroke-width="2.8"/><path d="M1786.9 1684.2L1831.2 1710.3L1871.4 1760.6L1847.3 1764.6L1837.2 1774.7" stroke-width="2.8"/><ellipse cx="1826.1" cy="1736.7" rx="30" ry="18.3" transform="rotate(61.5 1826.1 1736.7)" fill="#fff" stroke-width="3"/><ellipse cx="1822.6" cy="1738.6" rx="20" ry="12.2" transform="rotate(61.5 1822.6 1738.6)" fill="#fff" stroke-width="3"/><g stroke="none"><path d="M1797.3 1729.6L1796.5 1730L1795.9 1730.6L1795.2 1731.2L1794.7 1731.9L1794.2 1732.6L1793.7 1733.5L1793.3 1734.4L1793 1735.3L1792.8 1736.4L1792.6 1737.4L1792.5 1738.6L1792.5 1739.7L1792.5 1740.9L1792.6 1742.2L1792.7 1743.4L1793 1744.7L1793.3 1746L1793.7 1747.3L1794.1 1748.6L1794.6 1749.8L1795.1 1751.1L1795.8 1752.4L1796.4 1753.6L1797.1 1754.8L1797.9 1755.9L1798.7 1757.1L1799.6 1758.1L1800.4 1759.1L1801.4 1760.1L1802.3 1761L1803.3 1761.8L1804.2 1762.6L1805.2 1763.2L1806.2 1763.8L1807.2 1764.4L1808.2 1764.8L1809.2 1765.2L1810.2 1765.4L1811.2 1765.6L1812.1 1765.7L1813 1765.7L1813.9 1765.6L1814.8 1765.4L1815.6 1765.1L1816.3 1764.7L1832.2 1756.1L1832.9 1755.7L1833.6 1755.2L1834.2 1754.6L1834.8 1753.9L1835.3 1753.1L1835.7 1752.3L1836.1 1751.4L1836.4 1750.4L1836.6 1749.4L1836.8 1748.3L1836.9 1747.2L1837 1746L1836.9 1744.8L1836.8 1743.6L1836.7 1742.3L1836.4 1741L1836.1 1739.8L1835.8 1738.5L1835.3 1737.2L1834.8 1735.9L1834.3 1734.6L1833.7 1733.4L1833 1732.1L1832.3 1730.9L1831.5 1729.8L1830.7 1728.7L1829.9 1727.6L1829 1726.6L1828.1 1725.6L1827.1 1724.7L1826.2 1723.9L1825.2 1723.2L1824.2 1722.5L1823.2 1721.9L1822.2 1721.4L1821.2 1720.9L1820.2 1720.6L1819.2 1720.3L1818.3 1720.1L1817.3 1720.1L1816.4 1720.1L1815.5 1720.2L1814.7 1720.4L1813.9 1720.6L1813.1 1721Z" fill="#fff"/></g><path d="M1831.6 1756.4L1832.4 1756L1833.1 1755.6L1833.7 1755L1834.4 1754.4L1834.9 1753.6L1835.4 1752.8L1835.8 1752L1836.2 1751L1836.5 1750L1836.7 1749L1836.9 1747.9L1837 1746.7L1837 1745.5L1836.9 1744.3L1836.8 1743.1L1836.6 1741.8L1836.3 1740.5L1836 1739.2L1835.6 1737.9L1835.1 1736.6L1834.6 1735.3L1834 1734L1833.3 1732.7L1832.6 1731.5L1831.9 1730.3L1831.1 1729.2L1830.3 1728.1L1829.4 1727L1828.5 1726L1827.5 1725.1L1826.6 1724.2L1825.6 1723.5L1824.6 1722.7L1823.6 1722.1L1822.6 1721.5L1821.6 1721.1L1820.6 1720.7L1819.6 1720.4L1818.6 1720.2L1817.6 1720.1L1816.7 1720.1L1815.8 1720.1L1814.9 1720.3L1814.1 1720.5L1813.3 1720.9L1812.5 1721.3" stroke-width="3"/><path d="M1816.3 1764.7L1832.2 1756.1" stroke-width="3"/><path d="M1797.3 1729.6L1813.1 1721" stroke-width="3"/><ellipse cx="1806.8" cy="1747.2" rx="20" ry="12.2" transform="rotate(61.5 1806.8 1747.2)" fill="#fff" stroke-width="3"/><path d="M1819.7 1758.9L1817 1741.6L1804 1729.9L1793.9 1735.5L1796.6 1752.7L1809.6 1764.4Z" stroke-width="2.8"/><ellipse cx="1800.7" cy="1813.4" rx="83" ry="50.6" transform="rotate(61.5 1800.7 1813.4)" fill="#fff"/><g stroke="none"><path d="M1741.8 1750.9L1738.8 1752.8L1736 1755L1733.4 1757.5L1731.1 1760.4L1729 1763.6L1727.1 1767.1L1725.5 1770.8L1724.2 1774.8L1723.2 1779L1722.5 1783.5L1722 1788.2L1721.8 1793L1721.9 1798L1722.4 1803.1L1723.1 1808.3L1724 1813.6L1725.3 1818.9L1726.8 1824.3L1728.6 1829.7L1730.7 1835L1733 1840.3L1735.5 1845.5L1738.3 1850.5L1741.3 1855.5L1744.5 1860.3L1747.8 1864.9L1751.3 1869.4L1755 1873.6L1758.8 1877.5L1762.7 1881.3L1766.7 1884.7L1770.7 1887.8L1774.8 1890.6L1779 1893.1L1783.1 1895.3L1787.3 1897.1L1791.4 1898.5L1795.5 1899.6L1799.5 1900.3L1803.4 1900.7L1807.2 1900.6L1810.9 1900.2L1814.4 1899.5L1817.8 1898.3L1821 1896.8L1840.3 1886.3L1843.3 1884.4L1846.1 1882.2L1848.7 1879.7L1851.1 1876.8L1853.2 1873.6L1855 1870.2L1856.6 1866.4L1857.9 1862.4L1858.9 1858.2L1859.7 1853.7L1860.1 1849.1L1860.3 1844.2L1860.2 1839.2L1859.8 1834.1L1859.1 1828.9L1858.1 1823.6L1856.8 1818.3L1855.3 1812.9L1853.5 1807.6L1851.4 1802.2L1849.1 1797L1846.6 1791.8L1843.8 1786.7L1840.8 1781.7L1837.7 1776.9L1834.3 1772.3L1830.8 1767.8L1827.1 1763.6L1823.4 1759.7L1819.5 1756L1815.5 1752.5L1811.4 1749.4L1807.3 1746.6L1803.1 1744.1L1799 1742L1794.8 1740.2L1790.7 1738.7L1786.6 1737.6L1782.6 1736.9L1778.7 1736.6L1774.9 1736.6L1771.2 1737L1767.7 1737.8L1764.3 1738.9L1761.1 1740.4Z" fill="#fff"/></g><path d="M1837.9 1887.5L1841.1 1885.9L1844.1 1883.9L1846.9 1881.5L1849.4 1878.9L1851.7 1875.9L1853.8 1872.6L1855.5 1869L1857.1 1865.1L1858.3 1861L1859.2 1856.6L1859.9 1852L1860.2 1847.2L1860.3 1842.3L1860 1837.2L1859.5 1832L1858.7 1826.7L1857.6 1821.3L1856.2 1815.9L1854.5 1810.5L1852.6 1805.1L1850.4 1799.7L1847.9 1794.4L1845.2 1789.2L1842.3 1784.1L1839.2 1779.2L1835.9 1774.4L1832.4 1769.8L1828.8 1765.5L1825 1761.4L1821.1 1757.5L1817.1 1753.9L1813 1750.6L1808.9 1747.7L1804.7 1745L1800.5 1742.7L1796.3 1740.8L1792.1 1739.2L1788 1737.9L1783.9 1737.1L1780 1736.6L1776.1 1736.5L1772.3 1736.8L1768.7 1737.5L1765.2 1738.6L1761.9 1740L1758.8 1741.8"/><path d="M1821 1896.8L1840.3 1886.3"/><path d="M1741.8 1750.9L1761.1 1740.4"/><ellipse cx="1781.4" cy="1823.9" rx="83" ry="50.6" transform="rotate(61.5 1781.4 1823.9)" fill="#fff"/><ellipse cx="1781.4" cy="1823.9" rx="75" ry="45.8" transform="rotate(61.5 1781.4 1823.9)" fill="#fff"/><g stroke="none"><path d="M1733.3 1764.6L1730.6 1766.3L1728.1 1768.3L1725.7 1770.6L1723.6 1773.2L1721.7 1776.1L1720 1779.2L1718.6 1782.6L1717.4 1786.2L1716.5 1790L1715.8 1794.1L1715.4 1798.3L1715.3 1802.7L1715.4 1807.2L1715.7 1811.8L1716.4 1816.5L1717.3 1821.3L1718.4 1826.1L1719.8 1830.9L1721.4 1835.8L1723.3 1840.6L1725.4 1845.4L1727.7 1850.1L1730.2 1854.7L1732.8 1859.1L1735.7 1863.5L1738.7 1867.7L1741.9 1871.7L1745.2 1875.5L1748.6 1879.1L1752.2 1882.4L1755.8 1885.5L1759.4 1888.3L1763.2 1890.9L1766.9 1893.1L1770.7 1895.1L1774.4 1896.7L1778.1 1898L1781.8 1899L1785.4 1899.6L1789 1899.9L1792.4 1899.9L1795.7 1899.6L1798.9 1898.8L1802 1897.8L1804.9 1896.5L1817.2 1889.8L1819.9 1888.1L1822.4 1886.1L1824.8 1883.8L1826.9 1881.2L1828.8 1878.3L1830.4 1875.2L1831.9 1871.8L1833 1868.2L1834 1864.4L1834.7 1860.3L1835.1 1856.1L1835.2 1851.7L1835.1 1847.2L1834.7 1842.6L1834.1 1837.9L1833.2 1833.1L1832.1 1828.3L1830.7 1823.5L1829.1 1818.6L1827.2 1813.8L1825.1 1809L1822.8 1804.3L1820.3 1799.7L1817.6 1795.3L1814.8 1790.9L1811.7 1786.7L1808.6 1782.7L1805.3 1778.9L1801.8 1775.3L1798.3 1772L1794.7 1768.9L1791 1766.1L1787.3 1763.5L1783.6 1761.3L1779.8 1759.3L1776.1 1757.7L1772.3 1756.4L1768.7 1755.4L1765.1 1754.8L1761.5 1754.5L1758.1 1754.5L1754.7 1754.9L1751.6 1755.6L1748.5 1756.6L1745.6 1757.9Z" fill="#fff"/></g><path d="M1815 1890.8L1817.9 1889.4L1820.6 1887.6L1823.1 1885.5L1825.4 1883.1L1827.5 1880.4L1829.3 1877.4L1830.9 1874.1L1832.3 1870.6L1833.4 1866.9L1834.2 1862.9L1834.8 1858.8L1835.2 1854.5L1835.2 1850L1835 1845.4L1834.5 1840.7L1833.8 1835.9L1832.8 1831L1831.5 1826.2L1830 1821.3L1828.2 1816.4L1826.2 1811.5L1824 1806.7L1821.6 1802L1819 1797.4L1816.2 1793L1813.2 1788.7L1810 1784.5L1806.8 1780.6L1803.3 1776.9L1799.8 1773.4L1796.2 1770.2L1792.5 1767.2L1788.8 1764.5L1785 1762.1L1781.2 1760L1777.4 1758.3L1773.6 1756.8L1769.9 1755.7L1766.2 1754.9L1762.6 1754.5L1759.1 1754.4L1755.7 1754.7L1752.4 1755.3L1749.3 1756.3L1746.3 1757.6L1743.6 1759.2"/><path d="M1804.9 1896.5L1817.2 1889.8"/><path d="M1733.3 1764.6L1745.6 1757.9"/><ellipse cx="1769.1" cy="1830.5" rx="75" ry="45.8" transform="rotate(61.5 1769.1 1830.5)" fill="#fff"/><path d="M1793.4 1894.3L1796.7 1894.3L1799.9 1893.9L1803 1893.3L1805.9 1892.3L1808.7 1891L1811.3 1889.3L1813.8 1887.4L1816 1885.2L1818 1882.7L1819.8 1880L1821.4 1877L1822.8 1873.7L1824 1870.2L1824.8 1866.6L1825.5 1862.7L1825.9 1858.6L1826 1854.4L1825.9 1850.1L1825.6 1845.7L1825 1841.2L1824.1 1836.6L1823 1832L1821.7 1827.3L1820.1 1822.7L1818.3 1818L1816.3 1813.4L1814.1 1808.9L1811.7 1804.5L1809.2 1800.2L1806.4 1796.1L1803.5 1792L1800.5 1788.2L1797.3 1784.5L1794 1781.1L1790.6 1777.9L1787.2 1774.9L1783.6 1772.2L1780.1 1769.8L1776.5 1767.6L1772.9 1765.7L1769.3 1764.2L1765.7 1762.9L1762.1 1762L1758.7 1761.3L1755.3 1761.1L1752 1761.1L1748.8 1761.4L1745.7 1762.1L1742.8 1763.1L1740 1764.4L1737.4 1766L1735 1767.9L1732.7 1770.1L1730.7 1772.6L1728.9 1775.4" stroke-width="2.8"/><ellipse cx="1769.1" cy="1830.5" rx="68" ry="41.5" transform="rotate(61.5 1769.1 1830.5)" fill="#fff"/><g stroke="none"><path d="M1722.6 1778.4L1720.1 1779.9L1717.8 1781.8L1715.7 1783.8L1713.8 1786.2L1712.1 1788.8L1710.6 1791.6L1709.3 1794.7L1708.2 1798L1707.4 1801.5L1706.7 1805.1L1706.4 1808.9L1706.2 1812.9L1706.3 1817L1706.7 1821.2L1707.2 1825.4L1708 1829.8L1709.1 1834.1L1710.3 1838.5L1711.8 1842.9L1713.5 1847.3L1715.4 1851.6L1717.5 1855.9L1719.7 1860L1722.2 1864.1L1724.8 1868L1727.5 1871.8L1730.4 1875.5L1733.4 1878.9L1736.5 1882.2L1739.7 1885.2L1743 1888L1746.3 1890.6L1749.6 1892.9L1753 1894.9L1756.5 1896.7L1759.9 1898.2L1763.2 1899.3L1766.6 1900.2L1769.8 1900.8L1773.1 1901.1L1776.2 1901.1L1779.2 1900.7L1782.1 1900.1L1784.9 1899.2L1787.5 1897.9L1801.5 1890.3L1804 1888.8L1806.3 1887L1808.4 1884.9L1810.3 1882.5L1812 1879.9L1813.6 1877.1L1814.9 1874L1815.9 1870.7L1816.8 1867.3L1817.4 1863.6L1817.8 1859.8L1817.9 1855.8L1817.8 1851.7L1817.5 1847.5L1816.9 1843.3L1816.1 1838.9L1815 1834.6L1813.8 1830.2L1812.3 1825.8L1810.6 1821.4L1808.7 1817.1L1806.7 1812.8L1804.4 1808.7L1802 1804.6L1799.4 1800.7L1796.6 1796.9L1793.7 1793.3L1790.7 1789.8L1787.6 1786.6L1784.4 1783.5L1781.2 1780.7L1777.8 1778.2L1774.5 1775.8L1771.1 1773.8L1767.7 1772L1764.3 1770.6L1760.9 1769.4L1757.6 1768.5L1754.3 1767.9L1751.1 1767.6L1747.9 1767.6L1744.9 1768L1742 1768.6L1739.3 1769.5L1736.6 1770.8Z" fill="#fff"/></g><path d="M1799.6 1891.3L1802.2 1889.9L1804.6 1888.3L1806.9 1886.4L1809 1884.2L1810.9 1881.8L1812.5 1879.1L1814 1876.1L1815.2 1872.9L1816.2 1869.5L1817 1866L1817.5 1862.2L1817.8 1858.3L1817.9 1854.2L1817.7 1850.1L1817.2 1845.8L1816.6 1841.4L1815.7 1837.1L1814.5 1832.6L1813.1 1828.2L1811.5 1823.7L1809.7 1819.4L1807.7 1815L1805.5 1810.7L1803.2 1806.6L1800.6 1802.5L1797.9 1798.6L1795.1 1794.9L1792.1 1791.3L1789 1787.9L1785.8 1784.8L1782.5 1781.8L1779.2 1779.2L1775.8 1776.7L1772.4 1774.5L1768.9 1772.7L1765.5 1771.1L1762.1 1769.8L1758.7 1768.8L1755.3 1768.1L1752.1 1767.7L1748.9 1767.6L1745.8 1767.8L1742.8 1768.4L1740 1769.3L1737.3 1770.4L1734.8 1771.9"/><path d="M1787.5 1897.9L1801.5 1890.3"/><path d="M1722.6 1778.4L1736.6 1770.8"/><ellipse cx="1755" cy="1838.2" rx="68" ry="41.5" transform="rotate(61.5 1755 1838.2)" fill="#fff"/><ellipse cx="1755" cy="1838.2" rx="61" ry="37.2" transform="rotate(61.5 1755 1838.2)" fill="#fff"/><g stroke="none"><path d="M1694.3 1801.7L1692.1 1803.1L1690 1804.7L1688.1 1806.6L1686.4 1808.7L1684.9 1811.1L1683.5 1813.6L1682.3 1816.4L1681.4 1819.3L1680.6 1822.4L1680.1 1825.7L1679.7 1829.1L1679.6 1832.7L1679.7 1836.3L1680 1840.1L1680.5 1843.9L1681.2 1847.8L1682.2 1851.7L1683.3 1855.7L1684.6 1859.6L1686.1 1863.5L1687.8 1867.4L1689.7 1871.2L1691.7 1875L1693.9 1878.6L1696.2 1882.1L1698.7 1885.5L1701.3 1888.8L1704 1891.9L1706.8 1894.8L1709.6 1897.5L1712.6 1900L1715.5 1902.3L1718.6 1904.4L1721.6 1906.2L1724.7 1907.8L1727.7 1909.2L1730.7 1910.2L1733.7 1911L1736.7 1911.5L1739.6 1911.8L1742.4 1911.8L1745.1 1911.5L1747.7 1910.9L1750.1 1910.1L1752.5 1909L1784.1 1891.8L1786.3 1890.4L1788.4 1888.8L1790.3 1886.9L1792 1884.8L1793.6 1882.5L1794.9 1879.9L1796.1 1877.2L1797 1874.2L1797.8 1871.1L1798.3 1867.8L1798.7 1864.4L1798.8 1860.9L1798.7 1857.2L1798.4 1853.4L1797.9 1849.6L1797.2 1845.7L1796.3 1841.8L1795.1 1837.9L1793.8 1833.9L1792.3 1830L1790.6 1826.1L1788.7 1822.3L1786.7 1818.6L1784.5 1814.9L1782.2 1811.4L1779.7 1808L1777.1 1804.7L1774.4 1801.6L1771.7 1798.7L1768.8 1796L1765.9 1793.5L1762.9 1791.2L1759.9 1789.1L1756.8 1787.3L1753.8 1785.7L1750.7 1784.4L1747.7 1783.3L1744.7 1782.5L1741.7 1782L1738.9 1781.7L1736.1 1781.8L1733.4 1782L1730.8 1782.6L1728.3 1783.5L1725.9 1784.6Z" fill="#fff"/></g><path d="M1782.4 1892.6L1784.7 1891.5L1786.9 1890L1789 1888.3L1790.8 1886.3L1792.5 1884.1L1794 1881.7L1795.3 1879.1L1796.4 1876.2L1797.3 1873.2L1798 1869.9L1798.5 1866.6L1798.8 1863.1L1798.8 1859.4L1798.6 1855.7L1798.2 1851.9L1797.6 1848L1796.8 1844L1795.8 1840L1794.5 1836.1L1793.1 1832.1L1791.5 1828.1L1789.7 1824.2L1787.7 1820.4L1785.6 1816.7L1783.3 1813.1L1780.9 1809.6L1778.3 1806.2L1775.7 1803L1772.9 1800L1770 1797.1L1767.1 1794.5L1764.1 1792.1L1761 1789.9L1758 1787.9L1754.9 1786.3L1751.8 1784.8L1748.7 1783.6L1745.7 1782.7L1742.7 1782.1L1739.8 1781.8L1736.9 1781.7L1734.1 1781.9L1731.5 1782.4L1728.9 1783.2L1726.5 1784.3L1724.3 1785.6"/><path d="M1752.5 1909L1784.1 1891.8"/><path d="M1694.3 1801.7L1725.9 1784.6"/><ellipse cx="1723.4" cy="1855.4" rx="61" ry="37.2" transform="rotate(61.5 1723.4 1855.4)" fill="#fff"/><ellipse cx="1723.4" cy="1855.4" rx="54" ry="32.9" transform="rotate(61.5 1723.4 1855.4)" stroke-width="2.8"/><ellipse cx="1723.4" cy="1855.4" rx="31" ry="18.9" transform="rotate(61.5 1723.4 1855.4)" fill="#000"/><path d="M1731 1881.9L1732 1881.3L1732.9 1880.6L1733.7 1879.8L1734.5 1878.9L1735.2 1877.8L1735.8 1876.7L1736.3 1875.5L1736.7 1874.2L1737 1872.8L1737.3 1871.3L1737.4 1869.8L1737.5 1868.3L1737.5 1866.6L1737.3 1865L1737.1 1863.3L1736.8 1861.6L1736.4 1859.8L1735.9 1858.1L1735.3 1856.3L1734.6 1854.6L1733.9 1852.9L1733 1851.2L1732.1 1849.5L1731.2 1847.9L1730.1 1846.4L1729 1844.9L1727.9 1843.4L1726.7 1842L1725.5 1840.8L1724.2 1839.5L1722.9 1838.4L1721.6 1837.4L1720.3 1836.5L1718.9 1835.7L1717.6 1835L1716.2 1834.4L1714.9 1833.9L1713.5 1833.6L1712.2 1833.3L1711 1833.2L1709.7 1833.2L1708.5 1833.4L1707.4 1833.6L1706.3 1834L1705.2 1834.5L1627.9 1876.5L1626.9 1877.1L1626 1877.8L1625.2 1878.6L1624.4 1879.6L1623.7 1880.6L1623.1 1881.7L1622.6 1882.9L1622.2 1884.2L1621.9 1885.6L1621.6 1887.1L1621.5 1888.6L1621.4 1890.2L1621.4 1891.8L1621.6 1893.5L1621.8 1895.1L1622.1 1896.9L1622.5 1898.6L1623 1900.3L1623.6 1902.1L1624.3 1903.8L1625 1905.5L1625.9 1907.2L1626.8 1908.9L1627.7 1910.5L1628.8 1912.1L1629.9 1913.6L1631 1915L1632.2 1916.4L1633.4 1917.7L1634.7 1918.9L1636 1920L1637.3 1921L1638.6 1921.9L1640 1922.7L1641.3 1923.4L1642.7 1924L1644 1924.5L1645.4 1924.8L1646.7 1925.1L1647.9 1925.2L1649.2 1925.2L1650.4 1925L1651.5 1924.8L1652.6 1924.4L1653.7 1923.9Z" fill="#000"/><g stroke="#fff"><path d="M1736.9 1861.1L1720.4 1865.1" stroke-width="2.5"/></g><g stroke="#fff"><path d="M1734 1851.9L1717.3 1857.5" stroke-width="2.5"/></g><g stroke="#fff"><path d="M1728.6 1843.6L1712.3 1851.2" stroke-width="2.5"/></g><g stroke="#fff"><path d="M1721.7 1837.8L1706.5 1847.3" stroke-width="2.5"/></g><g stroke="none"><ellipse cx="1640.8" cy="1900.2" rx="24" ry="14.6" transform="rotate(61.5 1640.8 1900.2)" fill="#fff"/></g><path d="M1649.1 1915.6L1653.7 1923.9M1652.9 1910.4L1659.4 1915.9M1652.8 1902L1659.3 1902.9M1648.9 1893L1653.3 1889.1M1642.4 1886.3L1643.3 1878.7M1635.4 1884L1632.5 1875.2M1630.1 1886.9L1624.3 1879.7M1628.2 1894L1621.4 1890.6M1630.3 1903.1L1624.6 1904.6M1635.7 1911.2L1633 1917.2M1642.7 1915.9L1643.8 1924.4" stroke-width="3.4" stroke-linecap="butt"/><ellipse cx="1640.8" cy="1900.2" rx="7" ry="4.3" transform="rotate(61.5 1640.8 1900.2)" stroke-width="2.6"/></g>
<g id="p_crank"><path d="M1975.9 2499.8C1980.7 2489.5 1998.3 2460.2 2004.9 2438.1C2011.4 2416.1 2012.8 2395.4 2015.2 2367.8C2017.6 2340.2 2016.3 2298.8 2019.4 2272.6C2022.5 2246.3 2026.6 2229.8 2033.9 2210.5C2041.1 2191.2 2050.4 2173.9 2062.8 2156.7C2075.3 2139.4 2091.1 2120.1 2108.4 2107C2125.6 2093.9 2147.7 2084.2 2166.3 2078C2185 2071.8 2202.2 2070.4 2220.1 2069.7C2238.1 2069 2254.6 2070.4 2274 2073.9C2293.3 2077.3 2315.4 2084.9 2336.1 2090.4C2356.8 2095.9 2379.5 2102.8 2398.1 2107C2416.8 2111.1 2432.6 2115.9 2447.8 2115.3C2463 2114.6 2476.8 2109.7 2489.2 2102.8C2501.6 2095.9 2510.5 2086.3 2522.3 2073.9C2534.1 2061.4 2553.7 2035.9 2560 2028.3" stroke-width="2.5"/><path d="M2218.1 2073.9L2230.5 2119.4" stroke-width="2.5"/><path d="M2060.8 2158.7L2077.3 2208.4" stroke-width="2.5"/><path d="M2124.9 2239.4L2220.1 2185.6" stroke-width="2.5"/><path d="M2104.2 2264.3C2104.6 2267.7 2108.4 2278.1 2106.3 2285C2104.2 2291.9 2099.8 2300.2 2091.8 2305.7C2083.9 2311.2 2070.8 2316 2058.7 2318.1C2046.6 2320.2 2025.9 2318.1 2019.4 2318.1" stroke-width="2.5"/><path d="M2015.2 2365.7L2158.1 2403" stroke-width="2.5"/><path d="M2015.2 2382.3L2124.9 2411.2" stroke-width="2.5"/><path d="M2007 2438.1L2104.2 2434" stroke-width="2.5"/><path d="M2124.9 2307.7L2247.1 2237.4" stroke-width="2.5"/><path d="M2313.3 2200.1L2414.7 2142.2" stroke-width="2.5"/><path d="M2323.6 2316L2560 2181.5" stroke-width="2.5"/><path d="M2124.9 2320.2L2249.1 2338.8" stroke-width="2.5"/><path d="M2286.4 2328.4L2309.1 2320.2" stroke-width="2.5"/><path d="M2124.9 2307.7C2123.6 2308.8 2118.4 2309.5 2116.7 2314C2114.9 2318.4 2112.5 2320.9 2114.6 2334.7C2116.7 2348.5 2126.7 2386.4 2129.1 2396.8" stroke-width="2.5"/><ellipse cx="2447.8" cy="2133.9" rx="29" ry="13.7" transform="rotate(-15 2447.8 2133.9)" stroke-width="2.5"/><ellipse cx="2447.8" cy="2131.8" rx="27.3" ry="12.4" transform="rotate(-15 2447.8 2131.8)" stroke-width="2.5"/><ellipse cx="2300.9" cy="2227" rx="55.9" ry="24" transform="rotate(-15 2300.9 2227)" stroke-width="2.5"/><ellipse cx="2302.1" cy="2223.7" rx="41.4" ry="16.6" transform="rotate(-15 2302.1 2223.7)" stroke-width="2.5"/><ellipse cx="2302.9" cy="2222.9" rx="32.3" ry="11.6" transform="rotate(-15 2302.9 2222.9)" stroke-width="2.5"/><ellipse cx="2172.5" cy="2297.4" rx="26.9" ry="12.4" transform="rotate(-12 2172.5 2297.4)" stroke-width="2.5"/><ellipse cx="2172.5" cy="2296.2" rx="24" ry="10.8" transform="rotate(-12 2172.5 2296.2)" stroke-width="3.2"/><ellipse cx="2348.5" cy="2160" rx="32.3" ry="13.2" transform="rotate(-15 2348.5 2160)" stroke-width="2.5"/><ellipse cx="2350.5" cy="2160.8" rx="17.4" ry="6.6" transform="rotate(-15 2350.5 2160.8)" stroke-width="2.5"/><path d="M2309.1 2164.9L2313.3 2117.3L2344.3 2144.2" stroke-width="2.5"/><path d="M2265.7 2169.1C2269.1 2169.8 2279.8 2173.2 2286.4 2173.2C2292.9 2173.2 2301.9 2169.8 2305 2169.1" stroke-width="2.5"/><path d="M2298.8 2167L2360.9 2136" stroke-width="2.5"/><path d="M2379.5 2181.5L2391.9 2214.6" stroke-width="2.5"/><path d="M2394 2239.4L2402.3 2272.6" stroke-width="2.5"/><path d="M2315.4 2173.2L2327.8 2189.8" stroke-width="2.5"/><path d="M2253.3 2361.6L2280.2 2463" stroke-width="2.5"/><path d="M2271.9 2359.5L2296.7 2454.7" stroke-width="2.5"/><path d="M2292.6 2351.2L2311.2 2442.3" stroke-width="2.5"/><path d="M2290.5 2355.4C2292.6 2353.6 2298.1 2346.4 2302.9 2345C2307.8 2343.6 2313.3 2343.3 2319.5 2347.1C2325.7 2350.9 2336.1 2359.5 2340.2 2367.8C2344.3 2376.1 2340.2 2386.7 2344.3 2396.8C2348.5 2406.8 2354 2419.5 2365 2427.8C2376.1 2436.1 2403 2443.3 2410.6 2446.4" stroke-width="2.5"/><path d="M2302.9 2359.5C2303.6 2364.3 2302.2 2376.1 2307.1 2388.5C2311.9 2400.9 2321.6 2422.3 2331.9 2434C2342.3 2445.7 2356.8 2455 2369.2 2458.8C2381.6 2462.6 2398.5 2458.8 2406.4 2456.8C2414.4 2454.7 2415 2448.2 2416.8 2446.4" stroke-width="2.5"/><path d="M2416.8 2446.4L2503.7 2396.8" stroke-width="2.5"/><path d="M2485.1 2282.9C2484.7 2284.6 2479.6 2276.4 2483 2293.3C2486.5 2310.2 2502 2369.2 2505.8 2384.3" stroke-width="2.5"/><path d="M2485.1 2282.9C2486.5 2282.6 2480.9 2266 2493.4 2280.8C2505.8 2295.7 2548.9 2356.7 2560 2371.9" stroke-width="4"/><path d="M2514.1 2394.7L2560 2398.8" stroke-width="2.5"/><path d="M2104.2 2434C2107.7 2431.2 2116 2422.6 2124.9 2417.4C2133.9 2412.3 2149.8 2407.8 2158.1 2403C2166.3 2398.1 2169.1 2390.9 2174.6 2388.5C2180.1 2386.1 2185.6 2386.1 2191.2 2388.5C2196.7 2390.9 2205 2400.5 2207.7 2403" stroke-width="2.5"/><path d="M2500 2090.4C2506.2 2084.9 2517.2 2078 2537.3 2057.3C2557.3 2036.6 2601.4 1985.6 2620 1966.2C2638.7 1946.9 2638.7 1947.6 2649 1941.4C2659.4 1935.2 2669.7 1931.7 2682.1 1929C2694.6 1926.2 2710.4 1924.5 2723.5 1924.8C2736.6 1925.2 2754.6 1930 2760.8 1931" stroke-width="2.5"/><path d="M2620 1966.2C2623.5 1966.2 2634.5 1967.6 2640.7 1966.2C2647 1964.9 2654.5 1959.3 2657.3 1958" stroke-width="2.5"/><path d="M2682.1 1935.2L2814.6 1989L2843.6 2003.5" stroke-width="2.5"/><path d="M2673.9 1949.7L2789.8 1999.4L2818.7 2011.8" stroke-width="2.5"/><path d="M2682.1 1929C2679.4 1931 2667 1937.9 2665.6 1941.4C2664.2 1944.8 2672.5 1948.3 2673.9 1949.7" stroke-width="2.5"/><path d="M2843.6 2003.5C2846.3 2002.8 2854.6 1999.7 2860.1 1999.4C2865.7 1999 2871.9 1999.4 2876.7 2001.4C2881.5 2003.5 2885.7 2006.6 2889.1 2011.8C2892.6 2016.9 2896.7 2025.6 2897.4 2032.5C2898.1 2039.4 2895.3 2047 2893.3 2053.2C2891.2 2059.4 2891.9 2063.5 2885 2069.7C2878.1 2075.9 2860.8 2085.9 2851.9 2090.4C2842.9 2094.9 2836.7 2098 2831.2 2096.6C2825.6 2095.3 2822.9 2087.3 2818.7 2082.1C2814.6 2077 2810.5 2071.8 2806.3 2065.6C2802.2 2059.4 2794.6 2050.4 2793.9 2044.9C2793.2 2039.4 2793.9 2039.4 2802.2 2032.5C2810.5 2025.6 2836.7 2008.3 2843.6 2003.5" stroke-width="2.5"/><path d="M2822.9 2051.1C2825.6 2048 2829.8 2039.2 2839.4 2032.5C2849.1 2025.8 2873.9 2014.5 2880.8 2010.9" stroke-width="4.5"/><path d="M2818.7 2065.6C2806.3 2073.9 2758 2104.2 2744.2 2115.3C2730.4 2126.3 2736.6 2124.9 2736 2131.8C2735.3 2138.7 2736.6 2147.7 2740.1 2156.7C2743.5 2165.6 2754.6 2177.4 2756.7 2185.6C2758.7 2193.9 2754.6 2202.2 2752.5 2206.3C2750.4 2210.5 2745.6 2209.8 2744.2 2210.5" stroke-width="4.5"/><ellipse cx="2822.9" cy="2057.3" rx="7.5" ry="10.8" transform="rotate(10 2822.9 2057.3)" stroke-width="2.8"/><path d="M2885 2069.7L2971.9 2227" stroke-width="2.5"/><path d="M2868.4 2102.8L2949.1 2235.3" stroke-width="2.5"/><path d="M2878.8 2098.7L2951.2 2218.7" stroke-width="2.5"/><path d="M2864.3 2080.1L2882.9 2071.8" stroke-width="2.5"/><path d="M2949.1 2235.3C2952.9 2233.9 2963.3 2227.7 2971.9 2227C2980.5 2226.3 2992.6 2226.3 3000.9 2231.2C3009.2 2236 3016.1 2245 3021.6 2256C3027.1 2267 3029.9 2285.7 3034 2297.4C3038.1 2309.1 3045 2318.1 3046.4 2326.4C3047.8 2334.7 3051.3 2338.8 3042.3 2347.1C3033.3 2355.4 3001.6 2368.5 2992.6 2376.1C2983.6 2383.6 2988.5 2387.8 2988.5 2392.6C2988.5 2397.4 3005 2395.4 2992.6 2405C2980.2 2414.7 2934.7 2443.3 2914 2450.6C2893.3 2457.8 2880.2 2447.8 2868.4 2448.5C2856.7 2449.2 2849.5 2451.6 2843.6 2454.7C2837.7 2457.8 2835 2465.1 2833.2 2467.1" stroke-width="2.5"/><path d="M2994.7 2371.9L3038.1 2351.2" stroke-width="4"/><path d="M2949.1 2235.3C2946.4 2236.7 2935.7 2238.8 2932.6 2243.6C2929.5 2248.4 2930.9 2260.8 2930.5 2264.3" stroke-width="2.5"/><path d="M2955.4 2253.9C2958.8 2256.3 2970.2 2261.9 2976.1 2268.4C2981.9 2275 2988.1 2289.1 2990.5 2293.3" stroke-width="2.5"/><path d="M2990.5 2314L3029.9 2297.4" stroke-width="2.5"/><path d="M2976.1 2314C2977.4 2318.1 2981.9 2329.1 2984.3 2338.8C2986.7 2348.5 2989.5 2366.4 2990.5 2371.9" stroke-width="2.5"/><path d="M2922.2 2295.3L2947.1 2301.5" stroke-width="2.5"/><path d="M2942.9 2287.1C2947.1 2288.8 2962.3 2292.9 2967.8 2297.4C2973.3 2301.9 2974.7 2311.2 2976.1 2314" stroke-width="2.5"/><ellipse cx="2694.6" cy="2024.2" rx="29.8" ry="13.7" transform="rotate(-12 2694.6 2024.2)" stroke-width="2.5"/><path d="M2500 2098.7L2578.7 2109" stroke-width="2.5"/><path d="M2535.2 2061.4L2603.5 2092.5" stroke-width="2.5"/><path d="M2500 2218.7L2632.5 2144.2" stroke-width="2.5"/><path d="M2558 2140.1C2560.7 2137.3 2566.9 2129.7 2574.5 2123.5C2582.1 2117.3 2595.2 2107.7 2603.5 2102.8C2611.8 2098 2617.3 2093.9 2624.2 2094.6C2631.1 2095.3 2639.4 2101.8 2644.9 2107C2650.4 2112.2 2655.2 2122.5 2657.3 2125.6" stroke-width="2.5"/><ellipse cx="2599.4" cy="2117.3" rx="25.7" ry="10.8" transform="rotate(-15 2599.4 2117.3)" stroke-width="2.5"/><path d="M2558 2140.1C2560 2140.4 2564.2 2143.5 2570.4 2142.2C2576.6 2140.8 2591.1 2133.5 2595.2 2131.8" stroke-width="2.5"/><path d="M2649 2140.1C2650.4 2138.7 2653.9 2131.1 2657.3 2131.8C2660.8 2132.5 2670.4 2140.8 2669.7 2144.2C2669 2147.7 2656.6 2153.2 2653.2 2152.5C2649.7 2151.8 2649.7 2142.2 2649 2140.1" stroke-width="2.5"/><path d="M2644.9 2164.9C2659.4 2176 2711.8 2217.4 2731.8 2231.2C2751.8 2245 2751.1 2245.3 2764.9 2247.7C2778.7 2250.1 2806.3 2246 2814.6 2245.7" stroke-width="2.5"/><path d="M2644.9 2164.9L2649 2189.8" stroke-width="2.5"/><path d="M2678 2131.8L2690.4 2129.7L2715.3 2198.1" stroke-width="2.5"/><path d="M2678 2131.8L2682.1 2156.7L2707 2206.3" stroke-width="2.5"/><path d="M2657.3 2148.4C2664.9 2156.7 2690.4 2186.3 2702.8 2198.1C2715.3 2209.8 2718.7 2211.8 2731.8 2218.7C2744.9 2225.6 2773.2 2236 2781.5 2239.4" stroke-width="2.5"/><path d="M2702.8 2198.1C2707.7 2198.1 2725.6 2196 2731.8 2198.1C2738 2200.1 2741.5 2207 2740.1 2210.5C2738.7 2213.9 2726.3 2217.4 2723.5 2218.7" stroke-width="2.5"/><path d="M2663.5 2198.1L2673.9 2227" stroke-width="2.5"/><path d="M2669.7 2247.7C2667.7 2251.9 2659.4 2263.6 2657.3 2272.6C2655.2 2281.5 2657.3 2296.7 2657.3 2301.5" stroke-width="2.5"/><path d="M2692.5 2241.5L2715.3 2245.7" stroke-width="2.5"/><path d="M2731.8 2253.9C2736 2254.3 2748.4 2258.1 2756.7 2256C2764.9 2253.9 2777.4 2243.9 2781.5 2241.5" stroke-width="2.5"/><ellipse cx="2804.3" cy="2303.6" rx="43.5" ry="60" transform="rotate(-8 2804.3 2303.6)" fill="#fff" stroke-width="2.5"/><ellipse cx="2803" cy="2303.6" rx="24.8" ry="35.2" transform="rotate(-8 2803 2303.6)" stroke-width="2.5"/><ellipse cx="2793.1" cy="2302.4" rx="14.9" ry="23.2" transform="rotate(-8 2793.1 2302.4)" stroke-width="2.5"/><path d="M2806.3 2274.6C2808.4 2278.4 2817.4 2288.1 2818.7 2297.4C2820.1 2306.7 2818.1 2324 2814.6 2330.5C2811.2 2337.1 2800.8 2335.7 2798.1 2336.7" stroke-width="2.5"/><path d="M2566.2 2363.6L2665.6 2309.8L2760.8 2318.1" stroke-width="2.5"/><path d="M2582.8 2371.9L2682.1 2318.1L2756.7 2328.4" stroke-width="2.5"/><path d="M2589 2384.3L2686.3 2328.4L2694.6 2330.5" stroke-width="2.5"/><path d="M2582.8 2371.9C2582.1 2373.3 2577.6 2378.1 2578.7 2380.2C2579.7 2382.3 2579.3 2382.3 2589 2384.3C2598.7 2386.4 2628.7 2391.2 2636.6 2392.6" stroke-width="2.5"/><path d="M2500 2293.3L2578.7 2392.6" stroke-width="4"/><path d="M2516.6 2394.7C2526.2 2395.7 2563.1 2400.9 2574.5 2400.9C2585.9 2400.9 2583.1 2395.7 2584.9 2394.7" stroke-width="2.5"/><path d="M2500 2417.4C2504.1 2416.4 2509 2411.2 2524.8 2411.2C2540.7 2411.2 2583.5 2416.4 2595.2 2417.4" stroke-width="2.5"/><path d="M2595.2 2417.4L2636.6 2394.7L2719.4 2392.6" stroke-width="2.5"/><path d="M2669.7 2419.5L2719.4 2394.7" stroke-width="2.5"/><path d="M2636.6 2394.7C2638.7 2397.1 2644.2 2402.6 2649 2409.2C2653.9 2415.7 2662.8 2429.9 2665.6 2434" stroke-width="2.5"/><path d="M2688.4 2326.4C2685.9 2329.1 2677.7 2336 2673.9 2342.9C2670.1 2349.8 2667 2363.6 2665.6 2367.8" stroke-width="2.5"/><path d="M2682.1 2357.4C2687.7 2359.5 2705.9 2368.1 2715.3 2369.8C2724.6 2371.6 2734.2 2368.1 2738 2367.8" stroke-width="2.5"/><path d="M2798.1 2363.6L2802.2 2499.8" stroke-width="2.5"/><path d="M2816.7 2363.6L2818.7 2487.8" stroke-width="2.5"/><path d="M2760.8 2359.5C2765.6 2359.8 2780.1 2360.9 2789.8 2361.6C2799.4 2362.3 2813.9 2363.3 2818.7 2363.6" stroke-width="3.2"/><path d="M2750.4 2380.2L2756.7 2396.8" stroke-width="2.5"/><path d="M2818.7 2409.2L2843.6 2400.9" stroke-width="2.5"/><path d="M2847.7 2396.8C2855.3 2393.3 2871.9 2380.2 2893.3 2376.1C2914.6 2371.9 2962.3 2372.6 2976.1 2371.9" stroke-width="2.5"/><path d="M2847.7 2396.8L2868.4 2434L2909.8 2450.6" stroke-width="2.5"/><path d="M2851.9 2403L2897.4 2413.3L2955.4 2386.4" stroke-width="2.5"/><path d="M2897.4 2413.3L2909.8 2446.4" stroke-width="2.5"/><path d="M2889.1 2297.4C2888.1 2303.6 2882.2 2322.9 2882.9 2334.7C2883.6 2346.4 2891.5 2362.3 2893.3 2367.8" stroke-width="2.5"/><path d="M2889.1 2297.4C2891.9 2295.7 2900.8 2288.4 2905.7 2287.1C2910.5 2285.7 2916 2288.8 2918.1 2289.1" stroke-width="2.5"/><path d="M2694.6 2434C2696.6 2431.9 2700.8 2424.7 2707 2421.6C2713.2 2418.5 2727.7 2416.4 2731.8 2415.4" stroke-width="2.5"/><path d="M2692.5 2434L2692.5 2467.1" stroke-width="2.5"/><ellipse cx="2630.4" cy="2468" rx="41.4" ry="58" transform="rotate(-8 2630.4 2468)" fill="#fff" stroke-width="2.5"/><ellipse cx="2631.6" cy="2471.3" rx="24.8" ry="33.9" transform="rotate(-8 2631.6 2471.3)" stroke-width="2.5"/><ellipse cx="2624.2" cy="2470.4" rx="16.6" ry="25.7" transform="rotate(-8 2624.2 2470.4)" stroke-width="2.5"/><path d="M2611.8 2450.6C2612.8 2454 2617.6 2465.1 2618 2471.3C2618.3 2477.5 2614.5 2485.1 2613.8 2487.8" stroke-width="2.5"/><path d="M2013.2 2400C2010.4 2410.3 2004.9 2441.4 1996.6 2462.1C1988.3 2482.8 1977.3 2502.1 1963.5 2524.2C1949.7 2546.3 1926.9 2572.5 1913.8 2594.6C1900.7 2616.6 1891 2637.3 1884.8 2656.7C1878.6 2676 1876.6 2692.5 1876.6 2710.5C1876.6 2728.4 1879.3 2747 1884.8 2764.3C1890.4 2781.5 1905.5 2805.7 1909.7 2814" stroke-width="2.5"/><path d="M2054.6 2743.6C2055.3 2736 2054.6 2711.8 2058.7 2698.1C2062.8 2684.3 2071.1 2669.4 2079.4 2660.8C2087.7 2652.2 2096.6 2647.7 2108.4 2646.3C2120.1 2644.9 2136.7 2646 2149.8 2652.5C2162.9 2659.1 2176 2672.5 2187 2685.6C2198.1 2698.7 2207.7 2717.4 2216 2731.2C2224.3 2745 2230.8 2757.4 2236.7 2768.4C2242.6 2779.5 2248.8 2792.6 2251.2 2797.4" stroke-width="2.5"/><path d="M2062.8 2743.6C2063.5 2737.4 2062.8 2718.7 2067 2706.3C2071.1 2693.9 2079.4 2677.7 2087.7 2669.1C2096 2660.4 2106.3 2655.8 2116.7 2654.6C2127 2653.3 2138.7 2655.4 2149.8 2661.6C2160.8 2667.8 2172.5 2679.4 2182.9 2691.8C2193.2 2704.3 2203.6 2722.3 2211.9 2736.1C2220.1 2749.9 2227 2764.4 2232.6 2774.6C2238.1 2784.8 2242.9 2793.6 2245 2797.4" stroke-width="2.5"/><path d="M2057.9 2743.6C2058.6 2736.7 2057.7 2715.3 2062 2702.2C2066.3 2689.1 2075.1 2673.6 2083.5 2664.9C2092 2656.3 2107.7 2652.9 2112.5 2650.4" stroke-width="2.5"/><path d="M2137.4 2660.8L2145.6 2718.7" stroke-width="2.5"/><path d="M2142.7 2660.8L2151 2716.7" stroke-width="2.5"/><path d="M2156 2714.6L2067 2766.4L2054.6 2743.6" stroke-width="2.5"/><path d="M2067 2766.4L1942.8 2747.7L1893.1 2768.4" stroke-width="2.5"/><path d="M1961.4 2731.2L2054.6 2745.7" stroke-width="2.5"/><path d="M1876.6 2706.3L1934.5 2675.3" stroke-width="2.5"/><path d="M1886.9 2756L1913.8 2741.5" stroke-width="2.5"/><path d="M2251.2 2797.4C2255.7 2796 2265.3 2792.2 2278.1 2789.1C2290.9 2786 2304.3 2783.9 2327.8 2778.8C2351.2 2773.6 2389.2 2768.1 2418.8 2758.1C2448.5 2748.1 2482.2 2730.1 2505.8 2718.7C2529.3 2707.4 2551 2694.6 2560 2689.8" stroke-width="2.5"/><path d="M2257.4 2749.8L2263.6 2745.7L2327.8 2753.9L2427.1 2706.3" stroke-width="2.5"/><path d="M2257.4 2749.8L2267.7 2791.2" stroke-width="2.5"/><path d="M2263.6 2747.7L2274 2789.1" stroke-width="2.5"/><path d="M2286.4 2760.1L2292.6 2780.8" stroke-width="2.5"/><path d="M2356.8 2743.6L2363 2764.3" stroke-width="2.5"/><path d="M2240.8 2698.1L2315.4 2685.6L2410.6 2652.5L2423 2664.9L2435.4 2698.1" stroke-width="2.5"/><path d="M2240.8 2698.1L2249.1 2718.7L2319.5 2718.7L2435.4 2696" stroke-width="2.5"/><path d="M2319.5 2718.7L2327.8 2751.9" stroke-width="2.5"/><path d="M2305 2698.1L2319.5 2685.6L2389.9 2656.7" stroke-width="2.5"/><path d="M2302.9 2698.1L2327.8 2702.2L2414.7 2657.5" stroke-width="2.5"/><path d="M2323.6 2708.4L2410.6 2664.9" stroke-width="2.5"/><path d="M2402.3 2714.6L2414.7 2756" stroke-width="3.5"/><path d="M2414.7 2708.4C2418.2 2706.7 2433.3 2695.6 2435.4 2698.1C2437.5 2700.5 2429.9 2717.4 2427.1 2722.9C2424.4 2728.4 2420.2 2729.8 2418.8 2731.2" stroke-width="2.5"/><path d="M2079.4 2644.2C2081.5 2640.8 2084.2 2629.1 2091.8 2623.5C2099.4 2618 2119.4 2613.2 2124.9 2611.1" stroke-width="2.5"/><path d="M2133.2 2609C2140.1 2609.4 2162.9 2607.7 2174.6 2611.1C2186.3 2614.6 2194.6 2623.2 2203.6 2629.7C2212.6 2636.3 2224.3 2647 2228.4 2650.4" stroke-width="2.5"/><path d="M2178.7 2575.9C2184.3 2576.3 2203.6 2576.3 2211.9 2578C2220.1 2579.7 2225.7 2584.9 2228.4 2586.3" stroke-width="2.5"/><path d="M1986.3 2623.5C1981.8 2627.7 1965.2 2640.1 1959.4 2648.4C1953.5 2656.7 1952.5 2669.1 1951.1 2673.2" stroke-width="2.5"/><path d="M1953.1 2677.4C1953.8 2682.2 1960.4 2697 1957.3 2706.3C1954.2 2715.6 1938.3 2728.8 1934.5 2733.2" stroke-width="2.5"/><path d="M1982.1 2654.6C1985.2 2656.3 1996.3 2662.5 2000.7 2664.9C2005.2 2667.3 2007.6 2668.4 2009 2669.1" stroke-width="2.5"/><path d="M1978 2691.8C1985.2 2693.2 2012.8 2699.4 2021.4 2700.1C2030.1 2700.8 2028.3 2696.7 2029.7 2696" stroke-width="2.5"/><path d="M2251.2 2644.2C2252.2 2649.1 2254.6 2666.3 2257.4 2673.2C2260.2 2680.1 2266 2683.6 2267.7 2685.6" stroke-width="2.5"/><path d="M2236.7 2553.2C2238.8 2560.1 2245 2580.8 2249.1 2594.6C2253.3 2608.4 2259.5 2629.1 2261.5 2636" stroke-width="2.5"/><path d="M2228.4 2503.5C2229.1 2509.7 2233.3 2524.9 2232.6 2540.7C2231.9 2556.6 2227 2584.6 2224.3 2598.7C2221.5 2612.8 2216 2619.7 2216 2625.6C2216 2631.5 2220.1 2633.2 2224.3 2633.9C2228.4 2634.6 2236.4 2634.2 2240.8 2629.7C2245.3 2625.3 2250.5 2614.9 2251.2 2607C2251.9 2599 2246 2586.3 2245 2582.1" stroke-width="2.5"/><path d="M2232.6 2586.3L2228.4 2625.6" stroke-width="2.5"/><path d="M2038 2503.5C2043.5 2501.1 2062.1 2490.7 2071.1 2489C2080.1 2487.3 2085.6 2490 2091.8 2493.1C2098 2496.2 2105.6 2505.2 2108.4 2507.6" stroke-width="2.5"/><path d="M2085.6 2573.9C2089.4 2572.5 2096.3 2569.7 2108.4 2565.6C2120.4 2561.4 2148 2549 2158.1 2549C2168.1 2549 2167.4 2559.4 2168.4 2565.6C2169.4 2571.8 2171.5 2579.4 2164.3 2586.3C2157 2593.2 2134.9 2602.1 2124.9 2607C2114.9 2611.8 2107.7 2613.9 2104.2 2615.3" stroke-width="2.5"/><path d="M2108.4 2565.6L2124.9 2604.9" stroke-width="2.5"/><path d="M2116.7 2569.7L2131.1 2594.6" stroke-width="2.5"/><ellipse cx="2060.8" cy="2538.7" rx="26.9" ry="38.1" transform="rotate(-8 2060.8 2538.7)" fill="#fff" stroke-width="2.5"/><ellipse cx="2057.9" cy="2542.8" rx="12.4" ry="17.4" transform="rotate(-8 2057.9 2542.8)" stroke-width="2.5"/><path d="M1946.9 2526.3L2033.9 2524.2" stroke-width="2.5"/><path d="M1975.9 2505.6L2031.8 2511.8" stroke-width="2.5"/><path d="M1946.9 2542.8L2038 2540.7" stroke-width="2.5"/><path d="M1980 2544.9C1980 2548.3 1978 2560.8 1980 2565.6C1982.1 2570.4 1987.3 2573.2 1992.5 2573.9C1997.6 2574.6 2009 2574.6 2011.1 2569.7C2013.2 2564.9 2005.9 2549 2004.9 2544.9" stroke-width="2.5"/><path d="M2042.1 2582.1C2038 2594.6 2022.1 2641.5 2017.3 2656.7C2012.5 2671.8 2010.4 2668 2013.2 2673.2C2015.9 2678.4 2025.6 2687.7 2033.9 2687.7C2042.1 2687.7 2054.6 2681.8 2062.8 2673.2C2071.1 2664.6 2076.6 2645.6 2083.5 2636C2090.4 2626.3 2100.8 2618.7 2104.2 2615.3" stroke-width="2.5"/><path d="M2004.9 2573.9C2002.5 2578 1991.8 2590.4 1990.4 2598.7C1989 2607 1991.4 2617.7 1996.6 2623.5C2001.8 2629.4 2017.3 2632.2 2021.4 2633.9" stroke-width="2.5"/><path d="M2004.9 2573.9C2008.3 2574.6 2019.7 2575.9 2025.6 2578C2031.4 2580.1 2037.7 2584.9 2040.1 2586.3" stroke-width="2.5"/><path d="M2007 2437.3L2104.2 2433.1" stroke-width="2.5"/><path d="M2108.4 2431L2129.1 2416.6L2166.3 2400" stroke-width="2.5"/><ellipse cx="2112.5" cy="2464.2" rx="18.6" ry="28.1" transform="rotate(-10 2112.5 2464.2)" fill="#fff" stroke-width="2.5"/><ellipse cx="2114.6" cy="2464.2" rx="9.1" ry="13.7" transform="rotate(-10 2114.6 2464.2)" stroke-width="3.2"/><path d="M2124.9 2489C2128.4 2489 2141.5 2483.1 2145.6 2489C2149.8 2494.9 2144.9 2514.9 2149.8 2524.2C2154.6 2533.5 2160.8 2541.8 2174.6 2544.9C2188.4 2548 2222.9 2543.2 2232.6 2542.8" stroke-width="2.5"/><path d="M2135.3 2486.9L2158.1 2528.3L2178.7 2540.7" stroke-width="2.5"/><path d="M2104.2 2518C2110.4 2517.6 2134.6 2514.2 2141.5 2515.9C2148.4 2517.6 2151.2 2525.6 2145.6 2528.3C2140.1 2531.1 2115.6 2533.2 2108.4 2532.5C2101.1 2531.8 2102.9 2526.6 2102.2 2524.2C2101.5 2521.8 2103.9 2519 2104.2 2518" stroke-width="2.5"/><path d="M2104.2 2540.7L2232.6 2553.2" stroke-width="2.5"/><path d="M2164.3 2524.2L2207.7 2499.4" stroke-width="2.5"/><ellipse cx="2269.8" cy="2496" rx="41.4" ry="18.2" transform="rotate(-8 2269.8 2496)" stroke-width="2.5"/><ellipse cx="2267.7" cy="2495.2" rx="28.1" ry="10.8" transform="rotate(-8 2267.7 2495.2)" stroke-width="3"/><path d="M2253.3 2470.4C2256.7 2469.7 2264.3 2467.3 2274 2466.2C2283.6 2465.2 2303.6 2462.8 2311.2 2464.2C2318.8 2465.5 2315.4 2472.1 2319.5 2474.5C2323.6 2476.9 2333.3 2478 2336.1 2478.7" stroke-width="2.5"/><path d="M2187 2412.4C2189.1 2420.7 2193.9 2447.6 2199.4 2462.1C2205 2476.6 2216.7 2493.1 2220.1 2499.4" stroke-width="2.5"/><path d="M2185 2416.6C2186 2415.9 2186.7 2412.4 2191.2 2412.4C2195.7 2412.4 2208.4 2415.9 2211.9 2416.6" stroke-width="2.5"/><path d="M2191.2 2422.8L2257.4 2439.3" stroke-width="2.5"/><path d="M2203.6 2400C2211.9 2404.1 2240.8 2415.9 2253.3 2424.8C2265.7 2433.8 2274 2449 2278.1 2453.8" stroke-width="2.5"/><path d="M2315.4 2458C2319.5 2455.9 2324.3 2446.2 2340.2 2445.5C2356.1 2444.8 2388.5 2455.9 2410.6 2453.8C2432.6 2451.7 2456.1 2437.3 2472.7 2433.1C2489.2 2429 2498.2 2432.4 2509.9 2429C2521.6 2425.5 2534.7 2415.5 2543 2412.4C2551.4 2409.3 2557.2 2410.7 2560 2410.3" stroke-width="2.5"/><path d="M2485.1 2441.4L2489.2 2470.4" stroke-width="2.5"/><path d="M2431.3 2443.5L2560 2511.8" stroke-width="2.5"/><path d="M2294.7 2511.8C2294 2514.5 2289.8 2522.8 2290.5 2528.3C2291.2 2533.8 2294 2541.1 2298.8 2544.9C2303.6 2548.7 2316 2550.1 2319.5 2551.1" stroke-width="2.5"/><path d="M2309.1 2524.2L2381.6 2520" stroke-width="2.5"/><path d="M2313.3 2542.8C2324.7 2543.2 2369.2 2546.6 2381.6 2544.9C2394 2543.2 2389.2 2537.3 2387.8 2532.5C2386.4 2527.6 2383.3 2519.7 2373.3 2515.9C2363.3 2512.1 2335.4 2510.7 2327.8 2509.7" stroke-width="2.5"/><path d="M2327.8 2555.2L2342.3 2563.5" stroke-width="2.5"/><path d="M2356.8 2569.7L2385.7 2569.7" stroke-width="2.5"/><path d="M2389.9 2565.6L2439.5 2569.7" stroke-width="2.5"/><path d="M2340.2 2582.1C2340.2 2587.7 2338.1 2603.5 2340.2 2615.3C2342.3 2627 2350.5 2646.3 2352.6 2652.5" stroke-width="2.5"/><path d="M2352.6 2592.5L2377.4 2594.6" stroke-width="2.5"/><path d="M2367.1 2598.7L2381.6 2652.5" stroke-width="2.5"/><path d="M2398.1 2586.3L2414.7 2652.5" stroke-width="2.5"/><path d="M2439.5 2569.7L2443.7 2698.1" stroke-width="2.5"/><path d="M2456.1 2569.7L2460.2 2702.2" stroke-width="2.5"/><path d="M2447.8 2573.9L2449.9 2689.8" stroke-width="2.5"/><path d="M2431.3 2669.1C2432.6 2675.3 2435.4 2700.1 2439.5 2706.3C2443.7 2712.5 2453.3 2706.3 2456.1 2706.3" stroke-width="2.5"/><path d="M2460.2 2673.2C2463.7 2671.8 2474.4 2668.4 2480.9 2664.9C2487.5 2661.5 2496.5 2654.6 2499.6 2652.5" stroke-width="2.5"/><path d="M2472.7 2561.4C2472 2567.7 2467.1 2582.8 2468.5 2598.7C2469.9 2614.6 2474.7 2641.5 2480.9 2656.7C2487.1 2671.8 2499.6 2682.2 2505.8 2689.8C2512 2697.4 2516.1 2700.1 2518.2 2702.2" stroke-width="2.5"/><path d="M2472.7 2561.4C2475.4 2558.7 2483 2548 2489.2 2544.9C2495.4 2541.8 2502.3 2538 2509.9 2542.8C2517.5 2547.6 2528.5 2563.2 2534.8 2573.9C2541 2584.6 2545.1 2601.5 2547.2 2607" stroke-width="2.5"/><path d="M2520.3 2557.3L2538.9 2582.1" stroke-width="3.5"/><path d="M2416.8 2731.2C2424 2729.1 2445.4 2725.6 2460.2 2718.7C2475.1 2711.8 2498.2 2694.6 2505.8 2689.8" stroke-width="2.5"/><path d="M2431.3 2727L2437.5 2745.7" stroke-width="2.5"/><path d="M2456.1 2706.3L2464.4 2735.3" stroke-width="2.5"/><ellipse cx="2445.8" cy="2509.7" rx="43.5" ry="60" transform="rotate(-8 2445.8 2509.7)" fill="#fff" stroke-width="2.5"/><ellipse cx="2445.8" cy="2507.6" rx="24.8" ry="33.9" transform="rotate(-8 2445.8 2507.6)" stroke-width="2.5"/><ellipse cx="2438.7" cy="2506.8" rx="16.6" ry="25.7" transform="rotate(-8 2438.7 2506.8)" stroke-width="2.5"/><path d="M2447.8 2482.8C2449.9 2486.2 2458.9 2495.9 2460.2 2503.5C2461.6 2511.1 2459.6 2522.8 2456.1 2528.3C2452.7 2533.8 2442.3 2535.2 2439.5 2536.6" stroke-width="2.5"/><path d="M2493.4 2476.6L2547.2 2507.6" stroke-width="2.5"/><path d="M2491.3 2524.2L2522.3 2507.6" stroke-width="2.5"/><path d="M2500 2716.7C2504.1 2714.3 2515.2 2706 2524.8 2702.2C2534.5 2698.4 2550.4 2698.1 2558 2693.9C2565.5 2689.8 2566.2 2681.8 2570.4 2677.4C2574.5 2672.9 2573.8 2669.8 2582.8 2667C2591.8 2664.2 2610.4 2663.9 2624.2 2660.8C2638 2657.7 2653.9 2653.2 2665.6 2648.4C2677.3 2643.5 2688 2636.6 2694.6 2631.8C2701.1 2627 2704.2 2624.9 2704.9 2619.4C2705.6 2613.9 2695.6 2604.9 2698.7 2598.7C2701.8 2592.5 2715.3 2586.3 2723.5 2582.1C2731.8 2578 2738 2578 2748.4 2573.9C2758.7 2569.7 2778.4 2562.1 2785.6 2557.3C2792.9 2552.5 2784.3 2550.4 2791.8 2544.9C2799.4 2539.4 2821.9 2530.4 2831.2 2524.2C2840.5 2518 2844.6 2513.8 2847.7 2507.6C2850.8 2501.4 2850.5 2493.8 2849.8 2486.9C2849.1 2480 2846.3 2471.8 2843.6 2466.2C2840.8 2460.7 2833.9 2458 2833.2 2453.8C2832.5 2449.7 2834.3 2445.5 2839.4 2441.4C2844.6 2437.3 2860.1 2431 2864.3 2429" stroke-width="2.5"/><path d="M2553.8 2515.9C2556.6 2525.6 2564.9 2561.8 2570.4 2573.9C2575.9 2585.9 2578.7 2585.6 2586.9 2588.4C2595.2 2591.1 2609 2592.1 2620 2590.4C2631.1 2588.7 2645.9 2582.5 2653.2 2578C2660.4 2573.5 2661.8 2565.9 2663.5 2563.5" stroke-width="2.5"/><path d="M2647 2515.9L2659.4 2559.4" stroke-width="2.5"/><path d="M2597.3 2613.2C2604.5 2611.8 2628 2609.4 2640.7 2604.9C2653.5 2600.4 2666.3 2591.5 2673.9 2586.3C2681.5 2581.1 2687 2578.3 2686.3 2573.9C2685.6 2569.4 2664.2 2567.7 2669.7 2559.4C2675.2 2551.1 2711.1 2530.1 2719.4 2524.2" stroke-width="2.5"/><path d="M2686.3 2573.9L2698.7 2598.7" stroke-width="2.5"/><path d="M2562.1 2611.1L2582.8 2667" stroke-width="2.5"/><path d="M2694.6 2578L2719.4 2565.6" stroke-width="2.5"/><path d="M2707 2538.7C2710.8 2541.4 2724.9 2549.4 2729.7 2555.2C2734.6 2561.1 2734.9 2570.8 2736 2573.9" stroke-width="2.5"/><path d="M2690.4 2480.7L2702.8 2528.3" stroke-width="2.5"/><path d="M2773.2 2486.9C2775.3 2492.5 2782.5 2510.7 2785.6 2520C2788.7 2529.4 2790.8 2539 2791.8 2542.8" stroke-width="2.5"/><path d="M2793.9 2520C2799.4 2517.3 2818.7 2509.7 2827 2503.5C2835.3 2497.3 2840.8 2486.2 2843.6 2482.8" stroke-width="2.5"/><path d="M2798.1 2499.4C2801.5 2497.6 2815.3 2492.1 2818.7 2489C2822.2 2485.9 2818.7 2482.1 2818.7 2480.7" stroke-width="2.5"/><path d="M2776.5 2451.7L2781.5 2493.1" stroke-width="2.5"/><path d="M2500 2482.8L2549.7 2509.7" stroke-width="2.5"/><path d="M2562.1 2509.7L2607.6 2518" stroke-width="2.5"/><path d="M2500 2544.9C2503.4 2546.3 2514.5 2547.6 2520.7 2553.2C2526.9 2558.7 2532.1 2568.3 2537.3 2578C2542.4 2587.7 2549.3 2605.6 2551.7 2611.1" stroke-width="2.5"/><path d="M2500 2520L2524.8 2507.6" stroke-width="2.5"/><path d="M2524.8 2561.4L2541.4 2582.1" stroke-width="3.5"/><path d="M2500 2677.4C2501.7 2678.7 2507.6 2681.5 2510.3 2685.6C2513.1 2689.8 2515.5 2699.4 2516.6 2702.2" stroke-width="2.5"/></g>
<g id="p_cable"><path d="M1073.7 3128.6C1071.9 3140.4 1066.6 3151.8 1060.9 3156.9C1055.3 3162.1 1047.5 3164 1039.6 3159.3C1031.8 3154.6 1022.3 3144.7 1013.6 3128.6C1004.9 3112.4 993.9 3085.2 987.6 3062.3C981.3 3039.5 978.9 3015 975.8 2991.4C972.6 2967.7 971.8 2940.9 968.7 2920.4C965.5 2899.9 960.8 2884.1 956.8 2868.4C952.9 2852.6 947 2832.9 945 2825.8" stroke-width="39" stroke-linecap="butt"/><path d="M1073.7 3128.6C1071.9 3140.4 1066.6 3151.8 1060.9 3156.9C1055.3 3162.1 1047.5 3164 1039.6 3159.3C1031.8 3154.6 1022.3 3144.7 1013.6 3128.6C1004.9 3112.4 993.9 3085.2 987.6 3062.3C981.3 3039.5 978.9 3015 975.8 2991.4C972.6 2967.7 971.8 2940.9 968.7 2920.4C965.5 2899.9 960.8 2884.1 956.8 2868.4C952.9 2852.6 947 2832.9 945 2825.8" stroke="#fff" stroke-width="33" stroke-linecap="butt"/><path d="M893 2875.5C901.7 2876.8 926.9 2874 945 2883.5C963.2 2893 984.4 2910.3 1001.8 2932.2C1019.1 2954.1 1037.4 2989.4 1049.1 3015C1060.8 3040.6 1067.7 3067.1 1071.8 3086C1075.9 3104.9 1075.5 3116.7 1073.7 3128.6C1071.9 3140.4 1066.6 3151.8 1060.9 3156.9C1055.3 3162.1 1047.5 3164 1039.6 3159.3C1031.8 3154.6 1022.3 3144.7 1013.6 3128.6C1004.9 3112.4 993.9 3085.2 987.6 3062.3" stroke-width="39" stroke-linecap="butt"/><path d="M893 2875.5C901.7 2876.8 926.9 2874 945 2883.5C963.2 2893 984.4 2910.3 1001.8 2932.2C1019.1 2954.1 1037.4 2989.4 1049.1 3015C1060.8 3040.6 1067.7 3067.1 1071.8 3086C1075.9 3104.9 1075.5 3116.7 1073.7 3128.6C1071.9 3140.4 1066.6 3151.8 1060.9 3156.9C1055.3 3162.1 1047.5 3164 1039.6 3159.3C1031.8 3154.6 1022.3 3144.7 1013.6 3128.6C1004.9 3112.4 993.9 3085.2 987.6 3062.3" stroke="#fff" stroke-width="33" stroke-linecap="butt"/><path d="M570.3 2541.9C569.7 2538 569.7 2529.7 566.5 2518.3C563.4 2506.8 557.6 2485 551.4 2473.3C545.3 2461.7 537.4 2453.5 529.6 2448.3C521.9 2443 516.6 2441.7 505 2441.6C493.5 2441.6 475.1 2443.8 460.1 2447.8C445.1 2451.7 427.2 2457.3 415.2 2465.3C403.1 2473.3 393.2 2484.4 387.7 2495.6C382.2 2506.8 380.2 2518.6 382 2532.5C383.9 2546.3 388 2563.1 398.6 2578.8C409.2 2594.6 425.8 2609.7 445.9 2627.1C466 2644.4 494 2664 519.2 2682.9C544.5 2701.8 572.1 2721.9 597.3 2740.6C622.5 2759.3 648.5 2780.2 670.6 2795C692.7 2809.9 712 2820.9 729.8 2829.6C747.5 2838.2 760.1 2843.1 777.1 2847.1C794 2851 814.5 2851.7 831.5 2853.2C848.4 2854.7 870.9 2855.6 878.8 2856.1" stroke-width="40" stroke-linecap="butt"/><path d="M570.3 2541.9C569.7 2538 569.7 2529.7 566.5 2518.3C563.4 2506.8 557.6 2485 551.4 2473.3C545.3 2461.7 537.4 2453.5 529.6 2448.3C521.9 2443 516.6 2441.7 505 2441.6C493.5 2441.6 475.1 2443.8 460.1 2447.8C445.1 2451.7 427.2 2457.3 415.2 2465.3C403.1 2473.3 393.2 2484.4 387.7 2495.6C382.2 2506.8 380.2 2518.6 382 2532.5C383.9 2546.3 388 2563.1 398.6 2578.8C409.2 2594.6 425.8 2609.7 445.9 2627.1C466 2644.4 494 2664 519.2 2682.9C544.5 2701.8 572.1 2721.9 597.3 2740.6C622.5 2759.3 648.5 2780.2 670.6 2795C692.7 2809.9 712 2820.9 729.8 2829.6C747.5 2838.2 760.1 2843.1 777.1 2847.1C794 2851 814.5 2851.7 831.5 2853.2C848.4 2854.7 870.9 2855.6 878.8 2856.1" stroke="#fff" stroke-width="34" stroke-linecap="butt"/><path d="M545.3 2525.4L587.8 2512.6L606.8 2579.8L564.2 2593Z" fill="#fff"/><path d="M545.3 2541.9L589.3 2530.1L592.6 2544.3L550 2558.5Z" fill="#fff"/><path d="M568.9 2541.9L573.6 2556.1"/><path d="M561.8 2593C562.2 2597.9 563.4 2613.5 564.2 2622.4C565 2631.2 563 2639.3 566.5 2646C570.1 2652.7 579.6 2661 585.5 2662.6C591.4 2664.1 598.9 2660.6 602 2655.5C605.2 2650.3 606 2639.7 604.4 2631.8C602.8 2623.9 595.7 2615.3 592.6 2608.2C589.4 2601.1 586.7 2592.4 585.5 2589.2" fill="#fff"/><path d="M583.1 2591.6C583.9 2594.4 584.9 2601.5 587.8 2608.2C590.8 2614.9 598.5 2627.9 600.6 2631.8" stroke-width="2.6"/><ellipse cx="583.1" cy="2636.5" rx="12" ry="15" transform="rotate(-15 583.1 2636.5)" stroke-width="3"/><ellipse cx="585.1" cy="2636.5" rx="8" ry="11" transform="rotate(-15 585.1 2636.5)" stroke-width="2.6"/><path d="M871.7 2874.5C872.5 2869.2 874.5 2856.4 878.8 2851.8C883.1 2847.2 891.4 2844.7 897.7 2847.1C904 2849.4 915.5 2857.3 916.6 2866C917.8 2874.7 911.9 2896.2 904.8 2899.1C897.7 2902 879.6 2887.6 874.1 2883.5C868.5 2879.4 870.9 2879.8 871.7 2874.5Z" fill="#fff"/><path d="M897.7 2847.1L916.6 2866"/><path d="M916.6 2866C915.5 2868.8 911.5 2877 909.5 2882.6C907.6 2888.1 905.6 2896.4 904.8 2899.1" stroke-width="2.6"/><path d="M883.5 2840L883.5 2821.1L954.5 2782.3L969.6 2790.3L971 2811.6L959.2 2828.1L921.4 2849.4L897.7 2847.1Z" fill="#fff"/><path d="M890.6 2825.8L956.8 2788.9" stroke-width="2.6"/><path d="M890.6 2825.8L890.6 2844.7" stroke-width="2.6"/><path d="M897.7 2830.5L897.7 2847.1" stroke-width="2.6"/><ellipse cx="950.7" cy="2810.6" rx="10" ry="16" transform="rotate(15 950.7 2810.6)" stroke-width="3"/><ellipse cx="952.7" cy="2811.6" rx="6.5" ry="11" transform="rotate(15 952.7 2811.6)" stroke-width="2.6"/><path d="M651.7 2447.3L670.6 2534.8L689.6 2541.9L722.7 2518.3L700 2441.6Z" fill="#fff"/><ellipse cx="675.8" cy="2444.9" rx="24" ry="12" transform="rotate(-8 675.8 2444.9)" fill="#fff"/><ellipse cx="675.8" cy="2446.9" rx="19" ry="8.5" transform="rotate(-8 675.8 2446.9)" stroke-width="2.6"/><path d="M644.6 2546.7C647 2541.9 653.7 2538 661.2 2537.2C668.7 2536.4 679.3 2545.1 689.6 2541.9C699.8 2538.8 713.2 2521 722.7 2518.3C732.1 2515.5 740 2519.9 746.3 2525.4C752.6 2530.9 758.9 2543.1 760.5 2551.4C762.1 2559.7 766 2564.8 755.8 2575C745.5 2585.3 710.8 2607 699 2612.9C687.2 2618.8 691.1 2614.5 684.8 2610.5C678.5 2606.6 667.5 2596.7 661.2 2589.2C654.9 2581.7 649.7 2572.7 647 2565.6C644.2 2558.5 642.2 2551.4 644.6 2546.7Z" fill="#fff"/><path d="M651.7 2552.3C655.6 2547.2 677.6 2547.6 684.8 2553.8C692.1 2559.9 694 2580.6 695.2 2589.2C696.4 2597.9 694.4 2603.4 691.9 2605.8C689.4 2608.2 685.2 2607 680.1 2603.4C675 2599.9 665.9 2593 661.2 2584.5C656.4 2576 647.8 2557.5 651.7 2552.3Z" stroke-width="3"/><path d="M689.6 2541.9C691.9 2548.2 702.2 2567.9 703.7 2579.8C705.3 2591.6 699.8 2607.4 699 2612.9" stroke-width="2.8"/><path d="M675.4 2594L693.3 2585.5" stroke-width="2.6"/><path d="M646 2550.4C652.1 2549.8 673.2 2541 682.5 2546.7C691.7 2552.3 698.2 2578.2 701.4 2584.5" stroke-width="2.6"/><path d="M1149 3754.8C1149 3759.7 1153.5 3770.6 1149 3784.4C1144.6 3798.2 1135.7 3816.9 1122.4 3837.6C1109.1 3858.3 1087.9 3891.8 1069.2 3908.6C1050.5 3925.3 1025.8 3932.4 1010.1 3938.1C994.3 3943.9 980.5 3942.1 974.6 3942.9"/><path d="M891.8 3920.4L974.6 3950L998.2 3941.1"/><path d="M974.6 3950L974.6 3941.1"/><path d="M906.6 3870.1L918.4 3861.3L986.4 3890.8L992.3 3884.9L1001.2 3889.7" stroke-width="2.6"/><path d="M906.6 3870.1L909.5 3884.9L968.7 3903.8L992.3 3892" stroke-width="2.6"/><path d="M398 3553.8C406.4 3559.7 430 3575.4 448.3 3589.2C466.5 3603 485.7 3622.7 507.4 3636.5C529.1 3650.3 554.7 3661.2 578.4 3672C602 3682.9 627.7 3689.8 649.3 3701.6C671 3713.4 688.8 3727.2 708.5 3743C728.2 3758.8 746.9 3777.5 767.6 3796.2C788.3 3814.9 812.9 3837.6 832.7 3855.4C852.4 3873.1 868.1 3890.3 885.9 3902.7C903.6 3915 923.3 3925.3 939.1 3929.3C954.9 3933.2 965.7 3931.7 980.5 3926.3C995.3 3920.9 1013 3909.6 1027.8 3896.7C1042.6 3883.9 1056.4 3867.2 1069.2 3849.4C1082 3831.7 1096.3 3806.1 1104.7 3790.3C1113.1 3774.5 1117 3760.7 1119.5 3754.8" stroke-width="34" stroke-linecap="butt"/><path d="M398 3553.8C406.4 3559.7 430 3575.4 448.3 3589.2C466.5 3603 485.7 3622.7 507.4 3636.5C529.1 3650.3 554.7 3661.2 578.4 3672C602 3682.9 627.7 3689.8 649.3 3701.6C671 3713.4 688.8 3727.2 708.5 3743C728.2 3758.8 746.9 3777.5 767.6 3796.2C788.3 3814.9 812.9 3837.6 832.7 3855.4C852.4 3873.1 868.1 3890.3 885.9 3902.7C903.6 3915 923.3 3925.3 939.1 3929.3C954.9 3933.2 965.7 3931.7 980.5 3926.3C995.3 3920.9 1013 3909.6 1027.8 3896.7C1042.6 3883.9 1056.4 3867.2 1069.2 3849.4C1082 3831.7 1096.3 3806.1 1104.7 3790.3C1113.1 3774.5 1117 3760.7 1119.5 3754.8" stroke="#fff" stroke-width="28" stroke-linecap="butt"/><path d="M1089.9 3766.6C1094.3 3767.8 1110.1 3773.3 1116.5 3773.7C1122.9 3774.2 1126.4 3770.3 1128.3 3769.6" stroke-width="2.6"/><path d="M1125.4 3778.5C1122.9 3786.4 1119 3808 1110.6 3825.8C1102.2 3843.5 1081 3875.1 1075.1 3884.9" stroke-width="2.4"/><path d="M353.7 3541.9C355.1 3535.7 361.5 3523.7 368.4 3521.2C375.3 3518.8 387.7 3524.2 395.1 3527.1C402.4 3530.1 413.8 3531.1 412.8 3539C411.8 3546.9 398 3571.2 389.1 3574.5C380.3 3577.7 365.5 3563.9 359.6 3558.5C353.7 3553.1 352.2 3548.1 353.7 3541.9Z" fill="#fff"/><path d="M412.8 3539C409.8 3541.4 399 3547.8 395.1 3553.8C391.1 3559.7 390.1 3571 389.1 3574.5" stroke-width="2.6"/><path d="M371.4 3518.3L371.4 3497.6L436.4 3458L451.2 3462.1L455.4 3482.8L442.4 3506.4L401 3527.1L389.1 3525.4Z" fill="#fff"/><path d="M376.1 3501.7L439.4 3462.1" stroke-width="2.6"/><ellipse cx="435.3" cy="3488.7" rx="10.5" ry="15" transform="rotate(15 435.3 3488.7)" stroke-width="3"/><ellipse cx="437.3" cy="3489.7" rx="7" ry="10" transform="rotate(15 437.3 3489.7)" stroke-width="2.6"/><path d="M995.3 3562.6L1048.5 3531.3L1063.3 3536L1122.4 3571.5L1149 3601.1L1149 3754.8L1140.2 3766.6L1116.5 3772.6L1092.9 3766.6L1084 3754.8L1084 3689.8L995.3 3636.5Z" fill="#fff"/><path d="M995.3 3562.6C1008.6 3570 1054.9 3597.8 1075.1 3607C1095.3 3616.1 1104.2 3618.6 1116.5 3617.6C1128.8 3616.6 1143.6 3603.8 1149 3601.1"/><path d="M1063.3 3609.9L1063.3 3677.9"/><path d="M1063.3 3677.9C1066.7 3679.9 1078.1 3684.8 1084 3689.8C1089.9 3694.7 1096.3 3704.6 1098.8 3707.5"/><path d="M1072.2 3686.8L1072.2 3719.3L1084 3722.3" stroke-width="2.6"/><path d="M1078.1 3689.8L1078.1 3719.3" stroke-width="2.6"/></g>
<g id="p_relay"><path d="M1702.1 3176.1L1773.1 3135.2L1855.9 3181.6L1855.9 3201L1795.6 3234.1L1727 3218.7L1708.1 3209.2L1702.1 3202.1Z" fill="#fff"/><path d="M1702.1 3176.1L1784.9 3221.1L1855.9 3181.6"/><path d="M1671.4 3281.4L1691 3271.5L1701 3276.7L1701 3305L1692.7 3303.9L1671.4 3293.2Z" fill="#fff"/><path d="M1671.4 3281.4L1692.7 3293.2" stroke-width="2.6"/><path d="M1693.9 3241.2C1696.4 3235.1 1752.9 3203.7 1756.6 3202.9C1760.2 3202 1787.2 3217.5 1786.1 3219.9C1785 3222.3 1731.8 3255.9 1729.3 3262.5C1726.9 3269 1725.8 3380.1 1724.6 3384.3C1723.4 3388.5 1699.8 3367.7 1698.6 3366.5C1697.4 3365.4 1694.1 3359.7 1693.9 3354.7C1693.7 3349.7 1691.4 3247.3 1693.9 3241.2Z" fill="#fff"/><path d="M1701 3243.5L1728.2 3258.9" stroke-width="2.6"/><path d="M1709.2 3223.4C1707.1 3224.4 1700 3225.6 1696.2 3229.3C1692.5 3233.1 1688.3 3240.4 1686.8 3245.9C1685.2 3251.4 1685.7 3258.5 1686.8 3262.5C1687.9 3266.4 1692.3 3268.4 1693.4 3269.6" stroke-width="2.8"/><path d="M1711.6 3227C1709.6 3228.2 1702.7 3230.5 1699.8 3234.1C1696.8 3237.6 1694.1 3244.1 1693.9 3248.3C1693.7 3252.4 1696.4 3258.1 1698.6 3258.9C1700.8 3259.7 1705.5 3254 1706.9 3253" stroke-width="2.6"/><path d="M1692.7 3307.4C1691.5 3309.4 1686.6 3314.9 1685.6 3319.2C1684.6 3323.6 1685.5 3329.9 1686.8 3333.4C1688.1 3337 1692.3 3339.3 1693.4 3340.5" stroke-width="2.8"/><path d="M1710 3300.8C1708.1 3301.3 1701.4 3301.2 1698.6 3303.9C1695.8 3306.5 1693.4 3313 1693.4 3316.9C1693.4 3320.7 1696.5 3325.8 1698.6 3326.8C1700.7 3327.8 1704.9 3323.5 1706.2 3322.8" stroke-width="2.6"/><path d="M1723.4 3378.4C1723.2 3371.5 1721.4 3289.4 1721.8 3281.4C1722.2 3273.3 1727.6 3260.5 1729.3 3257.7C1731.1 3255 1741 3244.1 1748.3 3240C1755.5 3235.9 1831.7 3199 1838.2 3196.2C1844.6 3193.5 1844.9 3197.7 1845.3 3198.6C1845.7 3199.5 1851.5 3198 1844.1 3210.4C1836.7 3222.8 1742 3372.6 1734.1 3384.3C1726.2 3395.9 1726.5 3385.4 1725.8 3385C1725.1 3384.6 1723.7 3385.3 1723.4 3378.4Z" fill="#fff"/><path d="M1730.5 3373.6C1730.4 3368.6 1730.3 3287 1730.5 3281.4C1730.8 3275.8 1734.1 3263.1 1735.3 3261.3C1736.4 3259.5 1748 3247.8 1753 3244.7C1758 3241.6 1831.3 3202 1835.8 3199.8C1840.3 3197.5 1837.3 3196.7 1842.9 3199.8C1848.5 3202.9 1941.2 3257.9 1947 3261.3C1952.7 3264.7 1957 3266.2 1957.6 3267.2C1958.3 3268.2 1959.9 3276.4 1960 3281.4C1960.1 3286.4 1960.3 3361.3 1960 3366.5C1959.7 3371.8 1955 3383.9 1954.1 3385.5C1953.2 3387 1947.3 3394.3 1942.2 3397.3C1937.2 3400.3 1857.3 3443.4 1852.4 3445.8C1847.4 3448.2 1848.8 3447.8 1842.9 3444.6C1837 3441.4 1739.7 3385.5 1734.1 3381.9C1728.5 3378.4 1730.7 3378.7 1730.5 3373.6Z" fill="#fff"/><path d="M1842.9 3444.6C1842.7 3444 1839.6 3442.4 1839.3 3435.1C1839.1 3427.9 1839 3343.4 1839.3 3335.8C1839.7 3328.2 1842.9 3323.3 1844.1 3321.6C1845.3 3319.9 1850.2 3315 1857.1 3311C1863.9 3306.9 1941 3264.6 1947 3261.3"/><path d="M1754.2 3271.9L1822.8 3312.1" stroke-width="2.6"/><path d="M1753.5 3311.7L1757.3 3311.7" stroke-width="2"/><path d="M1853.5 3336.5L1857.1 3336.5" stroke-width="2"/><path d="M1504.5 3277.7L1528.5 3268.2L1544.4 3280.4L1523.1 3292.6Z" fill="#fff" stroke-width="2.8"/><path d="M1536.4 3259.1L1557.7 3251.1L1573.7 3262.8L1555.1 3275.1Z" fill="#fff" stroke-width="2.8"/><path d="M1456.6 3259.1C1456.9 3256.8 1456.1 3252.7 1461.9 3248.5C1467.8 3244.2 1508.8 3219.6 1515.2 3216.5C1521.5 3213.5 1521.5 3215.6 1525.8 3218.1C1530.1 3220.6 1554.5 3238.2 1557.7 3241.5C1560.9 3244.8 1563.6 3246.3 1557.7 3251.1C1551.9 3255.9 1506 3285.8 1499.2 3289.4C1492.4 3293.1 1493.6 3289.1 1489.6 3287.3C1485.6 3285.5 1462.6 3274.2 1459.3 3271.3C1456 3268.5 1456.3 3261.4 1456.6 3259.1Z" fill="#fff" stroke-width="3"/><path d="M1467.3 3253.8L1517.8 3223.4L1549.8 3245.8" stroke-width="2.6"/><path d="M1467.3 3253.8L1468.3 3264.4L1496.5 3282L1498.1 3271.3L1469.9 3256.4" stroke-width="2.6"/><path d="M1498.1 3271.3L1549.8 3245.8" stroke-width="2.6"/><path d="M1475.2 3264.4L1493.9 3275.6" stroke-width="4"/><path d="M1461.9 3251.1L1509.8 3221.9" stroke-width="2.6"/><path d="M1519.4 3385.8L1543.4 3376.2L1559.3 3388.4L1538 3400.7Z" fill="#fff" stroke-width="2.8"/><path d="M1551.3 3367.1L1572.6 3359.2L1588.6 3370.9L1570 3383.1Z" fill="#fff" stroke-width="2.8"/><path d="M1471.5 3367.1C1471.8 3364.9 1471 3360.8 1476.8 3356.5C1482.7 3352.2 1523.7 3327.6 1530.1 3324.6C1536.4 3321.5 1536.4 3323.7 1540.7 3326.2C1545 3328.7 1569.4 3346.3 1572.6 3349.6C1575.8 3352.9 1578.5 3354.4 1572.6 3359.2C1566.8 3364 1520.9 3393.9 1514.1 3397.5C1507.3 3401.1 1508.5 3397.2 1504.5 3395.4C1500.5 3393.5 1477.5 3382.2 1474.2 3379.4C1470.9 3376.6 1471.2 3369.4 1471.5 3367.1Z" fill="#fff" stroke-width="3"/><path d="M1482.2 3361.8L1532.7 3331.5L1564.7 3353.8" stroke-width="2.6"/><path d="M1482.2 3361.8L1483.2 3372.5L1511.4 3390L1513 3379.4L1484.8 3364.5" stroke-width="2.6"/><path d="M1513 3379.4L1564.7 3353.8" stroke-width="2.6"/><path d="M1490.1 3372.5L1508.8 3383.6" stroke-width="4"/><path d="M1476.8 3359.2L1524.7 3329.9" stroke-width="2.6"/><path d="M1978.2 3416.1C1978.8 3410 1983.2 3398.7 1988.8 3394.8C1994.4 3391 2082.9 3340.7 2090 3338.9C2097 3337.1 2127.1 3358 2129.9 3358.6C2132.7 3359.3 2140.7 3350.1 2145.8 3352.2C2151 3354.4 2229.3 3391.6 2233.7 3401.2C2238.1 3410.8 2239 3533.7 2233.7 3543.8C2228.3 3554 2134.4 3601.5 2127.2 3605.1C2120 3608.6 2096.3 3617.7 2090 3615.7C2083.6 3613.7 2005 3568.9 2000.5 3565.1C1996.1 3561.4 2001.4 3542.8 2000.5 3541.2C1999.7 3539.6 1984.7 3534.4 1983.5 3533.2C1982.3 3532 1977.4 3523.1 1977.1 3517.2C1976.9 3511.4 1977.6 3422.2 1978.2 3416.1Z" fill="#fff"/><path d="M2000.5 3565.1L2000.5 3474.7L2016.5 3429.4L2108.6 3482.6L2092.6 3517.2L2090 3615.7"/><path d="M2000.5 3474.7L2092.6 3525.2"/><path d="M2108.6 3482.6C2109.5 3481.6 2113.6 3472.1 2121.9 3466.7C2130.2 3461.2 2226.2 3405.6 2233.7 3401.2"/><path d="M2217.7 3461.4L2223 3461.4L2223 3527.9L2217.7 3527.9Z" stroke-width="2.4"/><path d="M2097.9 3530.5L2102.2 3530.5L2102.2 3597.1L2097.9 3597.1Z" stroke-width="2.4"/></g>
<g id="p_bracket"><path d="M2859.5 3454.5C2862.9 3451.3 2908.3 3423.7 2913.3 3421.4C2918.3 3419.1 2931.2 3418.5 2934 3419.3C2936.8 3420.2 2949.5 3426.2 2954.7 3433.8C2959.9 3441.4 3008.5 3522.4 3012.7 3533.2C3016.8 3543.9 3017.1 3588.4 3016.8 3595.3C3016.5 3602.2 3010.5 3632 3008.5 3636.7C3006.6 3641.3 2990.9 3663 2987.8 3665.6C2984.8 3668.3 2965.7 3676 2963 3676C2960.2 3676 2947.8 3668.3 2946.4 3665.6C2945 3663 2943.1 3638.4 2942.3 3636.7C2941.5 3634.9 2934.6 3636.8 2934 3638.7C2933.5 3640.7 2941.7 3659.6 2934 3665.6C2926.3 3671.7 2826.4 3725.4 2818.1 3729.8C2809.8 3734.2 2815.6 3734.8 2809.8 3731.9C2804 3729 2735.9 3689.5 2731.2 3686.3C2726.5 3683.2 2733.9 3681.8 2739.4 3684.3C2745 3686.7 2808.7 3722.1 2814 3723.6C2819.2 3725.1 2815.9 3710.1 2818.1 3707C2820.3 3704 2844.6 3682.2 2847.1 3678.1C2849.6 3673.9 2855.1 3649.1 2855.4 3644.9C2855.6 3640.8 2852.2 3619 2851.2 3616C2850.2 3612.9 2841.1 3601.1 2840.9 3599.4C2840.6 3597.7 2843.3 3593.6 2847.1 3591.1C2850.8 3588.6 2893 3565.2 2896.8 3562.1C2900.5 3559.1 2905.3 3551.8 2903 3545.6C2900.6 3539.4 2864.5 3475.1 2861.6 3469C2858.7 3462.9 2856 3457.7 2859.5 3454.5Z" fill="#fff" stroke-width="3"/><path d="M2857.4 3616L3012.7 3534" stroke-width="2.6"/><path d="M2865.7 3456.6C2868.5 3462.5 2904.9 3538.3 2907.1 3545.6C2909.3 3552.9 2902.5 3563.1 2898.8 3566.3C2895.1 3569.5 2854.7 3590.8 2851.2 3593.2C2847.7 3595.5 2846 3600 2846.2 3601.5C2846.5 3603 2854.5 3613.1 2855.4 3616C2856.2 3618.9 2859.8 3640.7 2859.5 3644.9C2859.2 3649.2 2853.7 3675.8 2851.2 3680.1C2848.7 3684.4 2824.4 3705.9 2822.2 3709.1C2820.1 3712.3 2819.1 3726.5 2818.9 3727.7" stroke-width="2.4"/><path d="M2880.2 3512.5C2880.2 3514.7 2879.5 3542.5 2880.2 3545.6C2880.9 3548.6 2889.9 3557.2 2890.5 3558" stroke-width="2.6"/><path d="M2909.2 3547.7C2909.6 3548.2 2915.1 3555 2915.4 3555.9C2915.7 3556.9 2913.4 3561.7 2913.3 3562.1" stroke-width="2.4"/><ellipse cx="2926.6" cy="3462.8" rx="12.4" ry="14.5" fill="#fff" stroke-width="3"/><ellipse cx="2928.1" cy="3463.8" rx="9.9" ry="12" stroke-width="2.4"/><ellipse cx="2981.6" cy="3630.4" rx="12.4" ry="19.5" transform="rotate(25 2981.6 3630.4)" fill="#fff" stroke-width="3"/><ellipse cx="2983.1" cy="3631.4" rx="9.9" ry="17" transform="rotate(25 2983.1 3631.4)" stroke-width="2.4"/><path d="M2708.4 3570.4C2710.7 3568 2739.3 3536.6 2743.6 3534C2747.9 3531.4 2770.4 3530.7 2772.6 3531.1C2774.8 3531.5 2776.7 3538.4 2776.7 3539.4C2776.7 3540.3 2772.8 3540.8 2772.6 3545.6C2772.3 3550.4 2771.7 3606.8 2772.6 3611.8C2773.4 3616.8 2783.3 3619.8 2785 3620.1C2786.6 3620.4 2794.4 3617.6 2797.4 3616C2800.4 3614.3 2829.1 3597.7 2830.5 3595.3C2831.9 3592.8 2819.1 3583.7 2818.1 3578.7C2817.1 3573.7 2816.4 3525.2 2816 3520.7C2815.6 3516.3 2810 3515.5 2811.9 3512.5C2813.8 3509.4 2841.8 3477.8 2845 3475.2C2848.2 3472.6 2858.5 3473.3 2859.5 3473.1" stroke-width="3"/><path d="M2713.4 3572.5C2715.5 3570.2 2741.8 3540.6 2745.7 3538.1C2749.5 3535.6 2768.8 3535.4 2770.5 3535.2" stroke-width="2.4"/><path d="M2817.3 3514.5C2819.3 3512.2 2844.3 3481.8 2847.1 3479.4C2849.9 3476.9 2858.7 3477.8 2859.5 3477.7" stroke-width="2.4"/><path d="M2822.2 3520.7C2822.3 3524.5 2822.3 3571.9 2823.1 3576.6C2823.8 3581.3 2833.1 3590.2 2833.8 3591.1" stroke-width="2.4"/><path d="M2708.4 3570.4C2708.7 3571 2712.1 3574.3 2712.5 3578.7C2713 3583.1 2713.6 3631.8 2714.6 3636.7C2715.6 3641.5 2726.5 3649.5 2727 3651.1C2727.6 3652.8 2726.8 3658.7 2722.9 3661.5C2719 3664.3 2672.9 3690.1 2669.1 3692.5C2665.2 3695 2664.7 3697.8 2664.9 3698.7C2665.2 3699.7 2671 3705.8 2673.2 3707C2675.4 3708.3 2695.7 3715.7 2698.1 3717.4C2700.4 3719 2708 3730.1 2708.4 3731.9C2708.8 3733.7 2704.9 3743.7 2704.3 3744.3C2703.6 3744.8 2698.5 3740.4 2698.1 3740.1" stroke-width="3"/><path d="M2718.7 3578.7C2718.9 3582.4 2720 3629.9 2720.8 3634.6C2721.6 3639.3 2730.5 3648.1 2731.2 3649.1" stroke-width="2.4"/><path d="M2722.9 3642.9L2830.5 3582.8" stroke-width="2.6"/><path d="M2828.4 3580.8L2880.2 3553.9" stroke-width="2.6"/><path d="M2710.5 3717.4L2737.4 3702.9" stroke-width="2.6"/><ellipse cx="2823.1" cy="3651.1" rx="19.5" ry="11.6" transform="rotate(-10 2823.1 3651.1)" fill="#fff" stroke-width="3"/><ellipse cx="2824.6" cy="3652.1" rx="17" ry="9.1" transform="rotate(-10 2824.6 3652.1)" stroke-width="2.4"/><ellipse cx="2799.5" cy="3680.1" rx="14.9" ry="8.3" transform="rotate(-10 2799.5 3680.1)" fill="#fff" stroke-width="3"/><ellipse cx="2801" cy="3681.1" rx="12.4" ry="5.8" transform="rotate(-10 2801 3681.1)" stroke-width="2.4"/><path d="M2671.1 3707L2671.1 3740.1" stroke-width="2.6"/><path d="M2559.4 3653.2C2560.2 3650.2 2566.5 3648.5 2567.7 3649.1C2568.8 3649.6 2569.4 3657.6 2575.9 3661.5C2582.4 3665.4 2658.7 3703.4 2664.9 3707C2671.1 3710.6 2670.2 3713.7 2669.1 3715.3C2668 3717 2650.9 3729.9 2648.4 3731.9C2645.9 3733.8 2634 3743 2631.8 3744.3C2629.6 3745.5 2619.4 3751.5 2615.3 3750.5C2611.1 3749.5 2573.4 3731.9 2569.7 3729.8C2566 3727.7 2560.3 3721.8 2559.4 3719.4C2558.4 3717.1 2555.2 3699 2555.2 3694.6C2555.2 3690.2 2558.5 3656.2 2559.4 3653.2Z" fill="#fff" stroke-width="3"/><path d="M2565.6 3655.3C2566 3656 2565.4 3661.9 2571.8 3665.6C2578.1 3669.4 2654.9 3708.1 2660.8 3711.2" stroke-width="2.4"/><ellipse cx="2586.3" cy="3702.9" rx="12.4" ry="18.2" transform="rotate(-20 2586.3 3702.9)" fill="#fff" stroke-width="3"/><ellipse cx="2587.8" cy="3703.9" rx="9.9" ry="15.7" transform="rotate(-20 2587.8 3703.9)" stroke-width="2.4"/><ellipse cx="2626.8" cy="3725.7" rx="9.5" ry="13.7" transform="rotate(-20 2626.8 3725.7)" fill="#fff" stroke-width="3"/><ellipse cx="2628.3" cy="3726.7" rx="7" ry="11.2" transform="rotate(-20 2628.3 3726.7)" stroke-width="2.4"/><path d="M2435.2 3723.6C2435.7 3723.4 2442.2 3721 2443.5 3721.5C2444.7 3722.1 2447.6 3728 2453.8 3731.9C2460 3735.7 2530.7 3776.8 2536.6 3779.5C2542.5 3782.1 2541.4 3771.7 2542.8 3771.2C2544.2 3770.6 2555.5 3771.5 2557.3 3771.2C2559.1 3770.9 2568.2 3766.9 2569.7 3767.1C2571.2 3767.2 2572.1 3777 2580.1 3773.3C2588.1 3769.5 2681.9 3714.9 2689.8 3711.2C2697.6 3707.4 2696.8 3716 2698.1 3717.4C2699.3 3718.8 2708 3730.1 2708.4 3731.9C2708.8 3733.7 2704.9 3744 2704.3 3744.3C2703.6 3744.6 2699 3736.7 2698.1 3736C2697.1 3735.3 2696.1 3730.9 2689.8 3733.9C2683.4 3737 2609.3 3777.7 2602.8 3781.5C2596.4 3785.4 2593 3789.4 2592.5 3791.9C2591.9 3794.4 2594 3816.5 2594.6 3818.8C2595.1 3821.1 2595.7 3827.5 2600.8 3827.1C2605.9 3826.7 2666 3812.6 2671.1 3812.6C2676.2 3812.6 2673.4 3823.8 2677.4 3827.1C2681.4 3830.4 2724.3 3861.7 2731.2 3862.3C2738.1 3862.8 2777.4 3837.7 2780.8 3835.4C2784.3 3833 2786.2 3829.7 2782.9 3827.1C2779.6 3824.5 2734.8 3800.2 2731.2 3796C2727.6 3791.9 2728.3 3770.6 2729.1 3765C2729.9 3759.3 2742.8 3715.6 2743.6 3711.2C2744.4 3706.8 2742.5 3700.3 2741.5 3698.7C2740.6 3697.2 2729.5 3689.4 2729.1 3688.4C2728.7 3687.4 2734.9 3684.5 2735.3 3684.3" stroke-width="3"/><path d="M2435.2 3723.6C2434.9 3725.5 2430.8 3747.5 2431 3752.6C2431.3 3757.7 2438.1 3796.9 2439.3 3800.2C2440.6 3803.5 2443.2 3798.7 2449.7 3802.2C2456.2 3805.8 2530.7 3849.8 2536.6 3854C2542.5 3858.1 2537.7 3863.4 2538.7 3864.3C2539.6 3865.3 2549 3868.7 2551.1 3868.5C2553.2 3868.2 2567.7 3862.3 2569.7 3860.2C2571.8 3858.1 2580.2 3839.5 2582.1 3837.4C2584.1 3835.4 2597.6 3829.7 2598.7 3829.1" stroke-width="3"/><path d="M2441.4 3725.7C2442.1 3726.3 2445.5 3732.1 2451.7 3736C2458 3739.9 2529 3780.4 2534.5 3783.6" stroke-width="2.4"/><path d="M2582.1 3777.4L2689.8 3716.1" stroke-width="2.4"/><path d="M2597.9 3794C2598.4 3793.4 2600 3789.3 2606.2 3785.7C2612.3 3782 2684.2 3742.4 2689.8 3739.3" stroke-width="2.4"/><path d="M2597.9 3794L2599.5 3818.8" stroke-width="2.4"/><path d="M2552.3 3779.5L2552.3 3864.3" stroke-width="2.6"/><path d="M2685.6 3818.8L2731.2 3794" stroke-width="2.6"/><path d="M2681.5 3829.1C2684.9 3831.1 2726.8 3857.8 2733.2 3858.1C2739.7 3858.4 2775.7 3834.9 2778.8 3833.3" stroke-width="2.4"/><ellipse cx="2462.9" cy="3773.3" rx="12.4" ry="18.2" transform="rotate(-20 2462.9 3773.3)" fill="#fff" stroke-width="3"/><ellipse cx="2464.4" cy="3774.3" rx="9.9" ry="15.7" transform="rotate(-20 2464.4 3774.3)" stroke-width="2.4"/><ellipse cx="2502.7" cy="3796" rx="9.9" ry="14.5" transform="rotate(-20 2502.7 3796)" fill="#fff" stroke-width="3"/><ellipse cx="2504.2" cy="3797" rx="7.5" ry="12" transform="rotate(-20 2504.2 3797)" stroke-width="2.4"/><ellipse cx="2742.8" cy="3825.8" rx="14.9" ry="8.3" transform="rotate(-5 2742.8 3825.8)" fill="#fff" stroke-width="3"/><ellipse cx="2744.3" cy="3826.8" rx="12.4" ry="5.8" transform="rotate(-5 2744.3 3826.8)" stroke-width="2.4"/></g>
<path d="M1426 163L1426 279"/><path d="M1132.6 525L1132.6 643"/><path d="M879 613L879 728.5"/><path d="M470.5 728.5L470.5 845"/><path d="M2911.4 692.6L2911.4 809"/><path d="M2859.4 965L2859.4 1088"/><path d="M2555.6 1142L2555.6 1257"/><path d="M2415.6 1217.6L2415.6 1333"/><path d="M2638.9 1274.4L2638.9 1389.8"/><path d="M2503.6 1350L2503.6 1465.5"/><path d="M2945.4 1094.6L2945.4 1208"/><path d="M191 1357.4L191 1471"/><path d="M1258.4 1268.4L1258.4 1379"/><path d="M1039.8 1549.4L1039.8 1665.8"/><path d="M1527 1778.4L1527 1894.8"/><path d="M567.7 2043.3L567.7 2160.6"/><path d="M451.3 2160.6L451.3 2431"/><path d="M683.1 2160.6L683.1 2242"/><path d="M683.1 2315.7L683.1 2433"/><path d="M915.9 2339.4L915.9 2452"/><path d="M1039.8 2407.5L1039.8 2525.8"/><path d="M196.8 3207L196.8 3317.8"/><path d="M322.6 3275.3L322.6 3391.6"/><path d="M2090 3221.3L2090 3338.7"/><path d="M2326.7 2783L2326.7 2896.7"/><path d="M2913.3 3306.5L2913.3 3419"/><path d="M815.6 3860L815.6 3977.3"/><path d="M1907.5 955.6L2025.8 955.6"/><path d="M451.3 2160.6L683.1 2160.6"/><path d="M1010.5 3289.5L1128.8 3289.5"/><path d="M1338.8 3261L1457 3261"/><path d="M1351 3367L1469.4 3367"/><circle cx="2759" cy="1170.3" r="42.6"/><circle cx="367.1" cy="2759.5" r="43.5"/><circle cx="668" cy="3490" r="42.6"/><circle cx="1527" cy="3541" r="42.6"/><path d="M2799.7 1146.7L2858.4 1111.6"/><path d="M2719.3 1194L2661.6 1225.2"/><path d="M408.7 2735.8L482.5 2694.2"/><path d="M541.2 2660L577 2641"/><path d="M1048.3 2558.9L1107 2593.9L842 2748L903.6 2783"/><path d="M963.2 2819L1668 3225"/><path d="M442.8 3488L541.2 3545L541.2 3417.2L631 3469.2"/><path d="M333 3433.3L389.8 3462.6"/><path d="M2150 1156.7L2754.8 809L3068.4 809L3068.4 1384.5L2326 1813"/><path d="M2074.8 1202.5L1399.4 1589.5L1399.4 2176.4L1698.4 2176.4L2252.8 1856.6"/><path d="M2092 1103.8L2222.3 1607.4" stroke-width="2.2"/><path d="M2267 1762L2372 2150" stroke-width="2.2"/><path d="M2404.2 1371.8L2219.7 1477.8"/><path d="M2165.8 1509L2182 1500"/><path d="M274.2 1452.2L640.8 1241.1"/><path d="M661.5 1228L685 1214.5"/><path d="M744.3 1182L768 1167"/><path d="M800.5 1149.4L930.6 1072.6"/><path d="M1459.4 3146L1128.8 3146L1128.8 3431.4L1599.3 3704.5L2328 3704.5"/><path d="M1605.6 3146L1644.2 3146L1644.2 3063.5L2328 3063.5L2328 3503"/><path d="M2328 3609L2328 3670.5"/><path d="M1568.8 3559.4L1634.9 3599L1634.9 3275.5L1680.9 3301.5"/><path d="M2219.7 3494.8L2539.5 3677.4"/>
<g class="t"><text transform="translate(2908.6 149.2) scale(0.835 1)">E</text><text transform="translate(2941 149.2) scale(0.835 1)">1</text><text transform="translate(2973.4 149.2) scale(0.835 1)">8</text><text transform="translate(3005.8 149.2) scale(0.835 1)">4</text><text transform="translate(3038.2 149.2) scale(0.835 1)">0</text><text transform="translate(1362 149.2) scale(0.835 1)">1</text><text transform="translate(1394.4 149.2) scale(0.835 1)">3</text><text transform="translate(1426.8 149.2) scale(0.835 1)">2</text><text transform="translate(1459.2 149.2) scale(0.835 1)">1</text><text transform="translate(1491.6 149.2) scale(0.835 1)">6</text><text transform="translate(1068.2 512.2) scale(0.835 1)">1</text><text transform="translate(1100.6 512.2) scale(0.835 1)">3</text><text transform="translate(1133 512.2) scale(0.835 1)">1</text><text transform="translate(1165.4 512.2) scale(0.835 1)">9</text><text transform="translate(1197.8 512.2) scale(0.835 1)">4</text><text transform="translate(812.7 599.2) scale(0.835 1)">9</text><text transform="translate(845.1 599.2) scale(0.835 1)">2</text><text transform="translate(877.5 599.2) scale(0.835 1)">0</text><text transform="translate(909.9 599.2) scale(0.835 1)">4</text><text transform="translate(942.3 599.2) scale(0.835 1)">8</text><text transform="translate(2848 677.7) scale(0.835 1)">2</text><text transform="translate(2880.4 677.7) scale(0.835 1)">1</text><text transform="translate(2912.8 677.7) scale(0.835 1)">1</text><text transform="translate(2945.2 677.7) scale(0.835 1)">6</text><text transform="translate(2977.6 677.7) scale(0.835 1)">3</text><text transform="translate(1759 973.7) scale(0.835 1)">9</text><text transform="translate(1791.4 973.7) scale(0.835 1)">2</text><text transform="translate(1823.8 973.7) scale(0.835 1)">1</text><text transform="translate(1856.2 973.7) scale(0.835 1)">5</text><text transform="translate(1888.6 973.7) scale(0.835 1)">4</text><text transform="translate(2778.4 950.2) scale(0.835 1)">9</text><text transform="translate(2810.8 950.2) scale(0.835 1)">2</text><text transform="translate(2843.2 950.2) scale(0.835 1)">2</text><text transform="translate(2875.6 950.2) scale(0.835 1)">0</text><text transform="translate(2908 950.2) scale(0.835 1)">0</text><text transform="translate(2940.4 950.2) scale(0.835 1)">A</text><text transform="translate(2489.9 1126.9) scale(0.835 1)">9</text><text transform="translate(2522.3 1126.9) scale(0.835 1)">2</text><text transform="translate(2554.7 1126.9) scale(0.835 1)">2</text><text transform="translate(2587.1 1126.9) scale(0.835 1)">1</text><text transform="translate(2619.5 1126.9) scale(0.835 1)">0</text><text transform="translate(2349.9 1204.5) scale(0.835 1)">9</text><text transform="translate(2382.3 1204.5) scale(0.835 1)">2</text><text transform="translate(2414.7 1204.5) scale(0.835 1)">2</text><text transform="translate(2447.1 1204.5) scale(0.835 1)">0</text><text transform="translate(2479.5 1204.5) scale(0.835 1)">0</text><text transform="translate(2574.6 1443.7) scale(0.835 1)">9</text><text transform="translate(2607 1443.7) scale(0.835 1)">2</text><text transform="translate(2639.4 1443.7) scale(0.835 1)">2</text><text transform="translate(2671.8 1443.7) scale(0.835 1)">0</text><text transform="translate(2704.2 1443.7) scale(0.835 1)">0</text><text transform="translate(2423.5 1519.6) scale(0.835 1)">9</text><text transform="translate(2455.9 1519.6) scale(0.835 1)">2</text><text transform="translate(2488.3 1519.6) scale(0.835 1)">2</text><text transform="translate(2520.7 1519.6) scale(0.835 1)">0</text><text transform="translate(2553.1 1519.6) scale(0.835 1)">0</text><text transform="translate(2585.5 1519.6) scale(0.835 1)">A</text><text transform="translate(2882.1 1261.2) scale(0.835 1)">9</text><text transform="translate(2914.5 1261.2) scale(0.835 1)">2</text><text transform="translate(2946.9 1261.2) scale(0.835 1)">2</text><text transform="translate(2979.3 1261.2) scale(0.835 1)">1</text><text transform="translate(3011.7 1261.2) scale(0.835 1)">0</text><text transform="translate(109.7 1343.7) scale(0.835 1)">9</text><text transform="translate(142.1 1343.7) scale(0.835 1)">2</text><text transform="translate(174.5 1343.7) scale(0.835 1)">1</text><text transform="translate(206.9 1343.7) scale(0.835 1)">5</text><text transform="translate(239.3 1343.7) scale(0.835 1)">4</text><text transform="translate(271.7 1343.7) scale(0.835 1)">A</text><text transform="translate(1194.5 1435.2) scale(0.835 1)">1</text><text transform="translate(1226.9 1435.2) scale(0.835 1)">3</text><text transform="translate(1259.3 1435.2) scale(0.835 1)">1</text><text transform="translate(1291.7 1435.2) scale(0.835 1)">0</text><text transform="translate(1324.1 1435.2) scale(0.835 1)">7</text><text transform="translate(973.5 1718.9) scale(0.835 1)">5</text><text transform="translate(1005.9 1718.9) scale(0.835 1)">9</text><text transform="translate(1038.3 1718.9) scale(0.835 1)">0</text><text transform="translate(1070.7 1718.9) scale(0.835 1)">5</text><text transform="translate(1103.1 1718.9) scale(0.835 1)">1</text><text transform="translate(1462.2 1763.2) scale(0.835 1)">9</text><text transform="translate(1494.6 1763.2) scale(0.835 1)">2</text><text transform="translate(1527 1763.2) scale(0.835 1)">0</text><text transform="translate(1559.4 1763.2) scale(0.835 1)">5</text><text transform="translate(1591.8 1763.2) scale(0.835 1)">5</text><text transform="translate(499.5 2029.2) scale(0.835 1)">2</text><text transform="translate(531.9 2029.2) scale(0.835 1)">6</text><text transform="translate(564.3 2029.2) scale(0.835 1)">0</text><text transform="translate(596.7 2029.2) scale(0.835 1)">1</text><text transform="translate(629.1 2029.2) scale(0.835 1)">1</text><text transform="translate(616.5 2302.6) scale(0.835 1)">9</text><text transform="translate(648.9 2302.6) scale(0.835 1)">2</text><text transform="translate(681.3 2302.6) scale(0.835 1)">0</text><text transform="translate(713.7 2302.6) scale(0.835 1)">7</text><text transform="translate(746.1 2302.6) scale(0.835 1)">1</text><text transform="translate(834.5 2325.2) scale(0.835 1)">9</text><text transform="translate(866.9 2325.2) scale(0.835 1)">2</text><text transform="translate(899.3 2325.2) scale(0.835 1)">1</text><text transform="translate(931.7 2325.2) scale(0.835 1)">5</text><text transform="translate(964.1 2325.2) scale(0.835 1)">4</text><text transform="translate(996.5 2325.2) scale(0.835 1)">B</text><text transform="translate(1004.6 2392.5) scale(0.835 1)">4</text><text transform="translate(1037 2392.5) scale(0.835 1)">6</text><text transform="translate(1069.4 2392.5) scale(0.835 1)">1</text><text transform="translate(116.7 3192.2) scale(0.835 1)">9</text><text transform="translate(149.1 3192.2) scale(0.835 1)">2</text><text transform="translate(181.5 3192.2) scale(0.835 1)">1</text><text transform="translate(213.9 3192.2) scale(0.835 1)">5</text><text transform="translate(246.3 3192.2) scale(0.835 1)">4</text><text transform="translate(278.7 3192.2) scale(0.835 1)">B</text><text transform="translate(287.8 3262.2) scale(0.835 1)">4</text><text transform="translate(320.2 3262.2) scale(0.835 1)">6</text><text transform="translate(352.6 3262.2) scale(0.835 1)">1</text><text transform="translate(862 3310.4) scale(0.835 1)">2</text><text transform="translate(894.4 3310.4) scale(0.835 1)">7</text><text transform="translate(926.8 3310.4) scale(0.835 1)">0</text><text transform="translate(959.2 3310.4) scale(0.835 1)">1</text><text transform="translate(991.6 3310.4) scale(0.835 1)">0</text><text transform="translate(1190.2 3281.2) scale(0.835 1)">2</text><text transform="translate(1222.6 3281.2) scale(0.835 1)">6</text><text transform="translate(1255 3281.2) scale(0.835 1)">0</text><text transform="translate(1287.4 3281.2) scale(0.835 1)">0</text><text transform="translate(1319.8 3281.2) scale(0.835 1)">6</text><text transform="translate(1202.6 3389.9) scale(0.835 1)">2</text><text transform="translate(1235 3389.9) scale(0.835 1)">6</text><text transform="translate(1267.4 3389.9) scale(0.835 1)">0</text><text transform="translate(1299.8 3389.9) scale(0.835 1)">0</text><text transform="translate(1332.2 3389.9) scale(0.835 1)">6</text><text transform="translate(2027.2 3207.2) scale(0.835 1)">1</text><text transform="translate(2059.6 3207.2) scale(0.835 1)">3</text><text transform="translate(2092 3207.2) scale(0.835 1)">2</text><text transform="translate(2124.4 3207.2) scale(0.835 1)">8</text><text transform="translate(2156.8 3207.2) scale(0.835 1)">0</text><text transform="translate(275.7 714.4) scale(0.835 1)">R</text><text transform="translate(308.1 714.4) scale(0.835 1)">e</text><text transform="translate(340.5 714.4) scale(0.835 1)">f</text><text transform="translate(372.9 714.4) scale(0.835 1)">.</text><text transform="translate(405.3 714.4) scale(0.835 1)">G</text><text transform="translate(437.7 714.4) scale(0.835 1)">e</text><text transform="translate(470.1 714.4) scale(0.835 1)">n</text><text transform="translate(502.5 714.4) scale(0.835 1)">e</text><text transform="translate(534.9 714.4) scale(0.835 1)">r</text><text transform="translate(567.3 714.4) scale(0.835 1)">a</text><text transform="translate(599.7 714.4) scale(0.835 1)">t</text><text transform="translate(632.1 714.4) scale(0.835 1)">o</text><text transform="translate(664.5 714.4) scale(0.835 1)">r</text><text transform="translate(2130.6 2952.6) scale(0.835 1)">R</text><text transform="translate(2163 2952.6) scale(0.835 1)">e</text><text transform="translate(2195.4 2952.6) scale(0.835 1)">f</text><text transform="translate(2227.8 2952.6) scale(0.835 1)">.</text><text transform="translate(2260.2 2952.6) scale(0.835 1)">C</text><text transform="translate(2292.6 2952.6) scale(0.835 1)">r</text><text transform="translate(2325 2952.6) scale(0.835 1)">a</text><text transform="translate(2357.4 2952.6) scale(0.835 1)">n</text><text transform="translate(2389.8 2952.6) scale(0.835 1)">k</text><text transform="translate(2422.2 2952.6) scale(0.835 1)">c</text><text transform="translate(2454.6 2952.6) scale(0.835 1)">a</text><text transform="translate(2487 2952.6) scale(0.835 1)">s</text><text transform="translate(2519.4 2952.6) scale(0.835 1)">e</text><text transform="translate(2701 3168.5) scale(0.835 1)">R</text><text transform="translate(2733.4 3168.5) scale(0.835 1)">e</text><text transform="translate(2765.8 3168.5) scale(0.835 1)">f</text><text transform="translate(2798.2 3168.5) scale(0.835 1)">.</text><text transform="translate(2830.6 3168.5) scale(0.835 1)">C</text><text transform="translate(2863 3168.5) scale(0.835 1)">h</text><text transform="translate(2895.4 3168.5) scale(0.835 1)">a</text><text transform="translate(2927.8 3168.5) scale(0.835 1)">s</text><text transform="translate(2960.2 3168.5) scale(0.835 1)">s</text><text transform="translate(2992.6 3168.5) scale(0.835 1)">i</text><text transform="translate(3025 3168.5) scale(0.835 1)">s</text><text transform="translate(2831.7 3230) scale(0.835 1)">E</text><text transform="translate(2864.1 3230) scale(0.835 1)">l</text><text transform="translate(2896.5 3230) scale(0.835 1)">e</text><text transform="translate(2928.9 3230) scale(0.835 1)">c</text><text transform="translate(2961.3 3230) scale(0.835 1)">t</text><text transform="translate(2993.7 3230) scale(0.835 1)">r</text><text transform="translate(3026.1 3230) scale(0.835 1)">i</text><text transform="translate(3058.5 3230) scale(0.835 1)">c</text><text transform="translate(3090.9 3230) scale(0.835 1)">a</text><text transform="translate(3123.3 3230) scale(0.835 1)">l</text><text transform="translate(2831.7 3290.7) scale(0.835 1)">E</text><text transform="translate(2864.1 3290.7) scale(0.835 1)">q</text><text transform="translate(2896.5 3290.7) scale(0.835 1)">u</text><text transform="translate(2928.9 3290.7) scale(0.835 1)">i</text><text transform="translate(2961.3 3290.7) scale(0.835 1)">p</text><text transform="translate(2993.7 3290.7) scale(0.835 1)">m</text><text transform="translate(3026.1 3290.7) scale(0.835 1)">e</text><text transform="translate(3058.5 3290.7) scale(0.835 1)">n</text><text transform="translate(3090.9 3290.7) scale(0.835 1)">t</text><text transform="translate(313.9 4028.2) scale(0.835 1)">R</text><text transform="translate(346.3 4028.2) scale(0.835 1)">e</text><text transform="translate(378.7 4028.2) scale(0.835 1)">f</text><text transform="translate(411.1 4028.2) scale(0.835 1)">.</text><text transform="translate(443.5 4028.2) scale(0.835 1)">C</text><text transform="translate(475.9 4028.2) scale(0.835 1)">h</text><text transform="translate(508.3 4028.2) scale(0.835 1)">a</text><text transform="translate(540.7 4028.2) scale(0.835 1)">s</text><text transform="translate(573.1 4028.2) scale(0.835 1)">s</text><text transform="translate(605.5 4028.2) scale(0.835 1)">i</text><text transform="translate(637.9 4028.2) scale(0.835 1)">s</text><text transform="translate(702.7 4028.2) scale(0.835 1)">E</text><text transform="translate(735.1 4028.2) scale(0.835 1)">l</text><text transform="translate(767.5 4028.2) scale(0.835 1)">e</text><text transform="translate(799.9 4028.2) scale(0.835 1)">c</text><text transform="translate(832.3 4028.2) scale(0.835 1)">t</text><text transform="translate(864.7 4028.2) scale(0.835 1)">r</text><text transform="translate(897.1 4028.2) scale(0.835 1)">i</text><text transform="translate(929.5 4028.2) scale(0.835 1)">c</text><text transform="translate(961.9 4028.2) scale(0.835 1)">a</text><text transform="translate(994.3 4028.2) scale(0.835 1)">l</text><text transform="translate(1059.1 4028.2) scale(0.835 1)">E</text><text transform="translate(1091.5 4028.2) scale(0.835 1)">q</text><text transform="translate(1123.9 4028.2) scale(0.835 1)">u</text><text transform="translate(1156.3 4028.2) scale(0.835 1)">i</text><text transform="translate(1188.7 4028.2) scale(0.835 1)">p</text><text transform="translate(1221.1 4028.2) scale(0.835 1)">m</text><text transform="translate(1253.5 4028.2) scale(0.835 1)">e</text><text transform="translate(1285.9 4028.2) scale(0.835 1)">n</text><text transform="translate(1318.3 4028.2) scale(0.835 1)">t</text><text transform="translate(2759 1188.7) scale(0.835 1)">A</text><text transform="translate(367.1 2778.2) scale(0.835 1)">A</text><text transform="translate(668 3509.2) scale(0.835 1)">B</text><text transform="translate(1527 3560.2) scale(0.835 1)">B</text></g>
</g>
</svg>
</body></html>
